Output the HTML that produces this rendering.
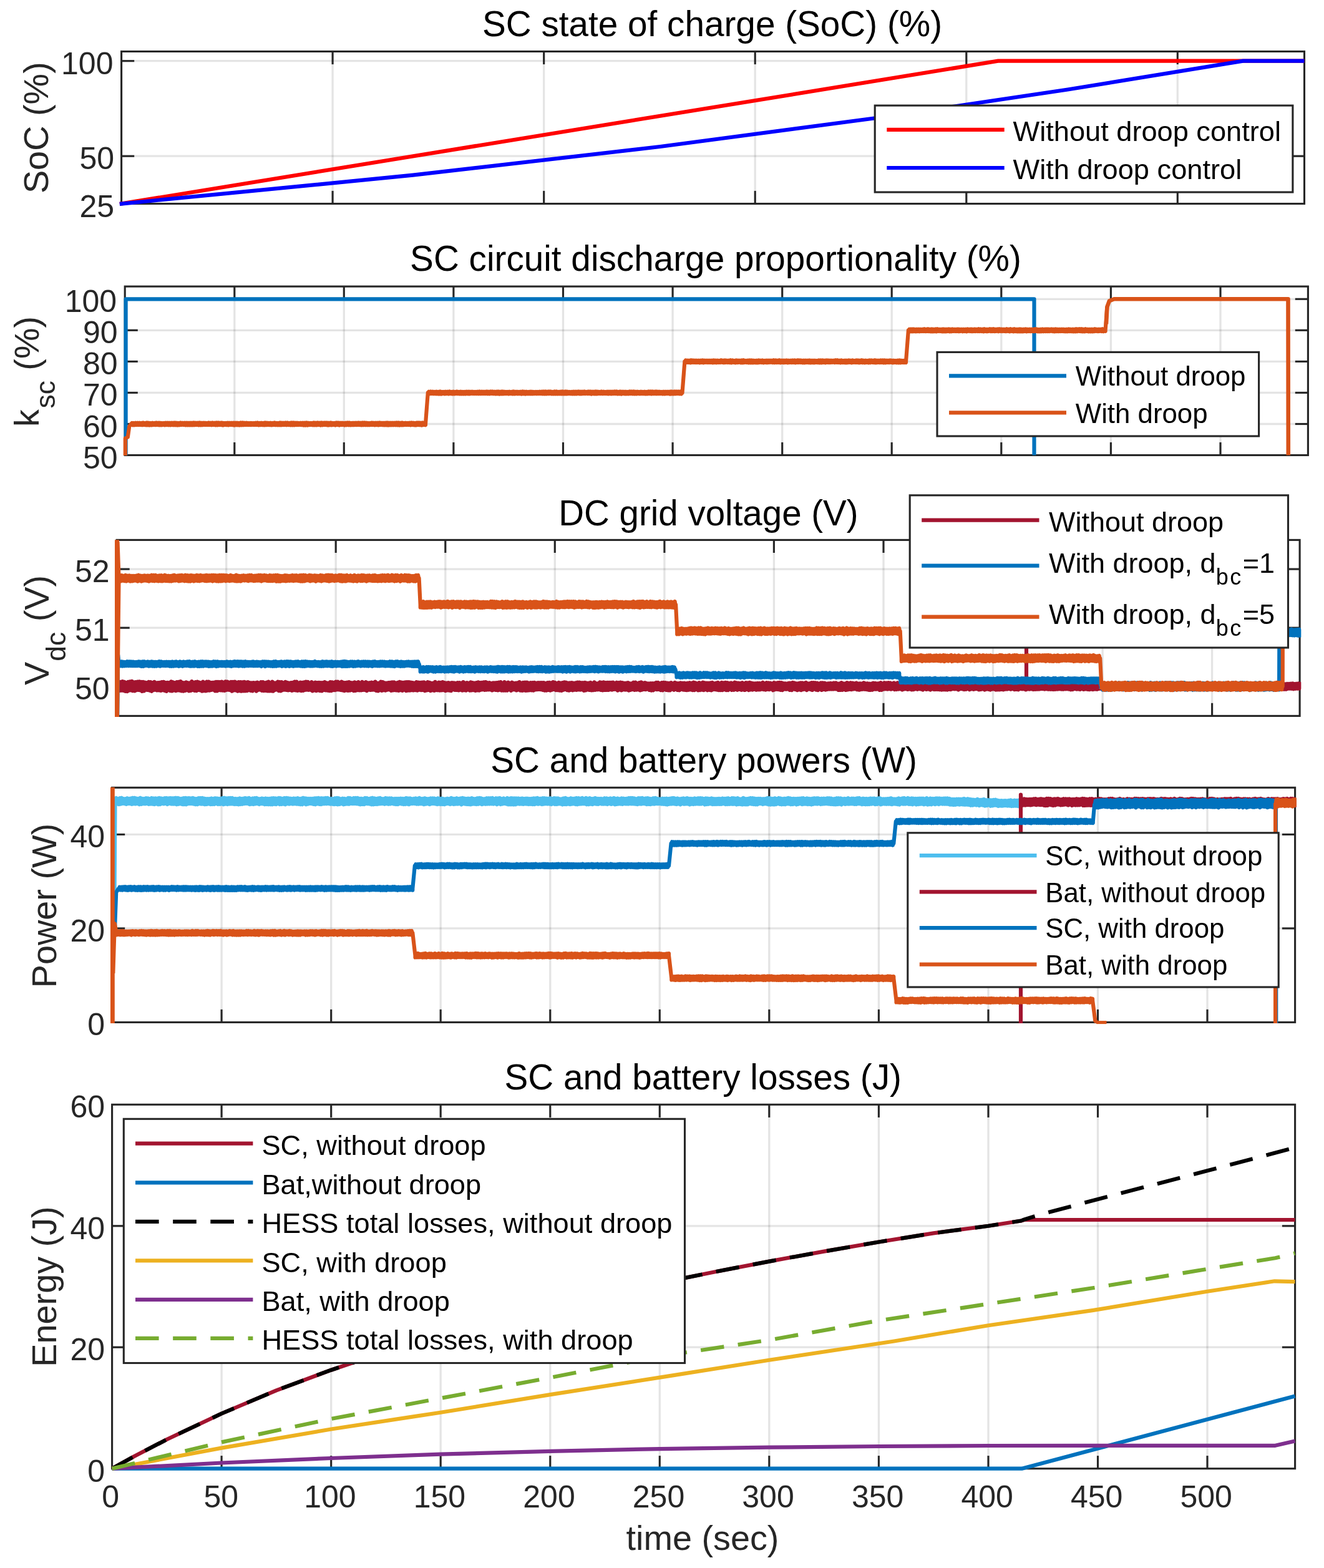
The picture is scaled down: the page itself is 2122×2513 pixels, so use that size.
<!DOCTYPE html>
<html lang="en"><head><meta charset="utf-8"><title>SC and battery droop control results</title>
<style>
html,body{margin:0;padding:0;background:#fff;}
body{width:2122px;height:2513px;overflow:hidden;}
svg{display:block;font-family:'Liberation Sans', Arial, Helvetica, sans-serif;}
</style></head><body>
<svg width="2122" height="2513" viewBox="0 0 2122 2513">
<rect width="2122" height="2513" fill="#fff"/>
<defs>
<clipPath id="c1"><rect x="190.6" y="78.5" width="1902.1" height="252"/></clipPath>
<clipPath id="c2"><rect x="196.2" y="455.1" width="1902.4" height="278.4"/></clipPath>
<clipPath id="c3"><rect x="183.1" y="861.4" width="1902.2" height="290"/></clipPath>
<clipPath id="c4"><rect x="175.6" y="1258.3" width="1902.2" height="384.1"/></clipPath>
<clipPath id="c5"><rect x="175.6" y="1766.3" width="1902.2" height="591.4"/></clipPath>
</defs>
<line x1="533.1" y1="82.5" x2="533.1" y2="326.5" stroke="rgba(0,0,0,0.105)" stroke-width="3.3"/>
<line x1="871.7" y1="82.5" x2="871.7" y2="326.5" stroke="rgba(0,0,0,0.105)" stroke-width="3.3"/>
<line x1="1210.2" y1="82.5" x2="1210.2" y2="326.5" stroke="rgba(0,0,0,0.105)" stroke-width="3.3"/>
<line x1="1548.8" y1="82.5" x2="1548.8" y2="326.5" stroke="rgba(0,0,0,0.105)" stroke-width="3.3"/>
<line x1="1887.3" y1="82.5" x2="1887.3" y2="326.5" stroke="rgba(0,0,0,0.105)" stroke-width="3.3"/>
<line x1="194.6" y1="250.2" x2="2090.5" y2="250.2" stroke="rgba(0,0,0,0.105)" stroke-width="3.3"/>
<line x1="194.6" y1="97.7" x2="2090.5" y2="97.7" stroke="rgba(0,0,0,0.105)" stroke-width="3.3"/>
<rect x="194.6" y="82.5" width="1895.9" height="244" fill="none" stroke="#262626" stroke-width="3.1"/>
<line x1="533.1" y1="326.5" x2="533.1" y2="305.9" stroke="#262626" stroke-width="3.1"/>
<line x1="533.1" y1="82.5" x2="533.1" y2="103.1" stroke="#262626" stroke-width="3.1"/>
<line x1="871.7" y1="326.5" x2="871.7" y2="305.9" stroke="#262626" stroke-width="3.1"/>
<line x1="871.7" y1="82.5" x2="871.7" y2="103.1" stroke="#262626" stroke-width="3.1"/>
<line x1="1210.2" y1="326.5" x2="1210.2" y2="305.9" stroke="#262626" stroke-width="3.1"/>
<line x1="1210.2" y1="82.5" x2="1210.2" y2="103.1" stroke="#262626" stroke-width="3.1"/>
<line x1="1548.8" y1="326.5" x2="1548.8" y2="305.9" stroke="#262626" stroke-width="3.1"/>
<line x1="1548.8" y1="82.5" x2="1548.8" y2="103.1" stroke="#262626" stroke-width="3.1"/>
<line x1="1887.3" y1="326.5" x2="1887.3" y2="305.9" stroke="#262626" stroke-width="3.1"/>
<line x1="1887.3" y1="82.5" x2="1887.3" y2="103.1" stroke="#262626" stroke-width="3.1"/>
<line x1="194.6" y1="250.2" x2="215.2" y2="250.2" stroke="#262626" stroke-width="3.1"/>
<line x1="2090.5" y1="250.2" x2="2069.9" y2="250.2" stroke="#262626" stroke-width="3.1"/>
<line x1="194.6" y1="97.7" x2="215.2" y2="97.7" stroke="#262626" stroke-width="3.1"/>
<line x1="2090.5" y1="97.7" x2="2069.9" y2="97.7" stroke="#262626" stroke-width="3.1"/>
<text x="183.1" y="347.5" font-size="50" text-anchor="end" fill="#262626">25</text>
<text x="183.1" y="271.2" font-size="50" text-anchor="end" fill="#262626">50</text>
<text x="181.5" y="118.7" font-size="50" text-anchor="end" fill="#262626">100</text>
<text x="1141.5" y="57.8" font-size="56.7" text-anchor="middle" fill="#000">SC state of charge (SoC) (%)</text>
<text transform="translate(77 204.7) rotate(-90)" font-size="55.8" text-anchor="middle" fill="#262626">SoC (%)</text>
<path d="M191.8 326.9 L1599.6 97.7 L2090.5 97.7" fill="none" stroke="#ff0000" stroke-width="6.2" stroke-linejoin="miter" stroke-linecap="butt" clip-path="url(#c1)"/>
<path d="M191.8 326.8 L661.8 280.7 L1057.9 235 L1403.2 189.2 L1711.3 143.5 L1992.3 97.7 L2090.5 97.7" fill="none" stroke="#0000ff" stroke-width="6.2" stroke-linejoin="miter" stroke-linecap="butt" clip-path="url(#c1)"/>
<rect x="1402.2" y="169.1" width="669.7" height="138.9" fill="#fff" stroke="#262626" stroke-width="3.1"/>
<line x1="1421.3" y1="207.8" x2="1609.7" y2="207.8" stroke="#ff0000" stroke-width="6.2"/>
<text x="1623.5" y="226" font-size="45.2" text-anchor="start" fill="#000">Without droop control</text>
<line x1="1421.3" y1="269" x2="1609.7" y2="269" stroke="#0000ff" stroke-width="6.2"/>
<text x="1623.5" y="287.2" font-size="45.2" text-anchor="start" fill="#000">With droop control</text>
<line x1="375.8" y1="459.1" x2="375.8" y2="729.5" stroke="rgba(0,0,0,0.105)" stroke-width="3.3"/>
<line x1="551.3" y1="459.1" x2="551.3" y2="729.5" stroke="rgba(0,0,0,0.105)" stroke-width="3.3"/>
<line x1="726.9" y1="459.1" x2="726.9" y2="729.5" stroke="rgba(0,0,0,0.105)" stroke-width="3.3"/>
<line x1="902.5" y1="459.1" x2="902.5" y2="729.5" stroke="rgba(0,0,0,0.105)" stroke-width="3.3"/>
<line x1="1078.1" y1="459.1" x2="1078.1" y2="729.5" stroke="rgba(0,0,0,0.105)" stroke-width="3.3"/>
<line x1="1253.7" y1="459.1" x2="1253.7" y2="729.5" stroke="rgba(0,0,0,0.105)" stroke-width="3.3"/>
<line x1="1429.2" y1="459.1" x2="1429.2" y2="729.5" stroke="rgba(0,0,0,0.105)" stroke-width="3.3"/>
<line x1="1604.8" y1="459.1" x2="1604.8" y2="729.5" stroke="rgba(0,0,0,0.105)" stroke-width="3.3"/>
<line x1="1780.4" y1="459.1" x2="1780.4" y2="729.5" stroke="rgba(0,0,0,0.105)" stroke-width="3.3"/>
<line x1="1956" y1="459.1" x2="1956" y2="729.5" stroke="rgba(0,0,0,0.105)" stroke-width="3.3"/>
<line x1="200.2" y1="679.5" x2="2096.4" y2="679.5" stroke="rgba(0,0,0,0.105)" stroke-width="3.3"/>
<line x1="200.2" y1="629.4" x2="2096.4" y2="629.4" stroke="rgba(0,0,0,0.105)" stroke-width="3.3"/>
<line x1="200.2" y1="579.4" x2="2096.4" y2="579.4" stroke="rgba(0,0,0,0.105)" stroke-width="3.3"/>
<line x1="200.2" y1="529.3" x2="2096.4" y2="529.3" stroke="rgba(0,0,0,0.105)" stroke-width="3.3"/>
<line x1="200.2" y1="479.3" x2="2096.4" y2="479.3" stroke="rgba(0,0,0,0.105)" stroke-width="3.3"/>
<rect x="200.2" y="459.1" width="1896.2" height="270.4" fill="none" stroke="#262626" stroke-width="3.1"/>
<line x1="375.8" y1="729.5" x2="375.8" y2="708.9" stroke="#262626" stroke-width="3.1"/>
<line x1="375.8" y1="459.1" x2="375.8" y2="479.7" stroke="#262626" stroke-width="3.1"/>
<line x1="551.3" y1="729.5" x2="551.3" y2="708.9" stroke="#262626" stroke-width="3.1"/>
<line x1="551.3" y1="459.1" x2="551.3" y2="479.7" stroke="#262626" stroke-width="3.1"/>
<line x1="726.9" y1="729.5" x2="726.9" y2="708.9" stroke="#262626" stroke-width="3.1"/>
<line x1="726.9" y1="459.1" x2="726.9" y2="479.7" stroke="#262626" stroke-width="3.1"/>
<line x1="902.5" y1="729.5" x2="902.5" y2="708.9" stroke="#262626" stroke-width="3.1"/>
<line x1="902.5" y1="459.1" x2="902.5" y2="479.7" stroke="#262626" stroke-width="3.1"/>
<line x1="1078.1" y1="729.5" x2="1078.1" y2="708.9" stroke="#262626" stroke-width="3.1"/>
<line x1="1078.1" y1="459.1" x2="1078.1" y2="479.7" stroke="#262626" stroke-width="3.1"/>
<line x1="1253.7" y1="729.5" x2="1253.7" y2="708.9" stroke="#262626" stroke-width="3.1"/>
<line x1="1253.7" y1="459.1" x2="1253.7" y2="479.7" stroke="#262626" stroke-width="3.1"/>
<line x1="1429.2" y1="729.5" x2="1429.2" y2="708.9" stroke="#262626" stroke-width="3.1"/>
<line x1="1429.2" y1="459.1" x2="1429.2" y2="479.7" stroke="#262626" stroke-width="3.1"/>
<line x1="1604.8" y1="729.5" x2="1604.8" y2="708.9" stroke="#262626" stroke-width="3.1"/>
<line x1="1604.8" y1="459.1" x2="1604.8" y2="479.7" stroke="#262626" stroke-width="3.1"/>
<line x1="1780.4" y1="729.5" x2="1780.4" y2="708.9" stroke="#262626" stroke-width="3.1"/>
<line x1="1780.4" y1="459.1" x2="1780.4" y2="479.7" stroke="#262626" stroke-width="3.1"/>
<line x1="1956" y1="729.5" x2="1956" y2="708.9" stroke="#262626" stroke-width="3.1"/>
<line x1="1956" y1="459.1" x2="1956" y2="479.7" stroke="#262626" stroke-width="3.1"/>
<line x1="200.2" y1="679.5" x2="220.8" y2="679.5" stroke="#262626" stroke-width="3.1"/>
<line x1="2096.4" y1="679.5" x2="2075.8" y2="679.5" stroke="#262626" stroke-width="3.1"/>
<line x1="200.2" y1="629.4" x2="220.8" y2="629.4" stroke="#262626" stroke-width="3.1"/>
<line x1="2096.4" y1="629.4" x2="2075.8" y2="629.4" stroke="#262626" stroke-width="3.1"/>
<line x1="200.2" y1="579.4" x2="220.8" y2="579.4" stroke="#262626" stroke-width="3.1"/>
<line x1="2096.4" y1="579.4" x2="2075.8" y2="579.4" stroke="#262626" stroke-width="3.1"/>
<line x1="200.2" y1="529.3" x2="220.8" y2="529.3" stroke="#262626" stroke-width="3.1"/>
<line x1="2096.4" y1="529.3" x2="2075.8" y2="529.3" stroke="#262626" stroke-width="3.1"/>
<line x1="200.2" y1="479.3" x2="220.8" y2="479.3" stroke="#262626" stroke-width="3.1"/>
<line x1="2096.4" y1="479.3" x2="2075.8" y2="479.3" stroke="#262626" stroke-width="3.1"/>
<text x="188.7" y="750.5" font-size="50" text-anchor="end" fill="#262626">50</text>
<text x="188.7" y="700.5" font-size="50" text-anchor="end" fill="#262626">60</text>
<text x="188.7" y="650.4" font-size="50" text-anchor="end" fill="#262626">70</text>
<text x="188.7" y="600.4" font-size="50" text-anchor="end" fill="#262626">80</text>
<text x="188.7" y="550.3" font-size="50" text-anchor="end" fill="#262626">90</text>
<text x="187.1" y="500.3" font-size="50" text-anchor="end" fill="#262626">100</text>
<text x="1147" y="434.4" font-size="56.7" text-anchor="middle" fill="#000">SC circuit discharge proportionality (%)</text>
<text transform="translate(61.5 684) rotate(-90)" font-size="55.8" fill="#262626">k<tspan dy="26.4" dx="1.5" font-size="44.6">sc</tspan><tspan dy="-26.4" dx="0.8"> (%)</tspan></text>
<path d="M201.6 729.5 L201.6 479.3 L1657.5 479.3 L1657.5 729.5" fill="none" stroke="#0072bd" stroke-width="6.2" stroke-linejoin="round" stroke-linecap="butt" clip-path="url(#c2)"/>
<path d="M200.8 729.9 L200.8 702.5 L204.8 700.5 L207.2 683.5 L210 679.5 L210 681.1 L211.5 677.9 L213 681.3 L214.5 678 L216 681.2 L217.5 677.8 L219.1 681 L220.6 677.7 L222.1 680.9 L223.6 677.7 L225.1 681 L226.6 677.9 L228.1 681.2 L229.6 677.5 L231.1 681 L232.6 677.9 L234.1 681.3 L235.6 677.4 L237.1 681.3 L238.6 677.8 L240.1 681.5 L241.6 678 L243.1 681.4 L244.6 677.8 L246.1 681 L247.6 677.9 L249.1 681.1 L250.6 677.5 L252.1 681 L253.6 677.6 L255.1 681.3 L256.6 677.8 L258.1 681.3 L259.6 678 L261.1 681 L262.6 677.9 L264.1 681.3 L265.6 677.7 L267.1 681.1 L268.6 677.6 L270.2 681.2 L271.7 677.8 L273.2 681.4 L274.7 677.6 L276.2 681.1 L277.7 677.7 L279.2 681.2 L280.7 677.5 L282.2 681.4 L283.7 677.8 L285.2 681.5 L286.7 677.9 L288.2 681.2 L289.7 677.5 L291.2 681 L292.7 677.7 L294.2 680.9 L295.7 677.6 L297.2 681.4 L298.7 677.7 L300.2 681.4 L301.7 677.8 L303.2 681.3 L304.7 677.6 L306.2 681.3 L307.7 677.7 L309.2 681.4 L310.7 677.4 L312.2 681.2 L313.7 677.6 L315.2 681 L316.7 677.6 L318.2 681.3 L319.8 677.4 L321.3 681.4 L322.8 677.8 L324.3 681.2 L325.8 677.6 L327.3 680.9 L328.8 677.7 L330.3 681 L331.8 677.9 L333.3 681 L334.8 677.5 L336.3 681 L337.8 677.8 L339.3 681.2 L340.8 677.5 L342.3 681 L343.8 677.7 L345.3 681.3 L346.8 677.5 L348.3 681.4 L349.8 677.5 L351.3 681.1 L352.8 677.7 L354.3 681.1 L355.8 677.5 L357.3 681.5 L358.8 677.9 L360.3 681 L361.8 677.9 L363.3 681.1 L364.8 677.7 L366.3 681.3 L367.8 677.8 L369.4 680.9 L370.9 677.7 L372.4 681.1 L373.9 677.7 L375.4 681.5 L376.9 677.6 L378.4 681.2 L379.9 677.6 L381.4 681.3 L382.9 678 L384.4 681.5 L385.9 677.5 L387.4 681.4 L388.9 677.5 L390.4 681.2 L391.9 677.8 L393.4 681 L394.9 677.6 L396.4 681 L397.9 678 L399.4 681 L400.9 677.9 L402.4 681.1 L403.9 678 L405.4 680.9 L406.9 677.9 L408.4 681 L409.9 677.8 L411.4 680.9 L412.9 677.5 L414.4 681.3 L415.9 677.9 L417.4 681.1 L419 677.8 L420.5 681.1 L422 677.9 L423.5 681.4 L425 677.4 L426.5 681.2 L428 677.7 L429.5 681 L431 677.9 L432.5 681.1 L434 677.8 L435.5 681.4 L437 677.9 L438.5 680.9 L440 677.4 L441.5 681.2 L443 677.9 L444.5 681.2 L446 678 L447.5 681.2 L449 677.4 L450.5 681.4 L452 677.6 L453.5 681.1 L455 677.8 L456.5 681 L458 677.5 L459.5 681.2 L461 677.5 L462.5 681.1 L464 677.9 L465.5 681.4 L467 677.4 L468.6 681.4 L470.1 677.5 L471.6 681.4 L473.1 677.6 L474.6 681.1 L476.1 677.7 L477.6 681.1 L479.1 678 L480.6 680.9 L482.1 677.8 L483.6 681.1 L485.1 677.6 L486.6 681.5 L488.1 677.7 L489.6 681.5 L491.1 677.4 L492.6 681.5 L494.1 677.8 L495.6 681.1 L497.1 677.9 L498.6 681 L500.1 677.9 L501.6 681.3 L503.1 677.5 L504.6 681.4 L506.1 677.7 L507.6 681.3 L509.1 677.5 L510.6 681 L512.1 677.6 L513.6 681.5 L515.1 677.5 L516.6 681.4 L518.1 677.7 L519.7 681 L521.2 677.5 L522.7 681.1 L524.2 677.5 L525.7 681.5 L527.2 677.8 L528.7 681.2 L530.2 677.4 L531.7 681.4 L533.2 677.9 L534.7 681 L536.2 677.9 L537.7 681.5 L539.2 677.5 L540.7 681 L542.2 677.5 L543.7 681.5 L545.2 677.6 L546.7 681.1 L548.2 677.7 L549.7 681 L551.2 678 L552.7 681.5 L554.2 677.6 L555.7 681.2 L557.2 677.4 L558.7 681.2 L560.2 677.5 L561.7 681.4 L563.2 677.9 L564.7 681.1 L566.2 677.8 L567.7 681.1 L569.3 677.6 L570.8 681.1 L572.3 677.7 L573.8 681 L575.3 677.5 L576.8 681.1 L578.3 677.7 L579.8 681.3 L581.3 677.5 L582.8 681.2 L584.3 677.4 L585.8 681.2 L587.3 677.7 L588.8 681.2 L590.3 678 L591.8 681.2 L593.3 677.9 L594.8 680.9 L596.3 677.5 L597.8 681 L599.3 677.7 L600.8 681.4 L602.3 677.7 L603.8 681.1 L605.3 677.7 L606.8 681.3 L608.3 677.5 L609.8 681 L611.3 677.7 L612.8 681.1 L614.3 677.8 L615.8 681.4 L617.3 677.7 L618.9 681.3 L620.4 677.5 L621.9 681.5 L623.4 677.7 L624.9 681.3 L626.4 677.7 L627.9 681.2 L629.4 677.6 L630.9 681.2 L632.4 677.7 L633.9 681.2 L635.4 677.4 L636.9 681.3 L638.4 677.5 L639.9 681.5 L641.4 677.8 L642.9 681.3 L644.4 677.4 L645.9 681.4 L647.4 677.9 L648.9 681 L650.4 677.7 L651.9 681 L653.4 677.9 L654.9 681 L656.4 677.6 L657.9 681.4 L659.4 677.5 L660.9 681 L662.4 677.6 L663.9 681.3 L665.4 677.9 L666.9 681.5 L668.5 677.4 L670 681.1 L671.5 677.4 L673 681.2 L674.5 677.7 L676 681.5 L677.5 677.5 L679 681 L680.5 677.7 L682 681.2 L682 679.5 L685.8 629.4 L685.8 631.1 L687.3 627.8 L688.8 631.1 L690.4 627.5 L691.9 630.9 L693.4 627.6 L694.9 631.1 L696.4 627.9 L697.9 631.1 L699.4 627.6 L700.9 631.2 L702.4 627.9 L703.9 631.5 L705.4 627.5 L706.9 631.5 L708.4 627.9 L709.9 631 L711.4 627.9 L712.9 631.3 L714.4 627.8 L715.9 631 L717.4 627.7 L718.9 631.4 L720.4 627.5 L721.9 631 L723.4 627.9 L725 631.4 L726.5 627.6 L728 631.3 L729.5 627.9 L731 630.9 L732.5 627.5 L734 631.1 L735.5 627.9 L737 631.4 L738.5 627.6 L740 631.4 L741.5 627.9 L743 631.4 L744.5 627.9 L746 631.4 L747.5 627.7 L749 631.1 L750.5 627.6 L752 631.4 L753.5 627.8 L755 631 L756.5 627.6 L758.1 631 L759.6 627.9 L761.1 631 L762.6 627.9 L764.1 631 L765.6 627.8 L767.1 631.1 L768.6 627.5 L770.1 631.1 L771.6 627.7 L773.1 631 L774.6 627.7 L776.1 630.9 L777.6 627.8 L779.1 630.9 L780.6 627.5 L782.1 631.2 L783.6 627.8 L785.1 631.2 L786.6 627.4 L788.1 630.9 L789.6 627.5 L791.1 631.1 L792.7 627.7 L794.2 631.4 L795.7 627.7 L797.2 631.2 L798.7 627.5 L800.2 631.5 L801.7 627.8 L803.2 631.4 L804.7 627.5 L806.2 631.3 L807.7 627.7 L809.2 631.1 L810.7 627.9 L812.2 631 L813.7 627.9 L815.2 631.3 L816.7 627.8 L818.2 631 L819.7 627.9 L821.2 631.4 L822.7 627.4 L824.2 631.3 L825.7 627.8 L827.3 631 L828.8 627.8 L830.3 631.2 L831.8 627.9 L833.3 631.1 L834.8 627.8 L836.3 631.5 L837.8 627.4 L839.3 631.2 L840.8 627.8 L842.3 631.5 L843.8 627.8 L845.3 631.1 L846.8 628 L848.3 631.1 L849.8 627.7 L851.3 631.2 L852.8 627.8 L854.3 631.2 L855.8 628 L857.3 631 L858.8 627.9 L860.3 631.1 L861.9 627.9 L863.4 630.9 L864.9 627.8 L866.4 631 L867.9 627.6 L869.4 631.2 L870.9 627.5 L872.4 631.3 L873.9 627.5 L875.4 631.4 L876.9 627.7 L878.4 631.1 L879.9 627.4 L881.4 631 L882.9 627.5 L884.4 631.3 L885.9 627.9 L887.4 631.4 L888.9 627.4 L890.4 631.3 L891.9 627.5 L893.4 631.4 L894.9 627.9 L896.5 631.2 L898 627.7 L899.5 631.4 L901 627.5 L902.5 631.4 L904 627.6 L905.5 631.4 L907 627.5 L908.5 631.3 L910 627.8 L911.5 630.9 L913 627.9 L914.5 631.1 L916 627.9 L917.5 631.4 L919 627.6 L920.5 631.3 L922 627.6 L923.5 631.3 L925 627.7 L926.5 630.9 L928 627.5 L929.5 631.3 L931.1 627.7 L932.6 631.2 L934.1 627.6 L935.6 630.9 L937.1 627.5 L938.6 631 L940.1 627.9 L941.6 631 L943.1 627.5 L944.6 631 L946.1 627.5 L947.6 631.5 L949.1 627.7 L950.6 631.1 L952.1 627.7 L953.6 631.3 L955.1 627.5 L956.6 631.3 L958.1 627.6 L959.6 630.9 L961.1 627.9 L962.6 631 L964.1 627.5 L965.7 631.1 L967.2 627.6 L968.7 630.9 L970.2 627.9 L971.7 631 L973.2 627.6 L974.7 631.3 L976.2 627.6 L977.7 631.1 L979.2 627.6 L980.7 631.2 L982.2 627.7 L983.7 631 L985.2 627.4 L986.7 631 L988.2 627.4 L989.7 631.4 L991.2 627.9 L992.7 631.2 L994.2 627.5 L995.7 631.5 L997.2 627.7 L998.8 631 L1000.3 627.8 L1001.8 631.4 L1003.3 627.8 L1004.8 631.2 L1006.3 627.9 L1007.8 631.2 L1009.3 627.4 L1010.8 631 L1012.3 627.5 L1013.8 631.2 L1015.3 627.4 L1016.8 631.3 L1018.3 627.8 L1019.8 631.4 L1021.3 627.7 L1022.8 630.9 L1024.3 628 L1025.8 631.2 L1027.3 627.7 L1028.8 631.1 L1030.3 627.9 L1031.8 631.1 L1033.4 627.8 L1034.9 631.4 L1036.4 628 L1037.9 631.3 L1039.4 627.5 L1040.9 631 L1042.4 627.4 L1043.9 631.3 L1045.4 627.4 L1046.9 631.1 L1048.4 627.7 L1049.9 631.1 L1051.4 627.4 L1052.9 631.2 L1054.4 627.7 L1055.9 631.1 L1057.4 627.8 L1058.9 630.9 L1060.4 627.9 L1061.9 631.4 L1063.4 627.8 L1064.9 631.4 L1066.4 627.8 L1068 631 L1069.5 627.7 L1071 631 L1072.5 627.7 L1074 631.5 L1075.5 627.4 L1077 631.4 L1078.5 627.6 L1080 631.4 L1081.5 627.4 L1083 631.2 L1084.5 627.5 L1086 630.9 L1087.5 627.5 L1089 631.2 L1090.5 627.5 L1092 631.3 L1093.5 627.8 L1093.5 629.4 L1097.4 579.4 L1097.4 580.9 L1098.9 577.4 L1100.4 580.9 L1101.9 577.6 L1103.4 581 L1104.9 577.7 L1106.4 581.3 L1107.9 577.3 L1109.4 581 L1110.9 577.5 L1112.4 581 L1113.9 577.6 L1115.4 581.1 L1116.9 577.8 L1118.4 580.9 L1119.9 577.8 L1121.4 581.4 L1122.9 577.6 L1124.4 581 L1125.9 577.4 L1127.4 581.4 L1128.9 577.6 L1130.4 580.9 L1132 577.8 L1133.5 580.9 L1135 577.7 L1136.5 580.9 L1138 577.8 L1139.5 581 L1141 577.6 L1142.5 581.4 L1144 577.5 L1145.5 581.1 L1147 577.7 L1148.5 581.2 L1150 577.7 L1151.5 581 L1153 577.9 L1154.5 581 L1156 577.3 L1157.5 580.9 L1159 577.6 L1160.5 581.2 L1162 577.4 L1163.5 581 L1165 577.8 L1166.5 581 L1168 577.7 L1169.5 581.1 L1171 577.3 L1172.5 581.4 L1174 577.4 L1175.5 580.9 L1177 577.9 L1178.5 581.3 L1180 577.4 L1181.5 581.1 L1183 577.6 L1184.6 580.8 L1186.1 577.7 L1187.6 581.4 L1189.1 577.4 L1190.6 581.4 L1192.1 577.3 L1193.6 581 L1195.1 577.9 L1196.6 580.9 L1198.1 577.6 L1199.6 581.3 L1201.1 577.4 L1202.6 581.3 L1204.1 577.5 L1205.6 581.3 L1207.1 577.6 L1208.6 581.2 L1210.1 577.9 L1211.6 581.3 L1213.1 577.8 L1214.6 581.4 L1216.1 577.5 L1217.6 581 L1219.1 577.8 L1220.6 581 L1222.1 577.5 L1223.6 581.3 L1225.1 577.9 L1226.6 580.9 L1228.1 577.6 L1229.6 581.2 L1231.1 577.7 L1232.6 581 L1234.1 577.6 L1235.6 580.8 L1237.1 577.7 L1238.7 581.1 L1240.2 577.3 L1241.7 581.2 L1243.2 577.4 L1244.7 581.1 L1246.2 577.8 L1247.7 581 L1249.2 577.3 L1250.7 581.3 L1252.2 577.7 L1253.7 580.9 L1255.2 577.6 L1256.7 581.2 L1258.2 577.7 L1259.7 581 L1261.2 577.5 L1262.7 581.4 L1264.2 577.8 L1265.7 580.9 L1267.2 577.7 L1268.7 581.1 L1270.2 577.5 L1271.7 581 L1273.2 577.4 L1274.7 581.3 L1276.2 577.6 L1277.7 581 L1279.2 577.3 L1280.7 581 L1282.2 577.4 L1283.7 581 L1285.2 577.8 L1286.7 581.3 L1288.2 577.7 L1289.7 581.4 L1291.2 577.6 L1292.8 581 L1294.3 577.8 L1295.8 581.1 L1297.3 577.5 L1298.8 581.4 L1300.3 577.8 L1301.8 581.1 L1303.3 577.8 L1304.8 581.4 L1306.3 577.8 L1307.8 580.9 L1309.3 577.9 L1310.8 581.1 L1312.3 577.4 L1313.8 581.4 L1315.3 577.5 L1316.8 581.4 L1318.3 577.4 L1319.8 581 L1321.3 577.8 L1322.8 581.4 L1324.3 577.5 L1325.8 580.9 L1327.3 577.5 L1328.8 581.1 L1330.3 577.7 L1331.8 581 L1333.3 577.8 L1334.8 580.8 L1336.3 577.7 L1337.8 581.1 L1339.3 577.3 L1340.8 580.9 L1342.3 577.3 L1343.8 581 L1345.4 577.7 L1346.9 581.3 L1348.4 577.4 L1349.9 581.1 L1351.4 577.9 L1352.9 581.1 L1354.4 577.7 L1355.9 581.4 L1357.4 577.8 L1358.9 581.1 L1360.4 577.4 L1361.9 580.9 L1363.4 577.7 L1364.9 581.3 L1366.4 577.5 L1367.9 580.9 L1369.4 577.9 L1370.9 580.9 L1372.4 577.4 L1373.9 581 L1375.4 577.5 L1376.9 581.4 L1378.4 577.7 L1379.9 581 L1381.4 577.3 L1382.9 581.2 L1384.4 577.8 L1385.9 581.3 L1387.4 577.7 L1388.9 581 L1390.4 577.9 L1391.9 581.3 L1393.4 577.4 L1394.9 581.2 L1396.4 577.4 L1397.9 580.9 L1399.5 577.8 L1401 581.1 L1402.5 577.3 L1404 581.4 L1405.5 577.7 L1407 581 L1408.5 577.7 L1410 581.1 L1411.5 577.4 L1413 581 L1414.5 577.4 L1416 581.3 L1417.5 577.4 L1419 581.3 L1420.5 577.6 L1422 581 L1423.5 577.7 L1425 581.1 L1426.5 577.4 L1428 580.9 L1429.5 577.8 L1431 581.3 L1432.5 577.8 L1434 580.9 L1435.5 577.9 L1437 581.2 L1438.5 577.7 L1440 581.4 L1441.5 577.4 L1443 581.4 L1444.5 577.8 L1446 580.9 L1447.5 577.9 L1449 581.1 L1450.5 577.5 L1452 581.1 L1452 579.4 L1455.9 529.3 L1455.9 530.9 L1457.4 527.6 L1458.9 531.2 L1460.4 527.5 L1461.9 531.3 L1463.4 527.4 L1464.9 531.2 L1466.4 527.8 L1467.9 531.3 L1469.4 527.7 L1470.9 531.1 L1472.4 527.7 L1474 531.2 L1475.5 527.8 L1477 531 L1478.5 527.7 L1480 530.9 L1481.5 527.3 L1483 531.1 L1484.5 527.7 L1486 531 L1487.5 527.3 L1489 531.1 L1490.5 527.7 L1492 531.3 L1493.5 527.5 L1495 531.4 L1496.5 527.8 L1498 531.1 L1499.5 527.4 L1501 531.3 L1502.5 527.3 L1504 530.8 L1505.5 527.7 L1507 530.9 L1508.5 527.8 L1510 531.4 L1511.5 527.5 L1513 531.4 L1514.5 527.7 L1516 531.3 L1517.5 527.6 L1519 531 L1520.6 527.4 L1522.1 531.4 L1523.6 527.8 L1525.1 531.2 L1526.6 527.5 L1528.1 530.9 L1529.6 527.7 L1531.1 530.9 L1532.6 527.8 L1534.1 531 L1535.6 527.5 L1537.1 531.2 L1538.6 527.8 L1540.1 530.8 L1541.6 527.7 L1543.1 531.2 L1544.6 527.8 L1546.1 531 L1547.6 527.8 L1549.1 531.3 L1550.6 527.5 L1552.1 530.8 L1553.6 527.8 L1555.1 531 L1556.6 527.5 L1558.1 531.2 L1559.6 527.8 L1561.1 530.9 L1562.6 527.5 L1564.1 531 L1565.7 527.7 L1567.2 531 L1568.7 527.3 L1570.2 531 L1571.7 527.5 L1573.2 531 L1574.7 527.6 L1576.2 531.3 L1577.7 527.3 L1579.2 531 L1580.7 527.8 L1582.2 531.2 L1583.7 527.8 L1585.2 530.8 L1586.7 527.3 L1588.2 531.1 L1589.7 527.4 L1591.2 531 L1592.7 527.3 L1594.2 531.1 L1595.7 527.8 L1597.2 530.8 L1598.7 527.5 L1600.2 531.2 L1601.7 527.3 L1603.2 530.9 L1604.7 527.5 L1606.2 531 L1607.7 527.6 L1609.2 530.9 L1610.7 527.7 L1612.3 531.1 L1613.8 527.3 L1615.3 530.9 L1616.8 527.6 L1618.3 531.3 L1619.8 527.3 L1621.3 530.9 L1622.8 527.8 L1624.3 531.4 L1625.8 527.3 L1627.3 531.1 L1628.8 527.8 L1630.3 531.4 L1631.8 527.6 L1633.3 531.3 L1634.8 527.5 L1636.3 531.3 L1637.8 527.8 L1639.3 531.3 L1640.8 527.7 L1642.3 531 L1643.8 527.4 L1645.3 531.3 L1646.8 527.8 L1648.3 530.9 L1649.8 527.6 L1651.3 531.1 L1652.8 527.6 L1654.3 530.9 L1655.8 527.7 L1657.3 531.2 L1658.9 527.3 L1660.4 530.8 L1661.9 527.5 L1663.4 531.3 L1664.9 527.9 L1666.4 531.3 L1667.9 527.8 L1669.4 531.2 L1670.9 527.5 L1672.4 531.2 L1673.9 527.7 L1675.4 531.1 L1676.9 527.5 L1678.4 531.1 L1679.9 527.5 L1681.4 531.1 L1682.9 527.6 L1684.4 530.8 L1685.9 527.5 L1687.4 531.1 L1688.9 527.7 L1690.4 531.3 L1691.9 527.4 L1693.4 531.1 L1694.9 527.8 L1696.4 531.1 L1697.9 527.8 L1699.4 530.9 L1700.9 527.6 L1702.4 530.9 L1703.9 527.6 L1705.5 531.1 L1707 527.9 L1708.5 531.2 L1710 527.8 L1711.5 531.2 L1713 527.4 L1714.5 531.1 L1716 527.8 L1717.5 531.1 L1719 527.7 L1720.5 531.4 L1722 527.8 L1723.5 531.3 L1725 527.3 L1726.5 531.2 L1728 527.4 L1729.5 530.9 L1731 527.3 L1732.5 531.1 L1734 527.3 L1735.5 531.4 L1737 527.8 L1738.5 531.3 L1740 527.3 L1741.5 530.8 L1743 527.7 L1744.5 531.3 L1746 527.8 L1747.5 531.3 L1749 527.7 L1750.6 531.3 L1752.1 527.8 L1753.6 531.1 L1755.1 527.3 L1756.6 530.9 L1758.1 527.7 L1759.6 531.1 L1761.1 527.7 L1762.6 530.8 L1764.1 527.8 L1765.6 530.9 L1767.1 527.3 L1768.6 531.2 L1770.1 527.3 L1771.6 530.9 L1771.6 529.3 L1774.4 491.8" fill="none" stroke="#d95319" stroke-width="6.2" stroke-linejoin="round" stroke-linecap="butt" clip-path="url(#c2)"/>
<path d="M1773 519.3 L1774.4 491.8 L1777.9 482.3 L1785.6 479.3 L2064.5 479.3 L2064.8 729.5" fill="none" stroke="#d95319" stroke-width="6.6" stroke-linejoin="round" stroke-linecap="butt" clip-path="url(#c2)"/>
<rect x="1502" y="564.4" width="515.6" height="134.6" fill="#fff" stroke="#262626" stroke-width="3.1"/>
<line x1="1521" y1="602.4" x2="1709" y2="602.4" stroke="#0072bd" stroke-width="6.2"/>
<text x="1723.8" y="618.2" font-size="43.8" text-anchor="start" fill="#000">Without droop</text>
<line x1="1521" y1="661.3" x2="1709" y2="661.3" stroke="#d95319" stroke-width="6.2"/>
<text x="1723.8" y="678" font-size="43.8" text-anchor="start" fill="#000">With droop</text>
<line x1="362.7" y1="865.4" x2="362.7" y2="1147.4" stroke="rgba(0,0,0,0.105)" stroke-width="3.3"/>
<line x1="538.2" y1="865.4" x2="538.2" y2="1147.4" stroke="rgba(0,0,0,0.105)" stroke-width="3.3"/>
<line x1="713.8" y1="865.4" x2="713.8" y2="1147.4" stroke="rgba(0,0,0,0.105)" stroke-width="3.3"/>
<line x1="889.3" y1="865.4" x2="889.3" y2="1147.4" stroke="rgba(0,0,0,0.105)" stroke-width="3.3"/>
<line x1="1064.9" y1="865.4" x2="1064.9" y2="1147.4" stroke="rgba(0,0,0,0.105)" stroke-width="3.3"/>
<line x1="1240.4" y1="865.4" x2="1240.4" y2="1147.4" stroke="rgba(0,0,0,0.105)" stroke-width="3.3"/>
<line x1="1416" y1="865.4" x2="1416" y2="1147.4" stroke="rgba(0,0,0,0.105)" stroke-width="3.3"/>
<line x1="1591.5" y1="865.4" x2="1591.5" y2="1147.4" stroke="rgba(0,0,0,0.105)" stroke-width="3.3"/>
<line x1="1767.1" y1="865.4" x2="1767.1" y2="1147.4" stroke="rgba(0,0,0,0.105)" stroke-width="3.3"/>
<line x1="1942.6" y1="865.4" x2="1942.6" y2="1147.4" stroke="rgba(0,0,0,0.105)" stroke-width="3.3"/>
<line x1="187.1" y1="1100.3" x2="2083.1" y2="1100.3" stroke="rgba(0,0,0,0.105)" stroke-width="3.3"/>
<line x1="187.1" y1="1006.2" x2="2083.1" y2="1006.2" stroke="rgba(0,0,0,0.105)" stroke-width="3.3"/>
<line x1="187.1" y1="912.1" x2="2083.1" y2="912.1" stroke="rgba(0,0,0,0.105)" stroke-width="3.3"/>
<rect x="187.1" y="865.4" width="1896" height="282" fill="none" stroke="#262626" stroke-width="3.1"/>
<line x1="362.7" y1="1147.4" x2="362.7" y2="1126.8" stroke="#262626" stroke-width="3.1"/>
<line x1="362.7" y1="865.4" x2="362.7" y2="886" stroke="#262626" stroke-width="3.1"/>
<line x1="538.2" y1="1147.4" x2="538.2" y2="1126.8" stroke="#262626" stroke-width="3.1"/>
<line x1="538.2" y1="865.4" x2="538.2" y2="886" stroke="#262626" stroke-width="3.1"/>
<line x1="713.8" y1="1147.4" x2="713.8" y2="1126.8" stroke="#262626" stroke-width="3.1"/>
<line x1="713.8" y1="865.4" x2="713.8" y2="886" stroke="#262626" stroke-width="3.1"/>
<line x1="889.3" y1="1147.4" x2="889.3" y2="1126.8" stroke="#262626" stroke-width="3.1"/>
<line x1="889.3" y1="865.4" x2="889.3" y2="886" stroke="#262626" stroke-width="3.1"/>
<line x1="1064.9" y1="1147.4" x2="1064.9" y2="1126.8" stroke="#262626" stroke-width="3.1"/>
<line x1="1064.9" y1="865.4" x2="1064.9" y2="886" stroke="#262626" stroke-width="3.1"/>
<line x1="1240.4" y1="1147.4" x2="1240.4" y2="1126.8" stroke="#262626" stroke-width="3.1"/>
<line x1="1240.4" y1="865.4" x2="1240.4" y2="886" stroke="#262626" stroke-width="3.1"/>
<line x1="1416" y1="1147.4" x2="1416" y2="1126.8" stroke="#262626" stroke-width="3.1"/>
<line x1="1416" y1="865.4" x2="1416" y2="886" stroke="#262626" stroke-width="3.1"/>
<line x1="1591.5" y1="1147.4" x2="1591.5" y2="1126.8" stroke="#262626" stroke-width="3.1"/>
<line x1="1591.5" y1="865.4" x2="1591.5" y2="886" stroke="#262626" stroke-width="3.1"/>
<line x1="1767.1" y1="1147.4" x2="1767.1" y2="1126.8" stroke="#262626" stroke-width="3.1"/>
<line x1="1767.1" y1="865.4" x2="1767.1" y2="886" stroke="#262626" stroke-width="3.1"/>
<line x1="1942.6" y1="1147.4" x2="1942.6" y2="1126.8" stroke="#262626" stroke-width="3.1"/>
<line x1="1942.6" y1="865.4" x2="1942.6" y2="886" stroke="#262626" stroke-width="3.1"/>
<line x1="187.1" y1="1100.3" x2="207.7" y2="1100.3" stroke="#262626" stroke-width="3.1"/>
<line x1="2083.1" y1="1100.3" x2="2062.5" y2="1100.3" stroke="#262626" stroke-width="3.1"/>
<line x1="187.1" y1="1006.2" x2="207.7" y2="1006.2" stroke="#262626" stroke-width="3.1"/>
<line x1="2083.1" y1="1006.2" x2="2062.5" y2="1006.2" stroke="#262626" stroke-width="3.1"/>
<line x1="187.1" y1="912.1" x2="207.7" y2="912.1" stroke="#262626" stroke-width="3.1"/>
<line x1="2083.1" y1="912.1" x2="2062.5" y2="912.1" stroke="#262626" stroke-width="3.1"/>
<text x="175.6" y="1121.3" font-size="50" text-anchor="end" fill="#262626">50</text>
<text x="175.6" y="1027.2" font-size="50" text-anchor="end" fill="#262626">51</text>
<text x="175.6" y="933.1" font-size="50" text-anchor="end" fill="#262626">52</text>
<text x="1135.4" y="841.6" font-size="56.5" text-anchor="middle" fill="#000">DC grid voltage (V)</text>
<text transform="translate(78.1 1098) rotate(-90)" font-size="55.8" fill="#262626">V<tspan dy="26.4" dx="1" font-size="44.6">dc</tspan><tspan dy="-26.4" dx="0.8"> (V)</tspan></text>
<path d="M188.9 1107.6 L190.4 1094 L191.9 1107 L193.4 1092.8 L194.9 1106.6 L196.4 1092.2 L197.9 1107 L199.4 1092.9 L200.9 1107.8 L202.4 1094 L203.9 1108.1 L205.4 1092.8 L206.9 1106.7 L208.4 1092.4 L209.9 1106.3 L211.4 1091.9 L212.9 1107.1 L214.4 1093.4 L215.9 1107.5 L217.4 1093.2 L218.9 1106.1 L220.4 1092.5 L221.9 1105.8 L223.4 1092.4 L224.9 1106.3 L226.4 1092.8 L227.9 1108 L229.4 1092.9 L230.9 1107.3 L232.4 1093.6 L233.9 1105.7 L235.4 1094.2 L236.9 1106 L238.4 1092.9 L239.9 1106.7 L241.4 1093.1 L242.9 1107.8 L244.4 1094 L245.9 1106.2 L247.4 1092.8 L248.9 1105.7 L250.4 1094.3 L251.9 1106.5 L253.4 1094.1 L254.9 1106.5 L256.4 1093.8 L257.9 1107 L259.4 1093 L260.9 1106.1 L262.4 1092.9 L263.9 1106.8 L265.4 1094 L266.9 1107.8 L268.4 1093.8 L269.9 1106 L271.4 1094.1 L272.9 1107.1 L274.4 1092.3 L275.9 1107.5 L277.4 1093.4 L278.9 1106.3 L280.4 1094.3 L281.9 1107.1 L283.4 1093.1 L284.9 1106.4 L286.4 1092.9 L287.9 1106.7 L289.4 1092.2 L290.9 1107.3 L292.4 1093.8 L293.9 1107.7 L295.4 1094.3 L296.9 1106.8 L298.4 1093.4 L299.9 1106.2 L301.4 1094.3 L302.9 1107.4 L304.4 1094.4 L305.9 1106.9 L307.4 1092.2 L308.9 1105.9 L310.4 1093.9 L311.9 1107 L313.4 1093.2 L314.9 1107.1 L316.4 1092.5 L317.9 1106 L319.4 1093.7 L320.9 1106.3 L322.4 1094.3 L323.9 1107.6 L325.4 1092.6 L326.9 1107.2 L328.4 1094.4 L329.9 1107.5 L331.4 1092.7 L332.9 1106.6 L334.4 1092.7 L335.9 1106.6 L337.4 1093.9 L338.9 1105.8 L340.4 1093.9 L341.9 1105.7 L343.4 1093.7 L344.9 1107.3 L346.4 1092.9 L347.9 1107.5 L349.4 1092.8 L350.9 1106.2 L352.4 1093.2 L353.9 1106.5 L355.4 1092.7 L356.9 1106.7 L358.4 1093.9 L359.9 1107 L361.4 1092.3 L362.9 1106 L364.4 1092.5 L365.9 1105.6 L367.4 1093.9 L368.9 1106.1 L370.4 1092.8 L371.9 1107.7 L373.4 1092.8 L374.9 1106.3 L376.4 1092.5 L377.9 1106.3 L379.4 1093.9 L380.9 1107.6 L382.4 1093.1 L383.9 1107.1 L385.4 1093 L386.9 1107.7 L388.4 1093.4 L389.9 1107.4 L391.4 1092.9 L392.9 1107.4 L394.4 1093.5 L395.9 1107.1 L397.4 1093.2 L398.9 1106.2 L400.4 1094 L401.9 1106.9 L403.4 1094.3 L404.9 1107.5 L406.4 1094.2 L407.9 1105.5 L409.4 1094.3 L410.9 1107.6 L412.4 1093.7 L413.9 1105.8 L415.4 1094.5 L416.9 1105.6 L418.4 1093 L419.9 1106.9 L421.4 1093 L422.9 1107.1 L424.4 1094.4 L425.9 1106.8 L427.4 1093.7 L428.9 1107.3 L430.4 1092.7 L431.9 1107.4 L433.4 1094.4 L434.9 1107.4 L436.4 1092.5 L437.9 1107.6 L439.4 1094.3 L440.9 1105.9 L442.4 1094.3 L443.9 1105.5 L445.4 1092.7 L446.9 1107.2 L448.4 1093.2 L449.9 1107.3 L451.4 1093.2 L452.9 1106.1 L454.4 1094.4 L455.9 1105.6 L457.4 1092.9 L458.9 1105.9 L460.4 1093.9 L461.9 1106.4 L463.4 1094.5 L464.9 1106 L466.4 1094 L467.9 1107 L469.4 1093.8 L470.9 1106.1 L472.4 1092.5 L473.9 1106.5 L475.4 1092.7 L476.9 1106.8 L478.4 1094.5 L479.9 1106.3 L481.4 1093.6 L482.9 1107.1 L484.4 1093.8 L485.9 1106.9 L487.4 1093.4 L488.9 1105.9 L490.4 1092.7 L491.9 1105.6 L493.4 1092.8 L494.9 1105.8 L496.4 1094.6 L497.9 1105.8 L499.4 1093 L500.9 1107.5 L502.4 1094.6 L503.9 1106.4 L505.4 1093.6 L506.9 1107.1 L508.4 1094.2 L509.9 1106.4 L511.4 1093.9 L512.9 1107.2 L514.4 1094.1 L515.9 1107.4 L517.4 1094 L518.9 1105.8 L520.4 1093.1 L521.9 1106.4 L523.4 1094.4 L524.9 1106.7 L526.4 1094.5 L527.9 1107.1 L529.4 1093.1 L530.9 1107.1 L532.4 1093.3 L533.9 1106.1 L535.4 1093.8 L536.9 1106.2 L538.4 1092.7 L539.9 1105.5 L541.4 1092.7 L542.9 1105.4 L544.4 1094.2 L545.9 1105.9 L547.4 1092.7 L548.9 1106.4 L550.4 1093.9 L551.9 1107.2 L553.4 1094.2 L554.9 1106.3 L556.4 1093.5 L557.9 1106.9 L559.4 1093.1 L560.9 1106.7 L562.4 1094 L563.9 1106 L565.4 1094.4 L566.9 1107.1 L568.4 1093.3 L569.9 1106.9 L571.4 1094.4 L572.9 1106.2 L574.4 1093 L575.9 1106.5 L577.4 1094.5 L578.9 1106.3 L580.4 1092.8 L581.9 1105.8 L583.4 1094.3 L584.9 1105.9 L586.4 1093.2 L587.9 1107.1 L589.4 1094.4 L590.9 1105.6 L592.5 1094.2 L594 1106 L595.5 1093.6 L597 1105.6 L598.5 1094 L600 1105.7 L601.5 1092.7 L603 1106.8 L604.5 1094.5 L606 1107.3 L607.5 1094.5 L609 1106.1 L610.5 1092.7 L612 1106.9 L613.5 1093.2 L615 1106.2 L616.5 1094.4 L618 1106.6 L619.5 1094.5 L621 1105.7 L622.5 1094 L624 1105.3 L625.5 1093.9 L627 1106.9 L628.5 1093.3 L630 1106.3 L631.5 1093.4 L633 1106.2 L634.5 1094.5 L636 1106.5 L637.5 1093.9 L639 1106.8 L640.5 1092.9 L642 1106.1 L643.5 1093.6 L645 1106.8 L646.5 1093.9 L648 1105.7 L649.5 1093.3 L651 1107.1 L652.5 1093.2 L654 1106.7 L655.5 1093 L657 1106.6 L658.5 1093.5 L660 1106.1 L661.5 1094.2 L663 1106.5 L664.5 1094.6 L666 1106.1 L667.5 1093.2 L669 1106.7 L670.5 1093.5 L672 1105.7 L673.5 1093.9 L675 1106.1 L676.5 1093.5 L678 1106 L679.5 1093.4 L681 1107.1 L682.5 1094.5 L684 1106.5 L685.5 1093.2 L687 1106 L688.5 1093.8 L690 1107.2 L691.5 1094.8 L693 1106.3 L694.5 1094.5 L696 1106.8 L697.5 1092.9 L699 1106.2 L700.5 1094.7 L702 1106.3 L703.5 1093.7 L705 1106.6 L706.5 1093.8 L708 1106.5 L709.5 1093.2 L711 1106.2 L712.5 1094 L714 1107.1 L715.5 1094.5 L717 1106.5 L718.5 1094.1 L720 1106.7 L721.5 1094.6 L723 1107.2 L724.5 1094.2 L726 1105.2 L727.5 1094.3 L729 1105.9 L730.5 1094.9 L732 1106 L733.5 1094 L735 1106.5 L736.5 1094.2 L738 1105.6 L739.5 1094.5 L741 1106.6 L742.5 1093 L744 1106.2 L745.5 1094.5 L747 1106.7 L748.5 1094.1 L750 1105.5 L751.5 1094.7 L753 1106.7 L754.5 1093.3 L756 1106.4 L757.5 1094 L759 1106.2 L760.5 1094.5 L762 1107 L763.5 1094.2 L765 1106.4 L766.5 1093.3 L768 1106.7 L769.5 1094 L771 1105.6 L772.5 1093.8 L774 1105.3 L775.5 1093.3 L777 1105.8 L778.5 1093.2 L780 1105.6 L781.5 1094.2 L783 1105.5 L784.5 1094.1 L786 1105.4 L787.5 1095 L789 1106.5 L790.5 1094.4 L792 1105.5 L793.5 1094.4 L795 1106 L796.5 1094.1 L798 1106.3 L799.5 1093.6 L801 1105.7 L802.5 1093.1 L804 1106.7 L805.5 1094.9 L807 1106.7 L808.5 1093.2 L810 1106.6 L811.5 1094.7 L813 1106.7 L814.5 1093.7 L816 1105 L817.5 1095 L819 1106.9 L820.5 1093.7 L822 1105.5 L823.5 1094.8 L825 1105.3 L826.5 1094.6 L828 1106.5 L829.5 1094.3 L831 1105.3 L832.5 1093.2 L834 1106.6 L835.5 1094.7 L837 1106.8 L838.5 1093.8 L840 1106.5 L841.5 1093.7 L843 1106.8 L844.5 1093.5 L846 1106.6 L847.5 1094.7 L849 1106.3 L850.5 1094 L852 1106.4 L853.5 1094.2 L855 1106.7 L856.5 1093.9 L858 1105.5 L859.5 1094.6 L861 1105.2 L862.5 1094.1 L864 1105 L865.5 1094.1 L867 1105.2 L868.5 1094.1 L870 1105.9 L871.5 1094 L873 1106.6 L874.5 1095.1 L876 1106.6 L877.5 1094.2 L879 1106 L880.5 1093.8 L882 1106.6 L883.5 1094.4 L885 1105.7 L886.5 1093.2 L888 1105 L889.5 1093.8 L891 1106.2 L892.5 1095.1 L894 1106.1 L895.5 1093.8 L897 1106.7 L898.5 1094.5 L900 1106.8 L901.5 1094.1 L903 1105.8 L904.5 1093.3 L906 1104.9 L907.5 1093.7 L909 1106.1 L910.5 1094.5 L912 1106.6 L913.5 1094.4 L915 1105.8 L916.5 1094.1 L918 1106.4 L919.5 1094.7 L921 1105.7 L922.5 1094.3 L924 1105.9 L925.5 1093.5 L927 1105.4 L928.5 1093.5 L930 1105.6 L931.5 1094.2 L933 1105.4 L934.5 1094.2 L936 1106.8 L937.5 1093.9 L939 1106.4 L940.5 1094.5 L942 1105.5 L943.5 1094.6 L945 1106 L946.5 1093.9 L948 1106.4 L949.5 1095.1 L951 1106.2 L952.5 1093.4 L954 1105.9 L955.5 1095.1 L957 1105.4 L958.5 1095.2 L960 1105.2 L961.5 1093.4 L963 1106 L964.5 1093.9 L966 1106.3 L967.5 1093.4 L969 1106 L970.5 1094 L972 1106 L973.5 1093.8 L975 1106 L976.5 1093.9 L978 1105.2 L979.5 1093.9 L981 1105.7 L982.5 1093.7 L984 1105 L985.5 1094.9 L987 1104.8 L988.5 1093.7 L990 1106.6 L991.5 1094 L993 1105.5 L994.5 1093.6 L996 1106.3 L997.5 1094.1 L999 1105.3 L1000.5 1094.7 L1002 1105.6 L1003.5 1094.6 L1005 1105.6 L1006.5 1094 L1008 1106.6 L1009.5 1095.2 L1011 1105.8 L1012.5 1095.2 L1014 1105 L1015.5 1093.7 L1017 1105.8 L1018.5 1093.5 L1020.1 1105.6 L1021.6 1095.2 L1023.1 1105.5 L1024.6 1094.1 L1026.1 1106.5 L1027.6 1093.4 L1029.1 1105.6 L1030.6 1094.5 L1032.1 1104.9 L1033.6 1094 L1035.1 1105.1 L1036.6 1095 L1038.1 1104.7 L1039.6 1095.3 L1041.1 1106 L1042.6 1095.1 L1044.1 1106.6 L1045.6 1095.1 L1047.1 1106.4 L1048.6 1095.1 L1050.1 1104.7 L1051.6 1093.9 L1053.1 1105.2 L1054.6 1093.9 L1056.1 1105 L1057.6 1095.2 L1059.1 1106.2 L1060.6 1094 L1062.1 1106.3 L1063.6 1093.9 L1065.1 1104.8 L1066.6 1094.1 L1068.1 1106 L1069.6 1094.5 L1071.1 1106.4 L1072.6 1094.9 L1074.1 1106.5 L1075.6 1094 L1077.1 1104.7 L1078.6 1095.3 L1080.1 1105.9 L1081.6 1093.8 L1083.1 1104.8 L1084.6 1094.8 L1086.1 1106 L1087.6 1095 L1089.1 1106.3 L1090.6 1094.4 L1092.1 1104.8 L1093.6 1094.7 L1095.1 1105.7 L1096.6 1094.5 L1098.1 1105.9 L1099.6 1095.1 L1101.1 1106.1 L1102.6 1094.7 L1104.1 1105.8 L1105.6 1094.2 L1107.1 1105.4 L1108.6 1094.7 L1110.1 1106.1 L1111.6 1093.6 L1113.1 1106.1 L1114.6 1094.3 L1116.1 1105.2 L1117.6 1095.3 L1119.1 1106.4 L1120.6 1094.1 L1122.1 1106.2 L1123.6 1094.8 L1125.1 1105.7 L1126.6 1093.6 L1128.1 1106.2 L1129.6 1094.3 L1131.1 1105.2 L1132.6 1094.6 L1134.1 1106.3 L1135.6 1094.7 L1137.1 1105.9 L1138.6 1094.3 L1140.1 1106.3 L1141.6 1093.9 L1143.1 1105.1 L1144.6 1095.4 L1146.1 1105.1 L1147.6 1094.6 L1149.1 1105.7 L1150.6 1093.9 L1152.1 1106.2 L1153.6 1095.4 L1155.1 1106.1 L1156.6 1093.9 L1158.1 1106.2 L1159.6 1094.4 L1161.1 1105.1 L1162.6 1093.9 L1164.1 1106.1 L1165.6 1094.2 L1167.1 1106.2 L1168.6 1094.8 L1170.1 1104.7 L1171.6 1094.4 L1173.1 1106 L1174.6 1095.1 L1176.1 1105.9 L1177.6 1093.7 L1179.1 1105 L1180.6 1094.3 L1182.1 1105.8 L1183.6 1094.6 L1185.1 1104.9 L1186.6 1095 L1188.1 1105.9 L1189.6 1094 L1191.1 1105.4 L1192.6 1095.3 L1194.1 1106 L1195.6 1094.1 L1197.1 1104.9 L1198.6 1094.4 L1200.1 1106.2 L1201.6 1093.9 L1203.1 1105.5 L1204.6 1094.6 L1206.1 1105.6 L1207.6 1095.2 L1209.1 1104.8 L1210.6 1095.2 L1212.1 1105.8 L1213.6 1094.8 L1215.1 1105.5 L1216.6 1094.8 L1218.1 1105.4 L1219.6 1095.2 L1221.1 1104.6 L1222.6 1093.7 L1224.1 1105.2 L1225.6 1095.3 L1227.1 1105.6 L1228.6 1094.1 L1230.1 1104.8 L1231.6 1094.4 L1233.1 1105.1 L1234.6 1094.6 L1236.1 1104.5 L1237.6 1095.5 L1239.1 1106.3 L1240.6 1094 L1242.1 1105.3 L1243.6 1094.5 L1245.1 1104.9 L1246.6 1094.1 L1248.1 1105.2 L1249.6 1093.8 L1251.1 1105.8 L1252.6 1094.1 L1254.1 1106.2 L1255.6 1095.1 L1257.1 1104.5 L1258.6 1095.2 L1260.1 1104.8 L1261.6 1095.4 L1263.1 1104.5 L1264.6 1094.6 L1266.1 1106 L1267.6 1094.7 L1269.1 1106.1 L1270.6 1093.9 L1272.1 1104.5 L1273.6 1094.5 L1275.1 1105.1 L1276.6 1095.4 L1278.1 1106.1 L1279.6 1095.1 L1281.1 1105.4 L1282.6 1094.4 L1284.1 1106.1 L1285.6 1094.4 L1287.1 1105.1 L1288.6 1094.8 L1290.1 1104.7 L1291.6 1093.9 L1293.1 1106.2 L1294.6 1095.2 L1296.1 1104.5 L1297.6 1095.2 L1299.1 1105 L1300.6 1094 L1302.1 1106 L1303.6 1094.1 L1305.1 1104.5 L1306.6 1094.2 L1308.1 1105.6 L1309.6 1094.5 L1311.1 1106.1 L1312.6 1095.5 L1314.1 1104.6 L1315.6 1094.3 L1317.1 1106 L1318.6 1094.4 L1320.1 1104.9 L1321.6 1094.6 L1323.1 1105.7 L1324.6 1095.5 L1326.1 1104.9 L1327.6 1095.2 L1329.1 1104.6 L1330.6 1094.8 L1332.1 1104.6 L1333.6 1095.2 L1335.1 1104.6 L1336.6 1094.5 L1338.1 1104.4 L1339.6 1094.4 L1341.1 1104.7 L1342.6 1095.6 L1344.1 1106 L1345.6 1095.3 L1347.1 1106 L1348.6 1094.1 L1350.1 1105.9 L1351.6 1095.4 L1353.1 1105.1 L1354.6 1095.5 L1356.1 1106 L1357.6 1094.2 L1359.1 1105.4 L1360.6 1094.9 L1362.1 1104.9 L1363.6 1094.2 L1365.1 1105.1 L1366.6 1094.6 L1368.1 1104.5 L1369.6 1095.3 L1371.1 1104.4 L1372.6 1094.5 L1374.1 1105.3 L1375.6 1095.5 L1377.1 1105.8 L1378.6 1095.2 L1380.1 1105 L1381.6 1095.4 L1383.1 1104.8 L1384.6 1094.2 L1386.1 1104.9 L1387.6 1095.4 L1389.1 1105.1 L1390.6 1095.2 L1392.1 1105.8 L1393.6 1095.5 L1395.1 1106 L1396.6 1095.6 L1398.1 1105.8 L1399.6 1094.6 L1401.1 1104.6 L1402.6 1094.9 L1404.1 1104.8 L1405.6 1095.3 L1407.1 1104.6 L1408.6 1095.1 L1410.1 1106 L1411.6 1094 L1413.1 1105.9 L1414.6 1095.6 L1416.1 1104.7 L1417.6 1094.2 L1419.1 1104.3 L1420.6 1094.5 L1422.1 1104.7 L1423.6 1094.1 L1425.1 1104.3 L1426.6 1094.4 L1428.1 1104.8 L1429.6 1095.5 L1431.1 1104.2 L1432.6 1094.3 L1434.1 1105.1 L1435.6 1095.5 L1437.1 1105 L1438.6 1094.2 L1440.1 1104.6 L1441.6 1094.8 L1443.1 1104.4 L1444.6 1095.5 L1446.2 1105.5 L1447.7 1094.6 L1449.2 1104.5 L1450.7 1095.7 L1452.2 1104.3 L1453.7 1094.8 L1455.2 1105 L1456.7 1095.3 L1458.2 1104.5 L1459.7 1094.8 L1461.2 1105.4 L1462.7 1094.4 L1464.2 1105.2 L1465.7 1095.5 L1467.2 1104.3 L1468.7 1094.6 L1470.2 1104.9 L1471.7 1094.6 L1473.2 1104.3 L1474.7 1094.4 L1476.2 1104.7 L1477.7 1094.4 L1479.2 1105.6 L1480.7 1095 L1482.2 1104.2 L1483.7 1094.3 L1485.2 1105 L1486.7 1094.4 L1488.2 1104.6 L1489.7 1095.5 L1491.2 1105.6 L1492.7 1095.2 L1494.2 1104.4 L1495.7 1095.2 L1497.2 1105.1 L1498.7 1095.9 L1500.2 1105 L1501.7 1095.1 L1503.2 1105 L1504.7 1095.7 L1506.2 1105.3 L1507.7 1094.5 L1509.2 1105.6 L1510.7 1095.3 L1512.2 1105.3 L1513.7 1095.2 L1515.2 1105.4 L1516.7 1095.8 L1518.2 1105.6 L1519.7 1094.3 L1521.2 1104.9 L1522.7 1095 L1524.2 1105 L1525.7 1095 L1527.2 1104.1 L1528.7 1094.3 L1530.2 1104.5 L1531.7 1095.6 L1533.2 1104.3 L1534.7 1095.5 L1536.2 1105.5 L1537.7 1095.9 L1539.2 1104.2 L1540.7 1094.7 L1542.2 1104.4 L1543.7 1095.9 L1545.2 1105.1 L1546.7 1095 L1548.2 1104.9 L1549.7 1094.8 L1551.2 1104.2 L1552.7 1094.5 L1554.2 1105.3 L1555.7 1095.9 L1557.2 1104.3 L1558.7 1095.1 L1560.2 1104.9 L1561.7 1095.5 L1563.2 1104.3 L1564.7 1095.3 L1566.2 1104.3 L1567.7 1095 L1569.2 1105.5 L1570.7 1095.7 L1572.2 1105 L1573.7 1094.7 L1575.2 1104.3 L1576.7 1094.6 L1578.2 1105.6 L1579.7 1095.3 L1581.2 1104.7 L1582.7 1094.6 L1584.2 1104.9 L1585.7 1095.3 L1587.2 1105.6 L1588.7 1094.7 L1590.2 1104.6 L1591.7 1095.6 L1593.2 1104.6 L1594.7 1095.3 L1596.2 1105.6 L1597.7 1094.7 L1599.2 1105.5 L1600.7 1094.6 L1602.2 1105.4 L1603.7 1095.9 L1605.2 1104.9 L1606.7 1094.4 L1608.2 1105.5 L1609.7 1095.6 L1611.2 1104.7 L1612.7 1095 L1614.2 1104.6 L1615.7 1095.1 L1617.2 1104.1 L1618.7 1095.3 L1620.2 1104.8 L1621.7 1096 L1623.2 1104.2 L1624.7 1094.4 L1626.2 1105.2 L1627.7 1094.5 L1629.2 1105 L1630.7 1094.7 L1632.2 1105.4 L1633.7 1094.6 L1635.2 1104 L1636.7 1095 L1638.2 1104.4 L1639.7 1094.9 L1641.2 1104.4 L1642.7 1095.2 L1644.2 1105.5 L1645.7 1095 L1647.2 1104.4 L1648.7 1095.2 L1650.2 1104.7 L1651.7 1094.5 L1653.2 1104.4 L1654.7 1095.6 L1656.2 1105 L1657.7 1095.9 L1659.2 1104.9 L1660.7 1094.5 L1662.2 1104.8 L1663.7 1095.6 L1665.2 1104.7 L1666.7 1095.2 L1668.2 1104.2 L1669.7 1095.9 L1671.2 1104.1 L1672.7 1095.6 L1674.2 1104.6 L1675.7 1095.6 L1677.2 1104.3 L1678.7 1095.9 L1680.2 1104.8 L1681.7 1094.7 L1683.2 1104.9 L1684.7 1095.2 L1686.2 1104.9 L1687.7 1095.8 L1689.2 1105 L1690.7 1095.4 L1692.2 1104.8 L1693.7 1095.1 L1695.2 1104.6 L1696.7 1095.6 L1698.2 1104.3 L1699.7 1095.8 L1701.2 1104.7 L1702.7 1095.5 L1704.2 1104.8 L1705.7 1096.1 L1707.2 1104.4 L1708.7 1094.8 L1710.2 1104.3 L1711.7 1095.2 L1713.2 1104.7 L1714.7 1095.7 L1716.2 1105.4 L1717.7 1095.7 L1719.2 1105.1 L1720.7 1095.9 L1722.2 1104 L1723.7 1094.8 L1725.2 1104.6 L1726.7 1096 L1728.2 1104.5 L1729.7 1095.5 L1731.2 1105 L1732.7 1096 L1734.2 1104.2 L1735.7 1094.6 L1737.2 1105 L1738.7 1095.9 L1740.2 1104.4 L1741.7 1095.6 L1743.2 1104.9 L1744.7 1095.2 L1746.2 1105.2 L1747.7 1094.9 L1749.2 1104.6 L1750.7 1095 L1752.2 1105 L1753.7 1095 L1755.2 1104.6 L1756.7 1095 L1758.2 1104.9 L1759.7 1094.8 L1761.2 1104 L1762.7 1094.8 L1764.2 1103.8 L1765.7 1095 L1767.2 1104.7 L1768.7 1095.4 L1770.2 1105.3 L1771.7 1095.3 L1773.2 1104.4 L1774.7 1095 L1776.2 1105.2 L1777.7 1095.3 L1779.2 1104.4 L1780.7 1095.5 L1782.2 1104.5 L1783.7 1095.1 L1785.2 1104.2 L1786.7 1095.6 L1788.2 1104.6 L1789.7 1095.6 L1791.2 1104.3 L1792.7 1095 L1794.2 1105.1 L1795.7 1095.5 L1797.2 1104.5 L1798.7 1095.9 L1800.2 1104.2 L1801.7 1096 L1803.2 1104.6 L1804.7 1095.3 L1806.2 1103.9 L1807.7 1094.8 L1809.2 1104.3 L1810.7 1095 L1812.2 1105 L1813.7 1094.8 L1815.2 1104.1 L1816.7 1095.6 L1818.2 1105.1 L1819.7 1096.2 L1821.2 1103.8 L1822.7 1095.4 L1824.2 1104.5 L1825.7 1094.9 L1827.2 1104.9 L1828.7 1095.4 L1830.2 1105.3 L1831.7 1095.5 L1833.2 1104.5 L1834.7 1095.2 L1836.2 1104.3 L1837.7 1095.7 L1839.2 1104.6 L1840.7 1095.8 L1842.2 1105.2 L1843.7 1095.3 L1845.2 1104.5 L1846.7 1096.1 L1848.2 1104.3 L1849.7 1095.7 L1851.2 1104.6 L1852.7 1095.4 L1854.2 1105 L1855.7 1094.8 L1857.2 1104.4 L1858.7 1095.6 L1860.2 1104.6 L1861.7 1094.8 L1863.2 1104.2 L1864.7 1095.5 L1866.2 1104.9 L1867.7 1096.1 L1869.2 1104.2 L1870.7 1094.8 L1872.3 1104.9 L1873.8 1095.6 L1875.3 1103.8 L1876.8 1095 L1878.3 1104.7 L1879.8 1095.1 L1881.3 1105.2 L1882.8 1095 L1884.3 1104.3 L1885.8 1096.1 L1887.3 1104.1 L1888.8 1095.6 L1890.3 1104.4 L1891.8 1096.1 L1893.3 1103.9 L1894.8 1095.4 L1896.3 1104.5 L1897.8 1095.8 L1899.3 1105.1 L1900.8 1095.4 L1902.3 1103.7 L1903.8 1095.7 L1905.3 1104.8 L1906.8 1095.9 L1908.3 1104.7 L1909.8 1096.4 L1911.3 1104.1 L1912.8 1095.1 L1914.3 1104.5 L1915.8 1095.4 L1917.3 1103.9 L1918.8 1095.6 L1920.3 1104.4 L1921.8 1096 L1923.3 1104.6 L1924.8 1095.6 L1926.3 1105.1 L1927.8 1095.5 L1929.3 1104.2 L1930.8 1096.2 L1932.3 1103.8 L1933.8 1095.3 L1935.3 1103.8 L1936.8 1096.3 L1938.3 1103.8 L1939.8 1095.6 L1941.3 1104.8 L1942.8 1095.5 L1944.3 1104.8 L1945.8 1096.3 L1947.3 1103.6 L1948.8 1095.3 L1950.3 1104.1 L1951.8 1095.4 L1953.3 1104.1 L1954.8 1096.2 L1956.3 1104 L1957.8 1096.3 L1959.3 1104.9 L1960.8 1095.6 L1962.3 1104.1 L1963.8 1095.8 L1965.3 1104.1 L1966.8 1096.4 L1968.3 1104.9 L1969.8 1095.6 L1971.3 1105 L1972.8 1095.8 L1974.3 1104.5 L1975.8 1096.1 L1977.3 1103.6 L1978.8 1095.1 L1980.3 1104.8 L1981.8 1096 L1983.3 1104.8 L1984.8 1095.3 L1986.3 1104 L1987.8 1095.6 L1989.3 1104.9 L1990.8 1095.8 L1992.3 1104.9 L1993.8 1096.1 L1995.3 1104.1 L1996.8 1095.4 L1998.3 1103.8 L1999.8 1096 L2001.3 1104.8 L2002.8 1095.8 L2004.3 1104.7 L2005.8 1096.1 L2007.3 1103.8 L2008.8 1096 L2010.3 1103.8 L2011.8 1095.1 L2013.3 1103.9 L2014.8 1095.7 L2016.3 1103.7 L2017.8 1095.7 L2019.3 1104 L2020.8 1095.9 L2022.3 1103.6 L2023.8 1096.3 L2025.3 1104.7 L2026.8 1096 L2028.3 1103.8 L2029.8 1096.2 L2031.3 1103.9 L2032.8 1096.2 L2034.3 1103.5 L2035.8 1095.6 L2037.3 1104 L2038.8 1096.3 L2040.3 1104.5 L2041.8 1096.4 L2043.3 1103.8 L2044.8 1095.4 L2046.3 1103.6 L2047.8 1095.9 L2049.3 1104.6 L2050.8 1095.4 L2052.3 1103.7 L2053.8 1096 L2055.3 1104.5 L2056.8 1096 L2058.3 1104.8 L2059.8 1096.3 L2061.3 1104.8 L2062.8 1095.8 L2064.3 1103.8 L2065.8 1095.9 L2067.3 1103.6 L2068.8 1095.6 L2070.3 1103.8 L2071.8 1095.3 L2073.3 1104.3 L2074.8 1096.1 L2076.3 1103.8 L2077.8 1095.7 L2079.3 1103.7 L2080.8 1095.4 L2082.3 1103.6 L2083.8 1095.9 L2085.3 1104.2" fill="none" stroke="#a2142f" stroke-width="6.2" stroke-linejoin="round" stroke-linecap="butt" clip-path="url(#c3)"/>
<path d="M1645 1100 L1645 865.4" fill="none" stroke="#a2142f" stroke-width="6.2" stroke-linejoin="round" stroke-linecap="butt" clip-path="url(#c3)"/>
<path d="M188.2 1147.3 L189.2 1050 L190.6 1064 L190.6 1067.1 L192.1 1060.3 L193.6 1067.3 L195.1 1060.4 L196.6 1067.5 L198.1 1060.8 L199.6 1067.3 L201.1 1061.1 L202.6 1067 L204.1 1060.2 L205.6 1067.2 L207.1 1060.4 L208.6 1067 L210.2 1060.5 L211.7 1067.2 L213.2 1060.6 L214.7 1067.2 L216.2 1061.1 L217.7 1067.2 L219.2 1060.9 L220.7 1067 L222.2 1060.3 L223.7 1067.2 L225.2 1060.7 L226.7 1067.9 L228.2 1060.3 L229.7 1067.9 L231.2 1060.2 L232.7 1067 L234.2 1060.9 L235.7 1066.9 L237.2 1060.4 L238.7 1067.6 L240.2 1060.8 L241.7 1067.3 L243.2 1060.4 L244.7 1067.6 L246.2 1060.9 L247.7 1067.8 L249.2 1060.8 L250.7 1067.6 L252.2 1061 L253.7 1067 L255.2 1060.1 L256.8 1067.7 L258.3 1060.3 L259.8 1066.9 L261.3 1061.1 L262.8 1067 L264.3 1060.9 L265.8 1067.2 L267.3 1060.7 L268.8 1066.9 L270.3 1060.8 L271.8 1067.6 L273.3 1061 L274.8 1067.8 L276.3 1060.5 L277.8 1067.7 L279.3 1060.9 L280.8 1067.3 L282.3 1060.4 L283.8 1067.2 L285.3 1061.2 L286.8 1067.8 L288.3 1060.3 L289.8 1067.2 L291.3 1061.1 L292.8 1067.8 L294.3 1060.5 L295.8 1066.9 L297.3 1060.9 L298.8 1067 L300.3 1060.3 L301.8 1067.1 L303.4 1060.1 L304.9 1067.7 L306.4 1061.1 L307.9 1067.6 L309.4 1060.7 L310.9 1067.7 L312.4 1060.2 L313.9 1067.2 L315.4 1061.1 L316.9 1067.9 L318.4 1060.7 L319.9 1067.9 L321.4 1060.4 L322.9 1067.7 L324.4 1060.2 L325.9 1067.6 L327.4 1060.6 L328.9 1066.9 L330.4 1060.4 L331.9 1067.3 L333.4 1060.6 L334.9 1067.9 L336.4 1061 L337.9 1067.7 L339.4 1061.1 L340.9 1067.6 L342.4 1060.2 L343.9 1067.1 L345.4 1060.5 L346.9 1068 L348.4 1060.4 L349.9 1067.5 L351.5 1060.9 L353 1066.9 L354.5 1060.8 L356 1067.3 L357.5 1060.9 L359 1067.2 L360.5 1061 L362 1067.6 L363.5 1060.4 L365 1067.1 L366.5 1060.9 L368 1067.4 L369.5 1060.7 L371 1067.9 L372.5 1060.8 L374 1067.2 L375.5 1060.1 L377 1067 L378.5 1060.5 L380 1067.2 L381.5 1060.2 L383 1067.5 L384.5 1060.3 L386 1067 L387.5 1060.4 L389 1067.5 L390.5 1060.6 L392 1067.7 L393.5 1060.2 L395 1067 L396.5 1060.8 L398.1 1067.2 L399.6 1060.9 L401.1 1066.9 L402.6 1060.8 L404.1 1067.1 L405.6 1060.4 L407.1 1067.3 L408.6 1061 L410.1 1067.2 L411.6 1060.6 L413.1 1067.2 L414.6 1061 L416.1 1066.9 L417.6 1061.2 L419.1 1068 L420.6 1060.3 L422.1 1066.9 L423.6 1060.3 L425.1 1068 L426.6 1060.5 L428.1 1067 L429.6 1060.6 L431.1 1067.3 L432.6 1061 L434.1 1067.5 L435.6 1061.2 L437.1 1067.9 L438.6 1060.4 L440.1 1067.6 L441.6 1060.1 L443.1 1067.6 L444.7 1060.9 L446.2 1067.1 L447.7 1061 L449.2 1066.9 L450.7 1060.3 L452.2 1067.8 L453.7 1060.8 L455.2 1067 L456.7 1060.4 L458.2 1067.8 L459.7 1060.1 L461.2 1067 L462.7 1060.3 L464.2 1067.8 L465.7 1060.3 L467.2 1067.2 L468.7 1061 L470.2 1067.8 L471.7 1060.8 L473.2 1067.3 L474.7 1060.5 L476.2 1067.3 L477.7 1060.2 L479.2 1067.1 L480.7 1061.1 L482.2 1067.5 L483.7 1060.4 L485.2 1067.8 L486.7 1060.4 L488.2 1067.9 L489.7 1060.1 L491.2 1067.4 L492.8 1060.6 L494.3 1067 L495.8 1060.8 L497.3 1067.5 L498.8 1061.1 L500.3 1067.6 L501.8 1061 L503.3 1067.3 L504.8 1060 L506.3 1066.9 L507.8 1061.1 L509.3 1067.3 L510.8 1061 L512.3 1067.7 L513.8 1061.2 L515.3 1067.8 L516.8 1060.2 L518.3 1067.7 L519.8 1060.7 L521.3 1067.2 L522.8 1060.4 L524.3 1067.4 L525.8 1060.7 L527.3 1067.2 L528.8 1060.7 L530.3 1067.6 L531.8 1060.2 L533.3 1067.9 L534.8 1061 L536.3 1067.2 L537.8 1060.7 L539.4 1067.5 L540.9 1060.8 L542.4 1067.1 L543.9 1061.1 L545.4 1067.2 L546.9 1060.6 L548.4 1068 L549.9 1060.1 L551.4 1067.8 L552.9 1060 L554.4 1067.9 L555.9 1060.5 L557.4 1067.8 L558.9 1061.1 L560.4 1067.6 L561.9 1060.5 L563.4 1067.2 L564.9 1060.5 L566.4 1067.9 L567.9 1060.6 L569.4 1067.6 L570.9 1060.8 L572.4 1067.2 L573.9 1060.1 L575.4 1066.9 L576.9 1061 L578.4 1067.6 L579.9 1060.7 L581.4 1066.9 L582.9 1060.4 L584.4 1067.3 L585.9 1060.5 L587.5 1067.3 L589 1060.6 L590.5 1067.5 L592 1060.7 L593.5 1067 L595 1061 L596.5 1067.9 L598 1060.5 L599.5 1067 L601 1060.2 L602.5 1067.1 L604 1061.1 L605.5 1067.4 L607 1060.9 L608.5 1067.4 L610 1060.5 L611.5 1067.1 L613 1060.5 L614.5 1067 L616 1060.6 L617.5 1067.5 L619 1061.1 L620.5 1067.3 L622 1061.1 L623.5 1067.3 L625 1060.2 L626.5 1067.5 L628 1060.3 L629.5 1067.7 L631 1061 L632.5 1068 L634.1 1060.3 L635.6 1066.9 L637.1 1060.2 L638.6 1067.3 L640.1 1061 L641.6 1067.9 L643.1 1060.5 L644.6 1067.7 L646.1 1061 L647.6 1067.7 L649.1 1061.1 L650.6 1067.1 L652.1 1060.7 L653.6 1066.8 L655.1 1060.5 L656.6 1067.1 L658.1 1060.8 L659.6 1067.6 L661.1 1060.7 L662.6 1067.9 L664.1 1060.5 L665.6 1067.8 L667.1 1060.5 L668.6 1067.9 L670.1 1060.2 L671.6 1067 L671.6 1064 L673.7 1072.7 L673.7 1076.4 L675.2 1069.5 L676.7 1076.4 L678.2 1069.1 L679.7 1076.5 L681.3 1069.7 L682.8 1076 L684.3 1069 L685.8 1076.6 L687.3 1069 L688.8 1075.6 L690.3 1069.2 L691.8 1075.6 L693.3 1069.2 L694.8 1076.5 L696.3 1069.7 L697.8 1076.6 L699.3 1069.1 L700.8 1075.8 L702.3 1069.6 L703.8 1076 L705.3 1068.9 L706.8 1076.2 L708.3 1069.7 L709.8 1075.6 L711.3 1069.7 L712.8 1076.5 L714.3 1069.7 L715.8 1076.2 L717.3 1069.5 L718.8 1076.3 L720.3 1069.4 L721.8 1075.7 L723.3 1068.9 L724.8 1076.2 L726.3 1069.1 L727.8 1076.5 L729.3 1068.8 L730.8 1075.5 L732.3 1069.5 L733.8 1075.7 L735.3 1069.3 L736.8 1076.5 L738.3 1068.9 L739.9 1075.6 L741.4 1069.7 L742.9 1076.5 L744.4 1069.1 L745.9 1076 L747.4 1069.3 L748.9 1075.7 L750.4 1068.9 L751.9 1076 L753.4 1068.9 L754.9 1076.2 L756.4 1069.8 L757.9 1075.9 L759.4 1069.6 L760.9 1076.6 L762.4 1069.2 L763.9 1075.6 L765.4 1069.7 L766.9 1075.9 L768.4 1069.3 L769.9 1076.2 L771.4 1069.4 L772.9 1075.9 L774.4 1069.9 L775.9 1076.2 L777.4 1069.5 L778.9 1075.6 L780.4 1069.3 L781.9 1076.7 L783.4 1069.8 L784.9 1075.7 L786.4 1069.1 L787.9 1075.8 L789.4 1069.6 L790.9 1076.1 L792.4 1069.6 L793.9 1076.2 L795.4 1069.3 L796.9 1076.6 L798.4 1068.7 L800 1075.6 L801.5 1069.2 L803 1076.4 L804.5 1068.9 L806 1076.4 L807.5 1069.1 L809 1076.3 L810.5 1069.5 L812 1075.9 L813.5 1068.9 L815 1076.5 L816.5 1068.8 L818 1076.3 L819.5 1069.5 L821 1076.4 L822.5 1069 L824 1076.1 L825.5 1069.1 L827 1075.9 L828.5 1069.2 L830 1076 L831.5 1069.8 L833 1075.9 L834.5 1069.5 L836 1076.7 L837.5 1069.3 L839 1076 L840.5 1069.6 L842 1075.8 L843.5 1069.5 L845 1075.7 L846.5 1069.9 L848 1076.5 L849.5 1069.3 L851 1076 L852.5 1069.2 L854 1075.9 L855.5 1069.7 L857 1075.6 L858.6 1069.5 L860.1 1075.9 L861.6 1069 L863.1 1076.2 L864.6 1068.8 L866.1 1075.9 L867.6 1068.8 L869.1 1076.2 L870.6 1069.8 L872.1 1075.7 L873.6 1069.2 L875.1 1076.7 L876.6 1069.5 L878.1 1076.4 L879.6 1069.4 L881.1 1076.5 L882.6 1069.8 L884.1 1076.1 L885.6 1068.8 L887.1 1075.8 L888.6 1069.6 L890.1 1075.6 L891.6 1069.7 L893.1 1075.8 L894.6 1069.1 L896.1 1075.8 L897.6 1069.4 L899.1 1075.8 L900.6 1069.2 L902.1 1076.5 L903.6 1069.1 L905.1 1075.8 L906.6 1069 L908.1 1076.6 L909.6 1069.2 L911.1 1075.6 L912.6 1068.9 L914.1 1076.5 L915.6 1069.5 L917.2 1075.7 L918.7 1069.7 L920.2 1076.2 L921.7 1068.9 L923.2 1076.3 L924.7 1068.8 L926.2 1075.8 L927.7 1069.5 L929.2 1076.4 L930.7 1069.1 L932.2 1076 L933.7 1069.1 L935.2 1075.9 L936.7 1069.8 L938.2 1076 L939.7 1069.8 L941.2 1076.3 L942.7 1069.5 L944.2 1076.1 L945.7 1069.2 L947.2 1075.8 L948.7 1069.3 L950.2 1075.5 L951.7 1068.8 L953.2 1076.2 L954.7 1068.7 L956.2 1075.6 L957.7 1069.2 L959.2 1076.4 L960.7 1069.5 L962.2 1075.6 L963.7 1069.7 L965.2 1075.7 L966.7 1069 L968.2 1075.6 L969.7 1068.9 L971.2 1076 L972.7 1069.2 L974.2 1076.2 L975.7 1069.2 L977.3 1076.3 L978.8 1069.2 L980.3 1075.9 L981.8 1069 L983.3 1075.8 L984.8 1069 L986.3 1076.4 L987.8 1069 L989.3 1075.9 L990.8 1069 L992.3 1076.7 L993.8 1069.3 L995.3 1075.9 L996.8 1069.3 L998.3 1076.6 L999.8 1069.7 L1001.3 1075.5 L1002.8 1069.3 L1004.3 1076.3 L1005.8 1069 L1007.3 1075.9 L1008.8 1068.7 L1010.3 1075.8 L1011.8 1069 L1013.3 1075.6 L1014.8 1069.8 L1016.3 1075.7 L1017.8 1069.8 L1019.3 1076.1 L1020.8 1069.2 L1022.3 1075.7 L1023.8 1068.8 L1025.3 1076 L1026.8 1069.7 L1028.3 1075.7 L1029.8 1069 L1031.3 1076.6 L1032.8 1069.7 L1034.3 1075.6 L1035.9 1069 L1037.4 1075.8 L1038.9 1068.7 L1040.4 1076.1 L1041.9 1069.1 L1043.4 1075.9 L1044.9 1068.9 L1046.4 1076.1 L1047.9 1069.5 L1049.4 1076.6 L1050.9 1069.7 L1052.4 1076.4 L1053.9 1069.8 L1055.4 1076.3 L1056.9 1069.4 L1058.4 1076.5 L1059.9 1069.8 L1061.4 1076.2 L1062.9 1069.4 L1064.4 1076.6 L1065.9 1068.8 L1067.4 1076.3 L1068.9 1069.6 L1070.4 1075.8 L1071.9 1069.6 L1073.4 1076 L1074.9 1069.6 L1076.4 1075.8 L1077.9 1069 L1079.4 1076.3 L1080.9 1069.5 L1082.4 1076.7 L1082.4 1072.7 L1084.5 1082.2 L1084.5 1085.3 L1086 1078.7 L1087.5 1085.2 L1089.1 1078.4 L1090.6 1086 L1092.1 1079.1 L1093.6 1085.9 L1095.1 1078.4 L1096.6 1085.4 L1098.1 1079 L1099.6 1085.6 L1101.1 1078.3 L1102.6 1085.2 L1104.1 1078.6 L1105.6 1085.7 L1107.1 1078.8 L1108.6 1085.7 L1110.1 1078.3 L1111.6 1085.3 L1113.1 1078.3 L1114.6 1085.4 L1116.1 1078.5 L1117.7 1086 L1119.2 1079.2 L1120.7 1086 L1122.2 1078.2 L1123.7 1085.4 L1125.2 1079.3 L1126.7 1085.2 L1128.2 1078.2 L1129.7 1085 L1131.2 1078.3 L1132.7 1085.2 L1134.2 1078.5 L1135.7 1085.1 L1137.2 1079.2 L1138.7 1085.8 L1140.2 1079.3 L1141.7 1085.4 L1143.2 1078.3 L1144.7 1085.9 L1146.2 1078.3 L1147.8 1086.2 L1149.3 1079.3 L1150.8 1085.3 L1152.3 1078.5 L1153.8 1085.8 L1155.3 1079.3 L1156.8 1085.6 L1158.3 1079.1 L1159.8 1085.5 L1161.3 1079.3 L1162.8 1085.1 L1164.3 1078.2 L1165.8 1085.4 L1167.3 1078.4 L1168.8 1085.2 L1170.3 1078.8 L1171.8 1085.2 L1173.3 1078.9 L1174.8 1085.2 L1176.4 1078.6 L1177.9 1085.2 L1179.4 1078.5 L1180.9 1085.6 L1182.4 1079.2 L1183.9 1085.4 L1185.4 1078.8 L1186.9 1086.1 L1188.4 1079 L1189.9 1085.3 L1191.4 1078.3 L1192.9 1086.1 L1194.4 1078.5 L1195.9 1085.3 L1197.4 1079.2 L1198.9 1085.3 L1200.4 1079.3 L1201.9 1085.1 L1203.4 1078.8 L1205 1085.5 L1206.5 1078.7 L1208 1085.4 L1209.5 1079.4 L1211 1085.8 L1212.5 1078.6 L1214 1085.7 L1215.5 1078.7 L1217 1085.8 L1218.5 1078.2 L1220 1086 L1221.5 1078.5 L1223 1085.5 L1224.5 1079 L1226 1085.5 L1227.5 1078.2 L1229 1085.5 L1230.5 1078.9 L1232 1085.5 L1233.6 1079.2 L1235.1 1086.2 L1236.6 1079.4 L1238.1 1085.7 L1239.6 1078.3 L1241.1 1085.3 L1242.6 1078.7 L1244.1 1085.5 L1245.6 1079.1 L1247.1 1085.3 L1248.6 1079.2 L1250.1 1086 L1251.6 1078.5 L1253.1 1086.1 L1254.6 1079.3 L1256.1 1085.8 L1257.6 1079 L1259.1 1085.8 L1260.6 1078.7 L1262.1 1085.4 L1263.7 1078.2 L1265.2 1085 L1266.7 1078.5 L1268.2 1086 L1269.7 1078.8 L1271.2 1085.7 L1272.7 1078.2 L1274.2 1085.3 L1275.7 1078.6 L1277.2 1085.9 L1278.7 1078.9 L1280.2 1085.9 L1281.7 1078.9 L1283.2 1085.6 L1284.7 1078.7 L1286.2 1085.8 L1287.7 1079 L1289.2 1085.8 L1290.7 1078.7 L1292.3 1085.3 L1293.8 1078.7 L1295.3 1085.3 L1296.8 1078.3 L1298.3 1085.6 L1299.8 1078.5 L1301.3 1085.6 L1302.8 1078.8 L1304.3 1085.3 L1305.8 1079.2 L1307.3 1086.1 L1308.8 1078.8 L1310.3 1085.6 L1311.8 1078.8 L1313.3 1086 L1314.8 1079.1 L1316.3 1085.2 L1317.8 1078.4 L1319.3 1085.6 L1320.9 1078.6 L1322.4 1086 L1323.9 1078.3 L1325.4 1086 L1326.9 1079.3 L1328.4 1085.5 L1329.9 1078.4 L1331.4 1086 L1332.9 1079.2 L1334.4 1085.2 L1335.9 1079.1 L1337.4 1085.1 L1338.9 1079 L1340.4 1086 L1341.9 1078.8 L1343.4 1085.6 L1344.9 1079.3 L1346.4 1085.5 L1347.9 1078.2 L1349.4 1085.8 L1351 1078.9 L1352.5 1085.6 L1354 1078.4 L1355.5 1085.9 L1357 1079.2 L1358.5 1085.8 L1360 1078.9 L1361.5 1085.6 L1363 1079.1 L1364.5 1085.5 L1366 1079 L1367.5 1085.5 L1369 1079.4 L1370.5 1085.3 L1372 1078.7 L1373.5 1085.1 L1375 1079.2 L1376.5 1085.9 L1378 1079.1 L1379.6 1085.4 L1381.1 1079.1 L1382.6 1086 L1384.1 1079.3 L1385.6 1085.8 L1387.1 1078.4 L1388.6 1085.3 L1390.1 1078.9 L1391.6 1085.9 L1393.1 1078.7 L1394.6 1085.5 L1396.1 1079.3 L1397.6 1085.5 L1399.1 1078.9 L1400.6 1085.9 L1402.1 1079 L1403.6 1085.5 L1405.1 1078.6 L1406.6 1086 L1408.2 1079 L1409.7 1085.5 L1411.2 1078.7 L1412.7 1086.1 L1414.2 1079.2 L1415.7 1086.2 L1417.2 1078.5 L1418.7 1085.5 L1420.2 1078.6 L1421.7 1085.4 L1423.2 1079.3 L1424.7 1085.9 L1426.2 1078.9 L1427.7 1085.6 L1429.2 1078.8 L1430.7 1086.1 L1432.2 1078.5 L1433.7 1085.1 L1435.2 1078.7 L1436.7 1085.6 L1438.3 1078.8 L1439.8 1086 L1441.3 1078.9 L1441.3 1082.2 L1443.4 1090.7 L1443.4 1094.1 L1444.9 1086.8 L1446.4 1094 L1447.9 1087.3 L1449.4 1094.1 L1450.9 1086.9 L1452.4 1094.3 L1453.9 1087 L1455.4 1094 L1456.9 1087.8 L1458.4 1094.3 L1459.9 1087.2 L1461.4 1094.4 L1462.9 1087 L1464.4 1093.7 L1465.9 1087.6 L1467.4 1093.6 L1468.9 1086.9 L1470.4 1093.6 L1471.9 1087.8 L1473.4 1094.4 L1475 1087.2 L1476.5 1093.6 L1478 1087.1 L1479.5 1094.4 L1481 1087.3 L1482.5 1093.6 L1484 1087.1 L1485.5 1094 L1487 1087.2 L1488.5 1094.7 L1490 1086.9 L1491.5 1094.5 L1493 1087.7 L1494.5 1093.9 L1496 1087.3 L1497.5 1093.5 L1499 1086.7 L1500.5 1093.8 L1502 1087.6 L1503.5 1093.9 L1505 1087.6 L1506.5 1094.5 L1508 1087.2 L1509.5 1094.1 L1511 1087.4 L1512.5 1093.6 L1514.1 1087.5 L1515.6 1094.5 L1517.1 1086.9 L1518.6 1094.5 L1520.1 1087.6 L1521.6 1093.8 L1523.1 1087.8 L1524.6 1094.2 L1526.1 1087.4 L1527.6 1094.1 L1529.1 1087.3 L1530.6 1094.2 L1532.1 1087.4 L1533.6 1094.5 L1535.1 1087.6 L1536.6 1094.6 L1538.1 1087.2 L1539.6 1093.6 L1541.1 1087.5 L1542.6 1094.1 L1544.1 1087.4 L1545.6 1094.2 L1547.1 1087.5 L1548.6 1093.8 L1550.1 1086.9 L1551.6 1093.9 L1553.1 1087 L1554.7 1094.5 L1556.2 1087.2 L1557.7 1094.1 L1559.2 1086.8 L1560.7 1094 L1562.2 1086.9 L1563.7 1093.6 L1565.2 1087.4 L1566.7 1094.3 L1568.2 1087.8 L1569.7 1094.5 L1571.2 1087.8 L1572.7 1094.2 L1574.2 1087.7 L1575.7 1094.6 L1577.2 1087.2 L1578.7 1094.5 L1580.2 1087.3 L1581.7 1094.3 L1583.2 1087.1 L1584.7 1093.9 L1586.2 1087.6 L1587.7 1094.5 L1589.2 1087.7 L1590.7 1094.6 L1592.2 1087.6 L1593.8 1093.6 L1595.3 1087.8 L1596.8 1094.4 L1598.3 1086.8 L1599.8 1094 L1601.3 1087.1 L1602.8 1093.8 L1604.3 1086.8 L1605.8 1094.3 L1607.3 1087.7 L1608.8 1093.6 L1610.3 1087.1 L1611.8 1093.6 L1613.3 1086.9 L1614.8 1093.9 L1616.3 1087.6 L1617.8 1094.2 L1619.3 1087.5 L1620.8 1094.2 L1622.3 1087.7 L1623.8 1094.6 L1625.3 1087.5 L1626.8 1094.5 L1628.3 1087.7 L1629.8 1094.5 L1631.3 1086.7 L1632.9 1094 L1634.4 1087.8 L1635.9 1094 L1637.4 1087.1 L1638.9 1093.8 L1640.4 1087.2 L1641.9 1093.6 L1643.4 1087.3 L1644.9 1094.4 L1646.4 1087.4 L1647.9 1094.3 L1649.4 1087.7 L1650.9 1094.5 L1652.4 1087.7 L1653.9 1094.6 L1655.4 1086.7 L1656.9 1094.6 L1658.4 1087.3 L1659.9 1093.9 L1661.4 1087.5 L1662.9 1094.4 L1664.4 1087.3 L1665.9 1094.6 L1667.4 1087.8 L1668.9 1094.1 L1670.4 1086.9 L1672 1094.2 L1673.5 1087.2 L1675 1093.6 L1676.5 1087.7 L1678 1093.8 L1679.5 1086.8 L1681 1094.5 L1682.5 1087.6 L1684 1094.6 L1685.5 1087.8 L1687 1094.2 L1688.5 1086.8 L1690 1093.9 L1691.5 1086.8 L1693 1094.3 L1694.5 1087.8 L1696 1093.9 L1697.5 1087.4 L1699 1093.8 L1700.5 1087 L1702 1093.7 L1703.5 1087 L1705 1093.9 L1706.5 1087.8 L1708 1094.2 L1709.5 1087.8 L1711 1094.2 L1712.6 1087 L1714.1 1094.2 L1715.6 1087.3 L1717.1 1093.6 L1718.6 1087.3 L1720.1 1093.6 L1721.6 1087.1 L1723.1 1093.7 L1724.6 1087.2 L1726.1 1093.9 L1727.6 1087.4 L1729.1 1094.3 L1730.6 1087.7 L1732.1 1093.7 L1733.6 1086.8 L1735.1 1093.9 L1736.6 1086.9 L1738.1 1094.5 L1739.6 1087.3 L1741.1 1093.7 L1742.6 1087.8 L1744.1 1094.5 L1745.6 1087.7 L1747.1 1094.1 L1748.6 1087.3 L1750.1 1093.7 L1751.7 1087.3 L1753.2 1093.7 L1754.7 1087.3 L1756.2 1094.1 L1757.7 1087.4 L1759.2 1093.8 L1760.7 1087.4 L1762.2 1093.8 L1762.2 1090.7 L1764.3 1100" fill="none" stroke="#0072bd" stroke-width="6.2" stroke-linejoin="round" stroke-linecap="butt" clip-path="url(#c3)"/>
<path d="M1764.3 1104.4 L1765.8 1095.4 L1767.3 1105.7 L1768.8 1094.9 L1770.3 1105.7 L1771.8 1095.8 L1773.3 1105.8 L1774.8 1095 L1776.3 1105.6 L1777.8 1094.8 L1779.3 1105.4 L1780.8 1095.4 L1782.3 1105.5 L1783.8 1095.5 L1785.3 1104.6 L1786.8 1095.8 L1788.4 1104.9 L1789.9 1094.9 L1791.4 1104.7 L1792.9 1094.3 L1794.4 1104.3 L1795.9 1094.8 L1797.4 1104.6 L1798.9 1094.8 L1800.4 1105.5 L1801.9 1094.6 L1803.4 1104.3 L1804.9 1095.4 L1806.4 1105.2 L1807.9 1094.1 L1809.4 1104.3 L1810.9 1094.7 L1812.4 1105.4 L1813.9 1094.4 L1815.4 1104.8 L1816.9 1094.4 L1818.4 1105 L1819.9 1094.2 L1821.4 1104.2 L1823 1094.2 L1824.5 1104.9 L1826 1095.1 L1827.5 1104.3 L1829 1095.4 L1830.5 1105.5 L1832 1094.6 L1833.5 1104.5 L1835 1095.2 L1836.5 1104.4 L1838 1095.5 L1839.5 1104.6 L1841 1095.2 L1842.5 1105.9 L1844 1094.1 L1845.5 1105.6 L1847 1095 L1848.5 1105 L1850 1094.5 L1851.5 1105.8 L1853 1094.5 L1854.5 1105.3 L1856 1095.5 L1857.5 1105.3 L1859.1 1094.4 L1860.6 1105.5 L1862.1 1095.6 L1863.6 1105.4 L1865.1 1095.2 L1866.6 1104.5 L1868.1 1094.1 L1869.6 1105.3 L1871.1 1094.5 L1872.6 1104.4 L1874.1 1094.4 L1875.6 1105.8 L1877.1 1094.3 L1878.6 1105.5 L1880.1 1094.4 L1881.6 1105.6 L1883.1 1094.8 L1884.6 1104.9 L1886.1 1094.4 L1887.6 1105.5 L1889.1 1094.3 L1890.6 1104.7 L1892.1 1094.2 L1893.6 1105.1 L1895.2 1094.2 L1896.7 1104.4 L1898.2 1094.1 L1899.7 1105.5 L1901.2 1095.4 L1902.7 1105.6 L1904.2 1095.4 L1905.7 1104.5 L1907.2 1095 L1908.7 1104.6 L1910.2 1095 L1911.7 1105.8 L1913.2 1094.6 L1914.7 1105.4 L1916.2 1095.1 L1917.7 1105.5 L1919.2 1094.4 L1920.7 1105.4 L1922.2 1094.2 L1923.7 1105.6 L1925.2 1095.1 L1926.7 1104.3 L1928.2 1094.7 L1929.8 1105.6 L1931.3 1095.2 L1932.8 1105.2 L1934.3 1094.4 L1935.8 1105.6 L1937.3 1095.8 L1938.8 1105 L1940.3 1095.8 L1941.8 1104.4 L1943.3 1094.4 L1944.8 1104.9 L1946.3 1094.8 L1947.8 1105 L1949.3 1095.2 L1950.8 1104.6 L1952.3 1095.2 L1953.8 1105.6 L1955.3 1094.7 L1956.8 1104.7 L1958.3 1095.7 L1959.8 1104.7 L1961.3 1094.6 L1962.8 1105 L1964.3 1094.7 L1965.9 1105.6 L1967.4 1095.6 L1968.9 1105.4 L1970.4 1095.7 L1971.9 1105.6 L1973.4 1095.5 L1974.9 1104.7 L1976.4 1094.2 L1977.9 1104.8 L1979.4 1095.4 L1980.9 1105.7 L1982.4 1094.8 L1983.9 1105.7 L1985.4 1095.1 L1986.9 1105.1 L1988.4 1094.2 L1989.9 1105.1 L1991.4 1094.1 L1992.9 1104.5 L1994.4 1094.4 L1995.9 1104.5 L1997.4 1094.9 L1998.9 1104.2 L2000.5 1095.5 L2002 1105.8 L2003.5 1095 L2005 1105.6 L2006.5 1095.4 L2008 1104.8 L2009.5 1095.6 L2011 1105.1 L2012.5 1094.3 L2014 1105.1 L2015.5 1095.2 L2017 1105.8 L2018.5 1094.3 L2020 1105.3 L2021.5 1095.7 L2023 1105.3 L2024.5 1095 L2026 1105.8 L2027.5 1095.2 L2029 1105.3 L2030.5 1094.7 L2032 1104.8 L2033.5 1094.9 L2035 1105.4 L2036.6 1094.2 L2038.1 1105 L2039.6 1095.2 L2041.1 1105.9 L2042.6 1095.7 L2044.1 1105.6 L2045.6 1094.6 L2047.1 1105.2 L2048.6 1095 L2050.1 1105.5 L2050.1 1100 L2050.4 1013.5" fill="none" stroke="#0072bd" stroke-width="6.2" stroke-linejoin="round" stroke-linecap="butt" clip-path="url(#c3)"/>
<path d="M2050.4 1018.7 L2052 1008.6 L2053.5 1018.5 L2055 1009.6 L2056.5 1017.8 L2058 1009.5 L2059.5 1018.8 L2061.1 1008.3 L2062.6 1017.5 L2064.1 1008.8 L2065.6 1018.2 L2067.1 1009.6 L2068.6 1017.9 L2070.1 1008.5 L2071.7 1018.3 L2073.2 1009.3 L2074.7 1018.5 L2076.2 1009.2 L2077.7 1018.2 L2079.2 1009 L2080.8 1018.8 L2082.3 1008.7 L2083.8 1018.6 L2085.3 1008.6" fill="none" stroke="#0072bd" stroke-width="6.2" stroke-linejoin="round" stroke-linecap="butt" clip-path="url(#c3)"/>
<path d="M190.6 930.9 L192.1 921.7 L193.6 931.4 L195.1 922.1 L196.6 930.7 L198.1 922.9 L199.6 931.2 L201.1 921.9 L202.6 931.5 L204.1 922.6 L205.6 930.5 L207.1 922.3 L208.6 931.6 L210.2 922.9 L211.7 931.4 L213.2 922.8 L214.7 930.8 L216.2 923 L217.7 930.7 L219.2 922.5 L220.7 931.7 L222.2 921.7 L223.7 930.6 L225.2 922.6 L226.7 931.7 L228.2 922.8 L229.7 930.8 L231.2 922.4 L232.7 930.5 L234.2 922.7 L235.7 930.9 L237.2 922.5 L238.7 931.7 L240.2 922.7 L241.7 930.6 L243.2 921.7 L244.7 931 L246.2 921.9 L247.7 931.3 L249.2 921.9 L250.7 930.8 L252.2 922.9 L253.7 931.4 L255.2 922.4 L256.8 931.1 L258.3 922.1 L259.8 931.4 L261.3 922.7 L262.8 930.8 L264.3 921.7 L265.8 931.1 L267.3 922.7 L268.8 931.2 L270.3 922.7 L271.8 931.4 L273.3 923 L274.8 931.5 L276.3 922.3 L277.8 930.8 L279.3 921.7 L280.8 930.7 L282.3 922.7 L283.8 930.4 L285.3 922.3 L286.8 931.4 L288.3 922.1 L289.8 930.9 L291.3 921.9 L292.8 930.5 L294.3 922.6 L295.8 931.3 L297.3 921.7 L298.8 931.2 L300.3 922.1 L301.8 931.5 L303.4 922.5 L304.9 931.7 L306.4 922 L307.9 930.8 L309.4 922.5 L310.9 931.5 L312.4 922.6 L313.9 930.6 L315.4 921.8 L316.9 931.1 L318.4 922.3 L319.9 931.3 L321.4 921.8 L322.9 930.5 L324.4 922.6 L325.9 930.4 L327.4 922.5 L328.9 931.1 L330.4 921.8 L331.9 931.3 L333.4 922.2 L334.9 930.9 L336.4 922.2 L337.9 930.7 L339.4 921.8 L340.9 931.5 L342.4 921.9 L343.9 930.5 L345.4 922.1 L346.9 931.4 L348.4 922.4 L349.9 931.6 L351.5 921.8 L353 931.4 L354.5 921.9 L356 931.3 L357.5 921.8 L359 930.5 L360.5 922.1 L362 931.3 L363.5 922.2 L365 930.7 L366.5 923 L368 931.2 L369.5 921.9 L371 930.7 L372.5 922.8 L374 930.6 L375.5 923 L377 931.3 L378.5 921.6 L380 931.5 L381.5 922.6 L383 931.3 L384.5 923 L386 931.5 L387.5 922.6 L389 930.3 L390.5 922.2 L392 930.5 L393.5 922.7 L395 930.4 L396.5 922.4 L398.1 931.1 L399.6 921.9 L401.1 930.4 L402.6 921.9 L404.1 930.5 L405.6 922.8 L407.1 931.2 L408.6 922.6 L410.1 930.8 L411.6 922.3 L413.1 930.6 L414.6 921.9 L416.1 930.6 L417.6 921.9 L419.1 931.5 L420.6 922.3 L422.1 930.4 L423.6 921.9 L425.1 930.3 L426.6 922.3 L428.1 930.9 L429.6 923 L431.1 931.2 L432.6 922 L434.1 931.2 L435.6 922.5 L437.1 931.1 L438.6 922.2 L440.1 930.6 L441.6 921.8 L443.1 931.8 L444.7 921.9 L446.2 931.7 L447.7 922.6 L449.2 931.8 L450.7 923 L452.2 931 L453.7 922.9 L455.2 931 L456.7 922.1 L458.2 931.4 L459.7 922.4 L461.2 930.8 L462.7 922.8 L464.2 930.9 L465.7 922.7 L467.2 930.6 L468.7 922 L470.2 931.1 L471.7 922.4 L473.2 930.6 L474.7 922.1 L476.2 930.6 L477.7 922.7 L479.2 931.1 L480.7 922.1 L482.2 931.7 L483.7 922 L485.2 931.7 L486.7 921.7 L488.2 931.4 L489.7 922 L491.2 930.4 L492.8 922.8 L494.3 930.3 L495.8 921.8 L497.3 931.4 L498.8 922.2 L500.3 930.7 L501.8 922.6 L503.3 930.5 L504.8 922.2 L506.3 931.8 L507.8 922.6 L509.3 930.4 L510.8 922.8 L512.3 930.8 L513.8 921.8 L515.3 931.5 L516.8 922.4 L518.3 930.5 L519.8 922.9 L521.3 930.5 L522.8 921.9 L524.3 931 L525.8 921.6 L527.3 931.7 L528.8 921.9 L530.3 931 L531.8 921.9 L533.3 930.5 L534.8 922.9 L536.3 931.1 L537.8 922.3 L539.4 930.6 L540.9 922.7 L542.4 930.3 L543.9 921.7 L545.4 931.4 L546.9 921.7 L548.4 931.8 L549.9 922.4 L551.4 931.4 L552.9 922.5 L554.4 931.5 L555.9 921.8 L557.4 930.5 L558.9 923.1 L560.4 930.6 L561.9 922.2 L563.4 930.9 L564.9 923.1 L566.4 931.5 L567.9 921.9 L569.4 931 L570.9 923 L572.4 931.6 L573.9 922.3 L575.4 930.4 L576.9 922.6 L578.4 931.2 L579.9 921.8 L581.4 931 L582.9 922.1 L584.4 930.6 L585.9 922.7 L587.5 931.6 L589 922.5 L590.5 930.5 L592 922.2 L593.5 930.5 L595 922.8 L596.5 931 L598 922.2 L599.5 931.2 L601 922 L602.5 931 L604 923 L605.5 931.4 L607 923 L608.5 931 L610 922.5 L611.5 931.3 L613 922 L614.5 930.7 L616 922.1 L617.5 931.3 L619 922.4 L620.5 930.5 L622 921.7 L623.5 931.2 L625 923 L626.5 930.7 L628 921.6 L629.5 930.6 L631 922.5 L632.5 931.5 L634.1 921.9 L635.6 931.2 L637.1 922 L638.6 930.4 L640.1 923 L641.6 931.8 L643.1 921.9 L644.6 930.4 L646.1 923 L647.6 930.7 L649.1 921.7 L650.6 930.6 L652.1 922.1 L653.6 931.7 L655.1 922.1 L656.6 931.7 L658.1 922.7 L659.6 930.5 L661.1 923.1 L662.6 931.4 L664.1 922.9 L665.6 931.7 L667.1 922 L668.6 930.6 L670.1 921.9 L671.6 930.5 L671.6 926.7 L673.7 969 L673.7 973.4 L675.2 965.2 L676.7 973.8 L678.3 964.1 L679.8 974 L681.3 965.4 L682.8 973.9 L684.3 964.6 L685.8 973.8 L687.3 964.6 L688.8 973.5 L690.3 964.5 L691.8 973.8 L693.3 965.3 L694.8 972.7 L696.3 964.6 L697.8 973 L699.3 964.8 L700.8 972.6 L702.3 964.3 L703.8 972.6 L705.3 964.2 L706.9 973.8 L708.4 964.7 L709.9 972.8 L711.4 964.4 L712.9 972.9 L714.4 964.8 L715.9 972.8 L717.4 963.9 L718.9 973.4 L720.4 964.9 L721.9 972.7 L723.4 964.3 L724.9 973.9 L726.4 964.1 L727.9 972.8 L729.4 964.8 L730.9 973.1 L732.4 964.3 L733.9 972.8 L735.4 964.5 L737 974.1 L738.5 964.3 L740 972.6 L741.5 965.3 L743 972.8 L744.5 964.4 L746 973.5 L747.5 964.6 L749 973.3 L750.5 964.8 L752 973.5 L753.5 964.4 L755 974 L756.5 964.3 L758 973.8 L759.5 964 L761 973.8 L762.5 964.3 L764 972.7 L765.6 964.4 L767.1 973.9 L768.6 964.8 L770.1 973.9 L771.6 965.1 L773.1 974 L774.6 964.7 L776.1 973.7 L777.6 965 L779.1 973.1 L780.6 964.9 L782.1 973.1 L783.6 965.3 L785.1 973.3 L786.6 963.9 L788.1 973.6 L789.6 964 L791.1 973.7 L792.6 964.2 L794.1 974.1 L795.7 964.3 L797.2 973 L798.7 965 L800.2 973.2 L801.7 965.4 L803.2 972.9 L804.7 964.1 L806.2 974 L807.7 964.9 L809.2 973.7 L810.7 964.2 L812.2 973.9 L813.7 964.2 L815.2 973.4 L816.7 965.2 L818.2 973.8 L819.7 964.9 L821.2 973.5 L822.7 964.8 L824.3 973.4 L825.8 964 L827.3 972.8 L828.8 964.6 L830.3 973.6 L831.8 964.6 L833.3 974 L834.8 964.8 L836.3 974 L837.8 964.4 L839.3 974 L840.8 965.3 L842.3 972.9 L843.8 965 L845.3 973.9 L846.8 965.4 L848.3 973 L849.8 964.3 L851.3 974.1 L852.8 965.1 L854.4 973.3 L855.9 964.4 L857.4 973.6 L858.9 964.3 L860.4 973.7 L861.9 965 L863.4 973 L864.9 965.4 L866.4 973.6 L867.9 965.1 L869.4 973 L870.9 964 L872.4 973.6 L873.9 964.5 L875.4 973.6 L876.9 964.5 L878.4 973.6 L879.9 964.9 L881.4 972.7 L883 965.3 L884.5 972.6 L886 964.9 L887.5 972.8 L889 965.2 L890.5 973.3 L892 964 L893.5 973.6 L895 965 L896.5 973.7 L898 965.1 L899.5 972.8 L901 964.9 L902.5 973.2 L904 964.4 L905.5 973.3 L907 964.3 L908.5 972.7 L910 964 L911.5 973.1 L913.1 964.2 L914.6 972.7 L916.1 964.2 L917.6 972.9 L919.1 964.1 L920.6 973.8 L922.1 964.4 L923.6 973 L925.1 965.4 L926.6 972.9 L928.1 964.1 L929.6 972.8 L931.1 964.4 L932.6 973.5 L934.1 964.4 L935.6 972.9 L937.1 965.2 L938.6 972.8 L940.1 963.9 L941.7 973.2 L943.2 964.4 L944.7 973.5 L946.2 965.1 L947.7 972.7 L949.2 965.4 L950.7 973.9 L952.2 965.2 L953.7 974 L955.2 964.9 L956.7 973.7 L958.2 965.2 L959.7 973.8 L961.2 965 L962.7 973.1 L964.2 964.6 L965.7 972.8 L967.2 965 L968.7 973.8 L970.2 965 L971.8 973.2 L973.3 964.3 L974.8 972.9 L976.3 965.1 L977.8 972.9 L979.3 964.8 L980.8 973.1 L982.3 964.4 L983.8 973.3 L985.3 964.1 L986.8 972.7 L988.3 964.4 L989.8 973.8 L991.3 965 L992.8 972.7 L994.3 964.7 L995.8 972.8 L997.3 964.7 L998.8 973.7 L1000.4 965.3 L1001.9 972.8 L1003.4 964.7 L1004.9 972.9 L1006.4 965.1 L1007.9 973.3 L1009.4 965.2 L1010.9 972.7 L1012.4 964.9 L1013.9 973.3 L1015.4 964 L1016.9 973.4 L1018.4 965.3 L1019.9 972.9 L1021.4 964.3 L1022.9 973.4 L1024.4 964.1 L1025.9 974 L1027.4 964.1 L1028.9 972.8 L1030.5 964 L1032 973.4 L1033.5 965 L1035 972.9 L1036.5 964.1 L1038 972.9 L1039.5 965.3 L1041 973 L1042.5 964 L1044 973.3 L1045.5 964.3 L1047 972.7 L1048.5 964.7 L1050 973.1 L1051.5 965.1 L1053 973.6 L1054.5 964.9 L1056 972.8 L1057.5 963.9 L1059.1 973.3 L1060.6 965.1 L1062.1 972.6 L1063.6 964.4 L1065.1 973.4 L1066.6 965.4 L1068.1 973.3 L1069.6 964.3 L1071.1 973.4 L1072.6 965 L1074.1 973.3 L1075.6 964.5 L1077.1 973.6 L1078.6 965.2 L1080.1 973.8 L1081.6 964 L1083.1 973.7 L1083.1 969 L1085.2 1011.5 L1085.2 1016.4 L1086.7 1007.3 L1088.2 1016.4 L1089.7 1007.6 L1091.2 1015.4 L1092.7 1007 L1094.3 1016.4 L1095.8 1007.8 L1097.3 1015.4 L1098.8 1007.8 L1100.3 1015.8 L1101.8 1007.7 L1103.3 1015.4 L1104.8 1006.8 L1106.3 1016 L1107.8 1006.5 L1109.3 1015.7 L1110.8 1006.9 L1112.3 1015.1 L1113.8 1006.5 L1115.3 1015.5 L1116.8 1007.2 L1118.3 1015.9 L1119.8 1006.5 L1121.3 1015.8 L1122.8 1006.4 L1124.3 1016 L1125.8 1007.6 L1127.3 1016.3 L1128.8 1007.6 L1130.3 1016.6 L1131.8 1007.2 L1133.3 1015.4 L1134.8 1006.5 L1136.3 1015.6 L1137.8 1007.3 L1139.3 1015.6 L1140.8 1006.9 L1142.3 1015.1 L1143.8 1007.3 L1145.3 1015.3 L1146.8 1006.7 L1148.3 1015.1 L1149.8 1007 L1151.3 1015.5 L1152.8 1007.2 L1154.3 1015.9 L1155.8 1006.8 L1157.3 1015.3 L1158.8 1007.5 L1160.3 1015.3 L1161.8 1006.5 L1163.3 1015.3 L1164.8 1007.7 L1166.3 1015.9 L1167.8 1007 L1169.3 1016.4 L1170.8 1007.8 L1172.3 1015.5 L1173.8 1007.6 L1175.3 1016 L1176.8 1007.2 L1178.4 1015.7 L1179.9 1006.6 L1181.4 1016.1 L1182.9 1006.6 L1184.4 1016.5 L1185.9 1007.5 L1187.4 1016.5 L1188.9 1007.3 L1190.4 1015.2 L1191.9 1006.5 L1193.4 1015.3 L1194.9 1007.9 L1196.4 1015.5 L1197.9 1007.5 L1199.4 1016.5 L1200.9 1006.6 L1202.4 1015.7 L1203.9 1007.1 L1205.4 1016.4 L1206.9 1006.7 L1208.4 1016.1 L1209.9 1007.1 L1211.4 1015.3 L1212.9 1007.5 L1214.4 1016.1 L1215.9 1007 L1217.4 1016.3 L1218.9 1006.6 L1220.4 1016.5 L1221.9 1007.6 L1223.4 1015.2 L1224.9 1006.6 L1226.4 1016 L1227.9 1007.6 L1229.4 1016.1 L1230.9 1007.5 L1232.4 1015.5 L1233.9 1007.4 L1235.4 1015.9 L1236.9 1006.9 L1238.4 1015.2 L1239.9 1006.8 L1241.4 1016 L1242.9 1007.2 L1244.4 1016.1 L1245.9 1006.7 L1247.4 1015.1 L1248.9 1007.2 L1250.4 1016.1 L1251.9 1006.8 L1253.4 1016.1 L1254.9 1007.6 L1256.4 1016.5 L1257.9 1006.7 L1259.4 1015.5 L1261 1007.3 L1262.5 1016.5 L1264 1007.6 L1265.5 1015.7 L1267 1006.5 L1268.5 1016.4 L1270 1007.5 L1271.5 1016.2 L1273 1007.4 L1274.5 1016.1 L1276 1006.8 L1277.5 1015.3 L1279 1007.6 L1280.5 1015.4 L1282 1007.5 L1283.5 1015.2 L1285 1007.7 L1286.5 1015.7 L1288 1007.3 L1289.5 1015.2 L1291 1007 L1292.5 1016.5 L1294 1007 L1295.5 1015.6 L1297 1006.8 L1298.5 1015.8 L1300 1007.6 L1301.5 1015.8 L1303 1007.9 L1304.5 1016.1 L1306 1007.7 L1307.5 1015.7 L1309 1006.5 L1310.5 1016.2 L1312 1006.7 L1313.5 1016.1 L1315 1007 L1316.5 1016.2 L1318 1006.5 L1319.5 1015.4 L1321 1006.8 L1322.5 1015.6 L1324 1007.5 L1325.5 1016.3 L1327 1007 L1328.5 1016.4 L1330 1006.6 L1331.5 1016 L1333 1007.6 L1334.5 1015.1 L1336 1007.1 L1337.5 1016.2 L1339 1007.5 L1340.5 1015.2 L1342 1007.9 L1343.6 1015.4 L1345.1 1006.9 L1346.6 1015.1 L1348.1 1007.6 L1349.6 1015.5 L1351.1 1006.8 L1352.6 1016.6 L1354.1 1007.9 L1355.6 1015.3 L1357.1 1006.5 L1358.6 1016.5 L1360.1 1007.7 L1361.6 1015.6 L1363.1 1007.1 L1364.6 1015.6 L1366.1 1007.3 L1367.6 1015.8 L1369.1 1007.5 L1370.6 1015.2 L1372.1 1007.8 L1373.6 1015.3 L1375.1 1007.8 L1376.6 1016 L1378.1 1006.9 L1379.6 1015.5 L1381.1 1006.7 L1382.6 1016.2 L1384.1 1007.4 L1385.6 1015.8 L1387.1 1007.6 L1388.6 1016.5 L1390.1 1007.1 L1391.6 1015.2 L1393.1 1007.7 L1394.6 1016.1 L1396.1 1007.3 L1397.6 1016.2 L1399.1 1007.6 L1400.6 1016.3 L1402.1 1006.7 L1403.6 1015.2 L1405.1 1007 L1406.6 1015.4 L1408.1 1006.8 L1409.6 1016.3 L1411.1 1006.7 L1412.6 1015.4 L1414.1 1007.8 L1415.6 1016.1 L1417.1 1007.1 L1418.6 1015.3 L1420.1 1007.6 L1421.6 1016 L1423.1 1007.7 L1424.6 1016 L1426.1 1007.5 L1427.7 1015.5 L1429.2 1007.3 L1430.7 1015.9 L1432.2 1006.8 L1433.7 1015.2 L1435.2 1006.8 L1436.7 1015.4 L1438.2 1007.5 L1439.7 1016.1 L1441.2 1006.9 L1442.7 1016 L1442.7 1011.5 L1444.8 1055 L1444.8 1059.9 L1446.3 1051.1 L1447.8 1059.1 L1449.3 1050.4 L1450.8 1059 L1452.3 1051.2 L1453.8 1058.9 L1455.3 1050.3 L1456.8 1059.8 L1458.3 1050.3 L1459.8 1060 L1461.3 1050.2 L1462.8 1059.1 L1464.3 1050.9 L1465.8 1059.7 L1467.3 1051.3 L1468.8 1059.5 L1470.3 1051.3 L1471.8 1058.7 L1473.3 1050.6 L1474.8 1058.8 L1476.3 1050 L1477.8 1059.9 L1479.3 1050.7 L1480.8 1058.9 L1482.3 1051.2 L1483.8 1059.4 L1485.3 1050.6 L1486.8 1059.1 L1488.3 1050.3 L1489.8 1059.4 L1491.3 1050.2 L1492.8 1058.8 L1494.3 1051.3 L1495.8 1059.2 L1497.4 1050.7 L1498.9 1059 L1500.4 1050.4 L1501.9 1058.9 L1503.4 1050.9 L1504.9 1059.3 L1506.4 1050.3 L1507.9 1059.7 L1509.4 1050.8 L1510.9 1059.3 L1512.4 1050 L1513.9 1060 L1515.4 1050.5 L1516.9 1058.8 L1518.4 1050.7 L1519.9 1059.5 L1521.4 1051 L1522.9 1058.7 L1524.4 1049.9 L1525.9 1060 L1527.4 1051.2 L1528.9 1059.3 L1530.4 1050.5 L1531.9 1059.1 L1533.4 1051.3 L1534.9 1059.7 L1536.4 1050.3 L1537.9 1059.3 L1539.4 1051.3 L1540.9 1059.2 L1542.4 1051.3 L1543.9 1060 L1545.4 1051.3 L1546.9 1059 L1548.4 1050.3 L1549.9 1058.8 L1551.4 1051.2 L1552.9 1058.7 L1554.4 1051.1 L1555.9 1059.4 L1557.4 1050.2 L1558.9 1058.9 L1560.4 1051.1 L1561.9 1059.7 L1563.4 1050.8 L1564.9 1059.1 L1566.5 1051.2 L1568 1059 L1569.5 1050 L1571 1058.8 L1572.5 1051 L1574 1059.7 L1575.5 1050.1 L1577 1059.9 L1578.5 1050.7 L1580 1060 L1581.5 1050.5 L1583 1059 L1584.5 1050.7 L1586 1059.7 L1587.5 1050.3 L1589 1058.8 L1590.5 1051.1 L1592 1060 L1593.5 1051.2 L1595 1059.8 L1596.5 1050.9 L1598 1059 L1599.5 1051 L1601 1059.3 L1602.5 1049.9 L1604 1058.8 L1605.5 1050.1 L1607 1059.1 L1608.5 1051.1 L1610 1059.7 L1611.5 1050.9 L1613 1058.9 L1614.5 1050.8 L1616 1059.8 L1617.5 1050.1 L1619 1059.5 L1620.5 1051.4 L1622 1059.7 L1623.5 1050.5 L1625 1059.9 L1626.5 1050 L1628 1059.1 L1629.5 1050.1 L1631 1059.8 L1632.5 1051 L1634 1059.1 L1635.5 1050.8 L1637.1 1059.1 L1638.6 1050.8 L1640.1 1058.8 L1641.6 1051.1 L1643.1 1060 L1644.6 1050.8 L1646.1 1059.5 L1647.6 1050.1 L1649.1 1059.7 L1650.6 1051 L1652.1 1060 L1653.6 1050.2 L1655.1 1060.1 L1656.6 1050.3 L1658.1 1059.7 L1659.6 1050.2 L1661.1 1059 L1662.6 1050.4 L1664.1 1059.2 L1665.6 1050.1 L1667.1 1058.8 L1668.6 1050.6 L1670.1 1059.1 L1671.6 1050.2 L1673.1 1059.1 L1674.6 1050.1 L1676.1 1059.9 L1677.6 1050.1 L1679.1 1058.8 L1680.6 1050 L1682.1 1059.7 L1683.6 1050.4 L1685.1 1059.6 L1686.6 1051.3 L1688.1 1059.9 L1689.6 1050.6 L1691.1 1059.3 L1692.6 1050.9 L1694.1 1059.8 L1695.6 1050.2 L1697.1 1059.9 L1698.6 1051.1 L1700.1 1059.1 L1701.6 1051 L1703.1 1058.8 L1704.6 1050.9 L1706.2 1058.6 L1707.7 1050.2 L1709.2 1058.9 L1710.7 1051.3 L1712.2 1058.7 L1713.7 1050.3 L1715.2 1058.9 L1716.7 1050.7 L1718.2 1059.2 L1719.7 1050.2 L1721.2 1060 L1722.7 1050.9 L1724.2 1059.5 L1725.7 1050.1 L1727.2 1059.3 L1728.7 1050.1 L1730.2 1059.7 L1731.7 1050.9 L1733.2 1059.9 L1734.7 1050.5 L1736.2 1058.8 L1737.7 1050.5 L1739.2 1059.8 L1740.7 1050.6 L1742.2 1059.3 L1743.7 1050.8 L1745.2 1059.9 L1746.7 1050.4 L1748.2 1058.9 L1749.7 1050.9 L1751.2 1059.1 L1752.7 1050 L1754.2 1059.6 L1755.7 1051.2 L1757.2 1060 L1758.7 1051.3 L1760.2 1059.5 L1761.7 1050.8 L1763.2 1059.7 L1763.2 1055 L1765.3 1100" fill="none" stroke="#d95319" stroke-width="6.2" stroke-linejoin="round" stroke-linecap="butt" clip-path="url(#c3)"/>
<path d="M1765.3 1105.2 L1766.8 1095.4 L1768.3 1105.3 L1769.9 1094.1 L1771.4 1105.8 L1772.9 1095 L1774.4 1104.8 L1775.9 1094.3 L1777.4 1105.8 L1778.9 1095.2 L1780.4 1106 L1781.9 1093.8 L1783.4 1105.2 L1784.9 1094.9 L1786.4 1105.7 L1787.9 1093.9 L1789.4 1104.8 L1790.9 1095.1 L1792.4 1105 L1793.9 1094.3 L1795.4 1104.7 L1796.9 1094.6 L1798.4 1105.3 L1799.9 1094.4 L1801.4 1104.6 L1803 1093.9 L1804.5 1106.2 L1806 1094.6 L1807.5 1105.8 L1809 1095.3 L1810.5 1106 L1812 1094.6 L1813.5 1105.8 L1815 1094 L1816.5 1105 L1818 1093.9 L1819.5 1104.8 L1821 1095.6 L1822.5 1105.3 L1824 1094 L1825.5 1106 L1827 1093.9 L1828.5 1105.3 L1830 1093.9 L1831.5 1105.4 L1833 1095.4 L1834.5 1105.5 L1836.1 1094.2 L1837.6 1105.2 L1839.1 1094.5 L1840.6 1104.9 L1842.1 1095.1 L1843.6 1105.1 L1845.1 1094.7 L1846.6 1105.2 L1848.1 1095.4 L1849.6 1104.4 L1851.1 1095 L1852.6 1105.7 L1854.1 1094.3 L1855.6 1104.8 L1857.1 1095.2 L1858.6 1105.3 L1860.1 1095.3 L1861.6 1105.5 L1863.1 1094 L1864.6 1104.8 L1866.1 1094.6 L1867.6 1105.7 L1869.1 1094.3 L1870.7 1105.7 L1872.2 1094.3 L1873.7 1104.9 L1875.2 1094.1 L1876.7 1106.1 L1878.2 1095.5 L1879.7 1106.1 L1881.2 1094.8 L1882.7 1104.5 L1884.2 1095.5 L1885.7 1105.8 L1887.2 1094.4 L1888.7 1104.6 L1890.2 1094.8 L1891.7 1105.5 L1893.2 1093.8 L1894.7 1105 L1896.2 1094.2 L1897.7 1104.8 L1899.2 1095.3 L1900.7 1104.7 L1902.2 1094.9 L1903.8 1105.5 L1905.3 1095.1 L1906.8 1104.7 L1908.3 1095.2 L1909.8 1104.5 L1911.3 1095.3 L1912.8 1105 L1914.3 1094.7 L1915.8 1104.7 L1917.3 1094.7 L1918.8 1105.2 L1920.3 1093.9 L1921.8 1105.3 L1923.3 1093.9 L1924.8 1105.2 L1926.3 1095.3 L1927.8 1105.5 L1929.3 1095.4 L1930.8 1104.7 L1932.3 1095.5 L1933.8 1105.6 L1935.3 1093.9 L1936.9 1105.1 L1938.4 1095 L1939.9 1105.2 L1941.4 1095 L1942.9 1105.6 L1944.4 1094.9 L1945.9 1104.7 L1947.4 1094.1 L1948.9 1105.4 L1950.4 1095.6 L1951.9 1105.9 L1953.4 1094.3 L1954.9 1105 L1956.4 1094.5 L1957.9 1106 L1959.4 1094.9 L1960.9 1105.2 L1962.4 1095.1 L1963.9 1105.4 L1965.4 1094.4 L1966.9 1105.7 L1968.4 1093.9 L1970 1104.6 L1971.5 1095 L1973 1105.9 L1974.5 1094.2 L1976 1105.4 L1977.5 1094.4 L1979 1105 L1980.5 1093.9 L1982 1105.4 L1983.5 1094.9 L1985 1104.7 L1986.5 1095.4 L1988 1106 L1989.5 1094.2 L1991 1104.4 L1992.5 1095 L1994 1105.3 L1995.5 1094.7 L1997 1105 L1998.5 1094 L2000 1105 L2001.5 1094.7 L2003.1 1106.1 L2004.6 1094.5 L2006.1 1105.2 L2007.6 1095 L2009.1 1105.1 L2010.6 1094.5 L2012.1 1105.8 L2013.6 1095.1 L2015.1 1105.1 L2016.6 1094.9 L2018.1 1105 L2019.6 1094 L2021.1 1105.4 L2022.6 1095.1 L2024.1 1105 L2025.6 1094.1 L2027.1 1104.7 L2028.6 1094.4 L2030.1 1104.4 L2031.6 1095.3 L2033.1 1104.5 L2034.6 1094.2 L2036.1 1104.7 L2037.7 1095.2 L2039.2 1104.5 L2040.7 1095.1 L2042.2 1105.7 L2043.7 1094.3 L2045.2 1106 L2046.7 1093.9 L2048.2 1105.4 L2049.7 1094 L2051.2 1104.5 L2052.7 1093.9 L2054.2 1105.2 L2055.7 1095.3 L2055.7 1100 L2056.1 860.4" fill="none" stroke="#d95319" stroke-width="6.2" stroke-linejoin="round" stroke-linecap="butt" clip-path="url(#c3)"/>
<path d="M187.5 1149 L187.5 865.3" fill="none" stroke="#d95319" stroke-width="7" stroke-linejoin="round" stroke-linecap="butt"/>
<path d="M188.6 1147.4 L191.1 926.7 L189.1 868.4" fill="none" stroke="#d95319" stroke-width="5" stroke-linejoin="round" stroke-linecap="butt" clip-path="url(#c3)"/>
<rect x="1458.2" y="793.8" width="606.3" height="244.2" fill="#fff" stroke="#262626" stroke-width="3.1"/>
<line x1="1477.2" y1="833.6" x2="1665.5" y2="833.6" stroke="#a2142f" stroke-width="6.2"/>
<text x="1681" y="851.8" font-size="45" text-anchor="start" fill="#000">Without droop</text>
<line x1="1477.2" y1="906.7" x2="1665.5" y2="906.7" stroke="#0072bd" stroke-width="6.2"/>
<text x="1681" y="918.2" font-size="45" text-anchor="start" fill="#000">With droop, d<tspan dy="18.6" font-size="36" letter-spacing="2.5">bc</tspan><tspan dy="-18.6">=1</tspan></text>
<line x1="1477.2" y1="988.7" x2="1665.5" y2="988.7" stroke="#d95319" stroke-width="6.2"/>
<text x="1681" y="1000.2" font-size="45" text-anchor="start" fill="#000">With droop, d<tspan dy="18.6" font-size="36" letter-spacing="2.5">bc</tspan><tspan dy="-18.6">=5</tspan></text>
<line x1="355.1" y1="1262.3" x2="355.1" y2="1638.4" stroke="rgba(0,0,0,0.105)" stroke-width="3.3"/>
<line x1="530.7" y1="1262.3" x2="530.7" y2="1638.4" stroke="rgba(0,0,0,0.105)" stroke-width="3.3"/>
<line x1="706.2" y1="1262.3" x2="706.2" y2="1638.4" stroke="rgba(0,0,0,0.105)" stroke-width="3.3"/>
<line x1="881.8" y1="1262.3" x2="881.8" y2="1638.4" stroke="rgba(0,0,0,0.105)" stroke-width="3.3"/>
<line x1="1057.3" y1="1262.3" x2="1057.3" y2="1638.4" stroke="rgba(0,0,0,0.105)" stroke-width="3.3"/>
<line x1="1232.8" y1="1262.3" x2="1232.8" y2="1638.4" stroke="rgba(0,0,0,0.105)" stroke-width="3.3"/>
<line x1="1408.4" y1="1262.3" x2="1408.4" y2="1638.4" stroke="rgba(0,0,0,0.105)" stroke-width="3.3"/>
<line x1="1584" y1="1262.3" x2="1584" y2="1638.4" stroke="rgba(0,0,0,0.105)" stroke-width="3.3"/>
<line x1="1759.5" y1="1262.3" x2="1759.5" y2="1638.4" stroke="rgba(0,0,0,0.105)" stroke-width="3.3"/>
<line x1="1935" y1="1262.3" x2="1935" y2="1638.4" stroke="rgba(0,0,0,0.105)" stroke-width="3.3"/>
<line x1="179.6" y1="1487.9" x2="2075.5" y2="1487.9" stroke="rgba(0,0,0,0.105)" stroke-width="3.3"/>
<line x1="179.6" y1="1337.4" x2="2075.5" y2="1337.4" stroke="rgba(0,0,0,0.105)" stroke-width="3.3"/>
<rect x="179.6" y="1262.3" width="1896" height="376.1" fill="none" stroke="#262626" stroke-width="3.1"/>
<line x1="355.1" y1="1638.4" x2="355.1" y2="1617.8" stroke="#262626" stroke-width="3.1"/>
<line x1="355.1" y1="1262.3" x2="355.1" y2="1282.9" stroke="#262626" stroke-width="3.1"/>
<line x1="530.7" y1="1638.4" x2="530.7" y2="1617.8" stroke="#262626" stroke-width="3.1"/>
<line x1="530.7" y1="1262.3" x2="530.7" y2="1282.9" stroke="#262626" stroke-width="3.1"/>
<line x1="706.2" y1="1638.4" x2="706.2" y2="1617.8" stroke="#262626" stroke-width="3.1"/>
<line x1="706.2" y1="1262.3" x2="706.2" y2="1282.9" stroke="#262626" stroke-width="3.1"/>
<line x1="881.8" y1="1638.4" x2="881.8" y2="1617.8" stroke="#262626" stroke-width="3.1"/>
<line x1="881.8" y1="1262.3" x2="881.8" y2="1282.9" stroke="#262626" stroke-width="3.1"/>
<line x1="1057.3" y1="1638.4" x2="1057.3" y2="1617.8" stroke="#262626" stroke-width="3.1"/>
<line x1="1057.3" y1="1262.3" x2="1057.3" y2="1282.9" stroke="#262626" stroke-width="3.1"/>
<line x1="1232.8" y1="1638.4" x2="1232.8" y2="1617.8" stroke="#262626" stroke-width="3.1"/>
<line x1="1232.8" y1="1262.3" x2="1232.8" y2="1282.9" stroke="#262626" stroke-width="3.1"/>
<line x1="1408.4" y1="1638.4" x2="1408.4" y2="1617.8" stroke="#262626" stroke-width="3.1"/>
<line x1="1408.4" y1="1262.3" x2="1408.4" y2="1282.9" stroke="#262626" stroke-width="3.1"/>
<line x1="1584" y1="1638.4" x2="1584" y2="1617.8" stroke="#262626" stroke-width="3.1"/>
<line x1="1584" y1="1262.3" x2="1584" y2="1282.9" stroke="#262626" stroke-width="3.1"/>
<line x1="1759.5" y1="1638.4" x2="1759.5" y2="1617.8" stroke="#262626" stroke-width="3.1"/>
<line x1="1759.5" y1="1262.3" x2="1759.5" y2="1282.9" stroke="#262626" stroke-width="3.1"/>
<line x1="1935" y1="1638.4" x2="1935" y2="1617.8" stroke="#262626" stroke-width="3.1"/>
<line x1="1935" y1="1262.3" x2="1935" y2="1282.9" stroke="#262626" stroke-width="3.1"/>
<line x1="179.6" y1="1487.9" x2="200.2" y2="1487.9" stroke="#262626" stroke-width="3.1"/>
<line x1="2075.5" y1="1487.9" x2="2054.9" y2="1487.9" stroke="#262626" stroke-width="3.1"/>
<line x1="179.6" y1="1337.4" x2="200.2" y2="1337.4" stroke="#262626" stroke-width="3.1"/>
<line x1="2075.5" y1="1337.4" x2="2054.9" y2="1337.4" stroke="#262626" stroke-width="3.1"/>
<text x="168.1" y="1659.4" font-size="50" text-anchor="end" fill="#262626">0</text>
<text x="168.1" y="1508.9" font-size="50" text-anchor="end" fill="#262626">20</text>
<text x="168.1" y="1358.4" font-size="50" text-anchor="end" fill="#262626">40</text>
<text x="1128" y="1237.8" font-size="56.7" text-anchor="middle" fill="#000">SC and battery powers (W)</text>
<text transform="translate(90 1451.5) rotate(-90)" font-size="55.8" text-anchor="middle" fill="#262626">Power (W)</text>
<path d="M183.1 1495 L184.5 1284 L184.5 1289 L186 1278.9 L187.5 1288.4 L189 1280.1 L190.5 1289.2 L192 1279 L193.5 1288.7 L195 1278.7 L196.5 1287.9 L198 1280.1 L199.5 1288 L201 1280.2 L202.5 1288.9 L204 1279.2 L205.5 1288 L207 1279.9 L208.5 1288.1 L210 1279.3 L211.5 1288.9 L213 1278.7 L214.5 1288.4 L216 1278.7 L217.5 1288.5 L219 1279.6 L220.5 1288.2 L222 1279.8 L223.5 1289.3 L225 1278.7 L226.5 1288.9 L228 1279.9 L229.5 1288.1 L231 1280 L232.5 1288.4 L234 1279.1 L235.5 1287.9 L237 1279.4 L238.5 1288.9 L240 1280.2 L241.5 1288.5 L243 1279 L244.5 1288.7 L246 1279.5 L247.5 1289.2 L249 1279.3 L250.5 1288.3 L252 1279.6 L253.5 1289.3 L255 1278.9 L256.5 1289.2 L258 1279.3 L259.5 1288 L261 1279.9 L262.5 1288.4 L264 1279.1 L265.5 1287.8 L267 1279 L268.5 1289 L270 1279.4 L271.5 1287.8 L273 1279 L274.5 1288.5 L276 1279.2 L277.5 1288.7 L279 1279.1 L280.5 1288.5 L282 1278.7 L283.5 1289.3 L285 1278.8 L286.5 1288.8 L288 1279.7 L289.5 1288.4 L291 1279.8 L292.5 1289.2 L294 1279 L295.5 1289.1 L297 1278.9 L298.5 1289.4 L300 1279.2 L301.5 1288.3 L303 1279 L304.5 1288.2 L306 1279.3 L307.5 1288.1 L309 1278.9 L310.5 1288.6 L312 1279.8 L313.5 1289.3 L315 1280.1 L316.5 1289.3 L318 1279 L319.5 1288.1 L321 1279 L322.5 1288.7 L324 1278.8 L325.5 1288.7 L327 1279.6 L328.5 1289.3 L330 1280.1 L331.5 1289 L333 1280.1 L334.5 1288.3 L336 1280.1 L337.5 1289.2 L339 1279.5 L340.5 1289 L342 1279.8 L343.5 1289 L345 1279.2 L346.5 1288 L348 1279.5 L349.5 1289 L351 1279.9 L352.5 1288.9 L354 1279.8 L355.5 1288.4 L357 1278.8 L358.5 1289.3 L360 1278.7 L361.5 1288.5 L363 1279.3 L364.5 1289.1 L366 1279.1 L367.5 1288.6 L369 1278.9 L370.5 1288.5 L372 1278.8 L373.5 1288.6 L375 1280.1 L376.5 1289 L378 1280 L379.5 1288.9 L381 1280.2 L382.5 1289.4 L384 1279.4 L385.5 1289 L387 1280 L388.5 1288.8 L390 1279.7 L391.5 1288.2 L393 1279 L394.5 1287.9 L396 1279.5 L397.5 1288 L399 1278.9 L400.5 1289.2 L402 1280.2 L403.5 1288.6 L405 1279.5 L406.5 1289 L408 1279.1 L409.5 1288.4 L411 1278.8 L412.5 1288.1 L414 1280 L415.5 1289.1 L417 1280.1 L418.5 1288.1 L420 1279.5 L421.5 1288.4 L423 1280 L424.5 1289.3 L426 1279.5 L427.5 1289.1 L429 1279.9 L430.5 1289.3 L432 1279.9 L433.5 1289.3 L435 1279.3 L436.5 1289.4 L438 1279.1 L439.5 1288.8 L441 1279.4 L442.5 1289.2 L444 1279.6 L445.5 1288 L447 1278.8 L448.5 1289.1 L450 1279.2 L451.5 1289 L453 1279.9 L454.5 1288.6 L456 1279 L457.5 1289.4 L459 1278.8 L460.5 1288.1 L462 1279.2 L463.5 1288.7 L465 1279.6 L466.5 1288.1 L468 1280 L469.5 1288.6 L471 1279.5 L472.5 1288.3 L474 1279.7 L475.5 1288.7 L477 1279.1 L478.5 1288.8 L480 1280 L481.5 1289.3 L483 1279.7 L484.5 1289.4 L486 1278.7 L487.5 1288.1 L489 1279.4 L490.5 1289.4 L492 1279.7 L493.5 1288.7 L495 1279.8 L496.5 1287.9 L498 1279.9 L499.5 1288.1 L501 1279.8 L502.5 1288.9 L504 1279.4 L505.5 1289.4 L507 1279.2 L508.5 1288.4 L510 1278.8 L511.5 1288.9 L513 1279.4 L514.5 1289.2 L516 1279.2 L517.5 1288.4 L519 1279.3 L520.5 1288.3 L522 1278.8 L523.5 1288.3 L525 1278.8 L526.5 1288 L528 1280.3 L529.5 1288.7 L531 1280 L532.5 1288.7 L534 1280.1 L535.5 1289.2 L537 1279.2 L538.5 1288.9 L540 1278.8 L541.5 1289.4 L543 1279.2 L544.5 1289 L546 1280.3 L547.5 1288 L549 1279.6 L550.5 1289.4 L552 1279.8 L553.5 1288.8 L555 1280.3 L556.5 1288.5 L558 1278.9 L559.5 1288.8 L561 1279 L562.5 1287.9 L564 1280 L565.5 1288.2 L567 1279 L568.5 1288 L570 1278.8 L571.5 1288.3 L573 1278.9 L574.5 1288.7 L576 1279.8 L577.5 1289.4 L579 1279.7 L580.5 1289 L582 1280.2 L583.5 1289.2 L585 1278.8 L586.5 1288.1 L588 1279.1 L589.5 1288.3 L591 1280.1 L592.5 1288.5 L594 1279.3 L595.5 1289.4 L597 1278.7 L598.5 1289.4 L600 1279.3 L601.5 1288.9 L603 1280 L604.5 1289 L606 1279.4 L607.5 1288.5 L609 1278.9 L610.6 1288.3 L612.1 1280.1 L613.6 1288.1 L615.1 1280.1 L616.6 1288.8 L618.1 1279 L619.6 1288.2 L621.1 1279.5 L622.6 1288.8 L624.1 1279.4 L625.6 1288.5 L627.1 1279.4 L628.6 1287.9 L630.1 1280.2 L631.6 1288.6 L633.1 1279.9 L634.6 1289.1 L636.1 1279.9 L637.6 1289.2 L639.1 1279.9 L640.6 1288 L642.1 1279.6 L643.6 1288.5 L645.1 1279.8 L646.6 1289.1 L648.1 1280 L649.6 1289 L651.1 1279 L652.6 1288.6 L654.1 1279.5 L655.6 1289.3 L657.1 1279.4 L658.6 1288.2 L660.1 1280.2 L661.6 1288 L663.1 1279.8 L664.6 1288 L666.1 1279.3 L667.6 1288.6 L669.1 1279.8 L670.6 1288.7 L672.1 1278.8 L673.6 1288.3 L675.1 1280.1 L676.6 1288.4 L678.1 1279.8 L679.6 1289.3 L681.1 1279.2 L682.6 1288.6 L684.1 1280.1 L685.6 1288 L687.1 1280.1 L688.6 1289.2 L690.1 1279.3 L691.6 1288.2 L693.1 1279.3 L694.6 1288 L696.1 1279.5 L697.6 1288.4 L699.1 1280.2 L700.6 1289.1 L702.1 1279.2 L703.6 1288.7 L705.1 1280.1 L706.6 1289 L708.1 1279.6 L709.6 1289 L711.1 1280.2 L712.6 1289.3 L714.1 1280.3 L715.6 1288.3 L717.1 1279.7 L718.6 1288.2 L720.1 1280.2 L721.6 1289 L723.1 1278.8 L724.6 1288.4 L726.1 1279.9 L727.6 1289 L729.1 1280 L730.6 1288.6 L732.1 1279.2 L733.6 1288.6 L735.1 1280.1 L736.6 1288 L738.1 1279.5 L739.6 1289.5 L741.1 1278.9 L742.6 1288.1 L744.1 1279.5 L745.6 1288.7 L747.1 1280 L748.6 1289 L750.1 1279.6 L751.6 1289.2 L753.1 1279.9 L754.6 1289.4 L756.1 1279.1 L757.6 1288.7 L759.1 1280.1 L760.6 1288.7 L762.1 1280.1 L763.6 1289 L765.1 1279.2 L766.6 1288.8 L768.1 1278.8 L769.6 1288 L771.1 1279.2 L772.6 1289.2 L774.1 1280.2 L775.6 1288.4 L777.1 1280.2 L778.6 1288.8 L780.1 1279.2 L781.6 1288.5 L783.1 1279.2 L784.6 1288.5 L786.1 1279.2 L787.6 1288.4 L789.1 1278.8 L790.6 1288.6 L792.1 1280.3 L793.6 1288.1 L795.1 1279.2 L796.6 1289.3 L798.1 1279.3 L799.6 1288.2 L801.1 1279 L802.6 1289.1 L804.1 1280.2 L805.6 1288.5 L807.1 1279.3 L808.6 1287.9 L810.1 1280.3 L811.6 1288.5 L813.1 1279 L814.6 1289.5 L816.1 1279.8 L817.6 1289.4 L819.1 1279.1 L820.6 1289.3 L822.1 1279.4 L823.6 1289.5 L825.1 1279.3 L826.6 1289.4 L828.1 1279.5 L829.6 1288.3 L831.1 1279.5 L832.6 1288.7 L834.1 1279.8 L835.6 1288.5 L837.1 1279.5 L838.6 1288.9 L840.1 1280 L841.6 1288.4 L843.1 1279.6 L844.6 1288.7 L846.1 1279.7 L847.6 1289 L849.1 1280.1 L850.6 1288.8 L852.1 1279.9 L853.6 1289.2 L855.1 1279.3 L856.6 1289.2 L858.1 1279.5 L859.6 1288.3 L861.1 1278.9 L862.6 1288.8 L864.1 1279.8 L865.6 1288.4 L867.1 1279.7 L868.6 1289.1 L870.1 1279.1 L871.6 1288.7 L873.1 1279.2 L874.6 1288.3 L876.1 1279.6 L877.6 1288.5 L879.1 1279.9 L880.6 1288.5 L882.1 1279.2 L883.6 1289.1 L885.1 1280 L886.6 1288.3 L888.1 1279.1 L889.6 1289 L891.1 1279.3 L892.6 1289 L894.1 1279.3 L895.6 1288.4 L897.1 1280.3 L898.6 1288.5 L900.1 1280.3 L901.6 1289.5 L903.1 1279.5 L904.6 1289 L906.1 1278.9 L907.6 1289.2 L909.1 1280 L910.6 1288.5 L912.1 1280.2 L913.6 1289.2 L915.1 1279.2 L916.6 1288.7 L918.1 1279.8 L919.6 1288.4 L921.1 1279.6 L922.6 1289.1 L924.1 1279 L925.6 1289.3 L927.1 1279 L928.6 1288.7 L930.1 1279.7 L931.6 1288.5 L933.1 1278.8 L934.6 1288.3 L936.1 1280.1 L937.6 1288.4 L939.1 1278.9 L940.6 1289.3 L942.1 1279.9 L943.6 1289.3 L945.1 1279 L946.6 1288.6 L948.1 1280.1 L949.6 1289.2 L951.1 1279.8 L952.6 1288.2 L954.1 1279 L955.6 1288.7 L957.1 1279.8 L958.6 1288.9 L960.1 1280 L961.6 1288 L963.1 1279.8 L964.6 1288.6 L966.1 1280.4 L967.6 1288.6 L969.1 1279.2 L970.6 1288.5 L972.1 1279.3 L973.6 1289 L975.1 1280.1 L976.6 1288 L978.1 1279.3 L979.6 1288.9 L981.1 1279.9 L982.6 1288.3 L984.1 1279 L985.6 1289.4 L987.1 1280 L988.6 1288.9 L990.1 1279.5 L991.6 1288.5 L993.1 1280.3 L994.6 1288.5 L996.1 1279.4 L997.6 1288.9 L999.1 1279.6 L1000.6 1288.2 L1002.1 1280.1 L1003.6 1288.5 L1005.1 1279.7 L1006.6 1288.6 L1008.1 1279 L1009.6 1288.2 L1011.1 1278.8 L1012.6 1288.4 L1014.1 1279 L1015.6 1288.4 L1017.1 1279.5 L1018.6 1288.6 L1020.1 1280.3 L1021.6 1289.2 L1023.1 1279.1 L1024.6 1288.4 L1026.1 1279.2 L1027.6 1288.7 L1029.1 1278.8 L1030.6 1288.1 L1032.1 1279.8 L1033.6 1288.3 L1035.1 1279.4 L1036.6 1289.2 L1038.1 1279.1 L1039.6 1288.9 L1041.1 1279.8 L1042.6 1289.2 L1044.1 1280.2 L1045.6 1288.4 L1047.1 1279.2 L1048.6 1288.7 L1050.1 1278.8 L1051.6 1288.1 L1053.1 1279.7 L1054.6 1288.3 L1056.1 1280.4 L1057.6 1288.1 L1059.1 1280.3 L1060.6 1288.6 L1062.1 1279.7 L1063.6 1288.8 L1065.1 1279.9 L1066.6 1289.1 L1068.1 1279.6 L1069.6 1289.5 L1071.1 1280.1 L1072.6 1288.8 L1074.1 1279.6 L1075.6 1288.6 L1077.1 1279.1 L1078.6 1288.3 L1080.1 1279 L1081.6 1288.6 L1083.1 1279.9 L1084.6 1289 L1086.1 1279.5 L1087.6 1288.4 L1089.1 1280.3 L1090.6 1289.5 L1092.1 1279.8 L1093.6 1288.2 L1095.1 1279.4 L1096.6 1288.8 L1098.1 1279.9 L1099.6 1288.5 L1101.1 1279.1 L1102.6 1288.5 L1104.1 1279.8 L1105.6 1289.5 L1107.1 1279.8 L1108.6 1288.6 L1110.1 1280.2 L1111.6 1289 L1113.2 1279.4 L1114.7 1288.7 L1116.2 1279.8 L1117.7 1288.4 L1119.2 1279.2 L1120.7 1288.7 L1122.2 1279.1 L1123.7 1288.6 L1125.2 1279.3 L1126.7 1288.1 L1128.2 1280.1 L1129.7 1289.5 L1131.2 1279.3 L1132.7 1289.1 L1134.2 1279.6 L1135.7 1288.8 L1137.2 1280.1 L1138.7 1288.3 L1140.2 1279.4 L1141.7 1289.1 L1143.2 1280 L1144.7 1289 L1146.2 1280.2 L1147.7 1289 L1149.2 1280.1 L1150.7 1288.8 L1152.2 1279.9 L1153.7 1288.9 L1155.2 1280.2 L1156.7 1288.8 L1158.2 1279.5 L1159.7 1288.2 L1161.2 1279.9 L1162.7 1289.1 L1164.2 1279.6 L1165.7 1289 L1167.2 1279.2 L1168.7 1288.9 L1170.2 1280.1 L1171.7 1288.7 L1173.2 1279.1 L1174.7 1288.9 L1176.2 1279.2 L1177.7 1288.6 L1179.2 1279.7 L1180.7 1289.5 L1182.2 1279.1 L1183.7 1289 L1185.2 1280.3 L1186.7 1289 L1188.2 1280.4 L1189.7 1289.5 L1191.2 1278.9 L1192.7 1289.2 L1194.2 1280 L1195.7 1289.4 L1197.2 1280.1 L1198.7 1289.3 L1200.2 1279.6 L1201.7 1288.1 L1203.2 1279 L1204.7 1288.7 L1206.2 1279.1 L1207.7 1289.1 L1209.2 1279.6 L1210.7 1289.4 L1212.2 1280.1 L1213.7 1289.4 L1215.2 1279.9 L1216.7 1288.1 L1218.2 1279.9 L1219.7 1288.1 L1221.2 1280.3 L1222.7 1289 L1224.2 1280.2 L1225.7 1288.3 L1227.2 1280 L1228.7 1288.5 L1230.2 1279 L1231.7 1289.5 L1233.2 1279.1 L1234.7 1289.6 L1236.2 1279.7 L1237.7 1289.3 L1239.2 1280 L1240.7 1289.5 L1242.2 1279.2 L1243.7 1289.2 L1245.2 1280.1 L1246.7 1288.2 L1248.2 1279 L1249.7 1288.9 L1251.2 1279.5 L1252.7 1289.4 L1254.2 1280.2 L1255.7 1289.1 L1257.2 1279.7 L1258.7 1289.3 L1260.2 1279.7 L1261.7 1288.4 L1263.2 1278.9 L1264.7 1288.5 L1266.2 1279.3 L1267.7 1289.3 L1269.2 1280.1 L1270.7 1289.1 L1272.2 1279.8 L1273.7 1288.4 L1275.2 1280.1 L1276.7 1289.5 L1278.2 1279.9 L1279.7 1288.8 L1281.2 1279.7 L1282.7 1288.1 L1284.2 1279.3 L1285.7 1289.2 L1287.2 1279.1 L1288.7 1288.6 L1290.2 1280.1 L1291.7 1288.6 L1293.2 1279.3 L1294.7 1289.1 L1296.2 1279.8 L1297.7 1288.9 L1299.2 1280.2 L1300.7 1289.5 L1302.2 1279.7 L1303.7 1288.8 L1305.2 1279.2 L1306.7 1288.4 L1308.2 1279.3 L1309.7 1288.6 L1311.2 1279.2 L1312.7 1288.2 L1314.2 1280 L1315.7 1289 L1317.2 1279.7 L1318.7 1288.6 L1320.2 1279.6 L1321.7 1288.4 L1323.2 1279.8 L1324.7 1288.1 L1326.2 1279.2 L1327.7 1288.5 L1329.2 1279.2 L1330.7 1288.9 L1332.2 1279.5 L1333.7 1289 L1335.2 1280.3 L1336.7 1289.3 L1338.2 1280 L1339.7 1289.4 L1341.2 1279.2 L1342.7 1289.1 L1344.2 1279.2 L1345.7 1288.7 L1347.2 1279.4 L1348.7 1289.6 L1350.2 1280.2 L1351.7 1288.2 L1353.2 1279.8 L1354.7 1288.9 L1356.2 1280.2 L1357.7 1288.4 L1359.2 1279.1 L1360.7 1288.7 L1362.2 1280.2 L1363.7 1288.4 L1365.2 1279.6 L1366.7 1288.4 L1368.2 1279.7 L1369.7 1288.9 L1371.2 1279.8 L1372.7 1288.9 L1374.2 1279.2 L1375.7 1288.1 L1377.2 1279 L1378.7 1288.4 L1380.2 1280.4 L1381.7 1289.3 L1383.2 1279.6 L1384.7 1288.9 L1386.2 1280.1 L1387.7 1289.3 L1389.2 1280 L1390.7 1289.2 L1392.2 1280.1 L1393.7 1289 L1395.2 1279.5 L1396.7 1288.7 L1398.2 1279.7 L1399.7 1288.2 L1401.2 1279.5 L1402.7 1289.2 L1404.2 1280.2 L1405.7 1288.9 L1407.2 1279.3 L1408.7 1288.2 L1410.2 1279.2 L1411.7 1289.4 L1413.2 1280.4 L1414.7 1288.5 L1416.2 1280.3 L1417.7 1288.5 L1419.2 1280.3 L1420.7 1288.8 L1422.2 1280.1 L1423.7 1288.6 L1425.2 1279.8 L1426.7 1288.7 L1428.2 1279.2 L1429.7 1289.2 L1431.2 1280.3 L1432.7 1288.4 L1434.2 1280.5 L1435.7 1288.6 L1437.2 1280.3 L1438.7 1289.2 L1440.2 1279.3 L1441.7 1289.6 L1443.2 1280.2 L1444.7 1288.1 L1446.2 1279.3 L1447.7 1288.7 L1449.2 1279 L1450.7 1288.7 L1452.2 1280 L1453.7 1288.2 L1455.2 1279 L1456.7 1288.9 L1458.2 1279.8 L1459.7 1288.8 L1461.2 1279.3 L1462.7 1289.4 L1464.2 1279.7 L1465.7 1288.4 L1467.2 1279.9 L1468.7 1289.5 L1470.2 1279.9 L1471.7 1289.1 L1473.2 1279.6 L1474.7 1288.8 L1476.2 1279.6 L1477.7 1288.5 L1479.2 1279.6 L1480.7 1289.4 L1482.2 1280.4 L1483.7 1288.7 L1485.2 1279.1 L1486.7 1289.6 L1488.2 1280.5 L1489.7 1289.1 L1491.2 1279.5 L1492.7 1289.4 L1494.2 1279.8 L1495.7 1288.3 L1497.2 1280 L1498.7 1289.2 L1500.2 1279.4 L1501.7 1288.4 L1503.2 1279.5 L1504.7 1289.1 L1506.2 1279.5 L1507.7 1288.1 L1509.2 1279.8 L1510.7 1288.6 L1512.2 1279.6 L1513.7 1288.6 L1513.7 1288.3 L1515.2 1279.5 L1516.7 1288.6 L1518.2 1279.4 L1519.7 1288.8 L1521.3 1279.9 L1522.8 1289.7 L1524.3 1280.7 L1525.8 1289.6 L1527.3 1280.8 L1528.8 1290 L1530.3 1281 L1531.8 1289.8 L1533.3 1280.6 L1534.8 1289.1 L1536.3 1280.6 L1537.8 1289.7 L1539.3 1280.7 L1540.8 1289.2 L1542.3 1280.6 L1543.8 1289.5 L1545.3 1280 L1546.8 1289.8 L1548.3 1280.9 L1549.8 1289.6 L1551.3 1280.2 L1552.9 1289.9 L1554.4 1280.8 L1555.9 1290.8 L1557.4 1281.3 L1558.9 1290.7 L1560.4 1281.6 L1561.9 1289.8 L1563.4 1282 L1564.9 1290.5 L1566.4 1280.8 L1566.4 1286 L1566.4 1286 L1566.4 1290.1 L1567.9 1281.6 L1569.4 1291.1 L1571 1281.9 L1572.5 1290.2 L1574 1281.6 L1575.6 1290.7 L1577.1 1281 L1578.6 1291.6 L1580.1 1282.2 L1581.7 1291.1 L1583.2 1282 L1584.7 1290.4 L1586.2 1282.1 L1587.8 1291.8 L1589.3 1282.4 L1590.8 1291.4 L1592.3 1281.8 L1593.9 1290.7 L1595.4 1281.6 L1596.9 1290.8 L1598.5 1282.6 L1600 1291.9 L1601.5 1283.2 L1603 1291.4 L1604.6 1283.1 L1606.1 1291.7 L1607.6 1283.3 L1609.1 1291.3 L1610.7 1283.1 L1612.2 1291.2 L1613.7 1283.4 L1615.2 1291.5 L1616.8 1282.8 L1618.3 1291.5 L1619.8 1282.4 L1621.3 1292 L1622.9 1283.4 L1624.4 1291.8 L1625.9 1282.6 L1627.5 1291.6 L1629 1282.8 L1630.5 1291.8 L1632 1282.6 L1633.6 1292.4 L1635.1 1283.2 L1636.6 1293.1" fill="none" stroke="#4dbeee" stroke-width="6.2" stroke-linejoin="round" stroke-linecap="butt" clip-path="url(#c4)"/>
<path d="M1636 1640.1 L1636 1273.5 L1637 1285.4 L1637 1289.6 L1638.5 1281.3 L1640 1290.5 L1641.5 1280.4 L1643 1290.6 L1644.5 1280.9 L1646 1290.2 L1647.5 1281.1 L1649 1290.1 L1650.5 1280.9 L1652 1290.4 L1653.5 1280.9 L1655 1289.8 L1656.6 1280.3 L1658.1 1289.5 L1659.6 1280.1 L1661.1 1290.2 L1662.6 1281 L1664.1 1289.6 L1665.6 1280.6 L1667.1 1290.2 L1668.6 1280.2 L1670.1 1290 L1671.6 1280.7 L1673.1 1290.9 L1674.6 1281 L1676.1 1291 L1677.6 1279.9 L1679.1 1291 L1680.6 1279.9 L1682.1 1289.8 L1683.6 1280.1 L1685.1 1290.4 L1686.6 1281.1 L1688.1 1291 L1689.6 1280.3 L1691.1 1290.7 L1692.7 1280.5 L1694.2 1289.5 L1695.7 1280 L1697.2 1289.7 L1698.7 1281 L1700.2 1290.4 L1701.7 1281.1 L1703.2 1290.2 L1704.7 1280.2 L1706.2 1289.6 L1707.7 1280.3 L1709.2 1289.6 L1710.7 1280.6 L1712.2 1290.5 L1713.7 1280.3 L1715.2 1289.5 L1716.7 1281.1 L1718.2 1291 L1719.7 1280.8 L1721.2 1290.1 L1722.7 1280.8 L1724.2 1290.5 L1725.7 1280.2 L1727.2 1290.5 L1728.7 1280.7 L1730.3 1290.3 L1731.8 1280.6 L1733.3 1289.7 L1734.8 1279.8 L1736.3 1291 L1737.8 1280.1 L1739.3 1291 L1740.8 1280.6 L1742.3 1290.8 L1743.8 1281 L1745.3 1290.6 L1746.8 1280.2 L1748.3 1290.9 L1749.8 1280 L1751.3 1290.8 L1752.8 1281 L1754.3 1290.7 L1755.8 1280.6 L1757.3 1289.9 L1758.8 1280.8 L1760.3 1290.7 L1761.8 1280 L1763.3 1290.8 L1764.8 1280.3 L1766.4 1289.7 L1767.9 1281.1 L1769.4 1290.3 L1770.9 1281.1 L1772.4 1289.9 L1773.9 1281.2 L1775.4 1289.7 L1776.9 1280.2 L1778.4 1289.8 L1779.9 1280 L1781.4 1289.9 L1782.9 1280 L1784.4 1289.9 L1785.9 1281 L1787.4 1290 L1788.9 1281.4 L1790.4 1290.1 L1791.9 1280.8 L1793.4 1289.4 L1794.9 1280 L1796.4 1290 L1797.9 1281.4 L1799.4 1291 L1800.9 1281 L1802.5 1289.8 L1804 1281.4 L1805.5 1289.6 L1807 1280.2 L1808.5 1290.4 L1810 1280.6 L1811.5 1289.8 L1813 1280.9 L1814.5 1291 L1816 1280.8 L1817.5 1291 L1819 1279.9 L1820.5 1289.6 L1822 1280 L1823.5 1289.4 L1825 1280.2 L1826.5 1290.7 L1828 1280.3 L1829.5 1290.3 L1831 1280.1 L1832.5 1289.7 L1834 1280.5 L1835.5 1289.8 L1837 1280.7 L1838.5 1289.7 L1840.1 1280.2 L1841.6 1290.3 L1843.1 1280.1 L1844.6 1290.4 L1846.1 1280.4 L1847.6 1290.9 L1849.1 1280.1 L1850.6 1290.3 L1852.1 1280.9 L1853.6 1290.9 L1855.1 1280.8 L1856.6 1289.6 L1858.1 1280.9 L1859.6 1290.6 L1861.1 1279.9 L1862.6 1290.5 L1864.1 1280.3 L1865.6 1290.9 L1867.1 1280.1 L1868.6 1290.1 L1870.1 1280.6 L1871.6 1290.6 L1873.1 1280.9 L1874.6 1289.6 L1876.2 1280.4 L1877.7 1290.7 L1879.2 1281 L1880.7 1290.5 L1882.2 1279.9 L1883.7 1289.6 L1885.2 1281.2 L1886.7 1290.2 L1888.2 1280.9 L1889.7 1291 L1891.2 1279.8 L1892.7 1290.1 L1894.2 1280.1 L1895.7 1290.4 L1897.2 1281.1 L1898.7 1291 L1900.2 1281.1 L1901.7 1289.5 L1903.2 1280.7 L1904.7 1289.4 L1906.2 1280.6 L1907.7 1290.1 L1909.2 1279.8 L1910.7 1290.1 L1912.2 1280 L1913.8 1290.7 L1915.3 1280.4 L1916.8 1289.8 L1918.3 1280.9 L1919.8 1290.2 L1921.3 1280.8 L1922.8 1290.5 L1924.3 1280.6 L1925.8 1289.9 L1927.3 1280.4 L1928.8 1291 L1930.3 1281.1 L1931.8 1289.9 L1933.3 1281.4 L1934.8 1289.6 L1936.3 1281.3 L1937.8 1290.1 L1939.3 1280 L1940.8 1290.5 L1942.3 1279.8 L1943.8 1290.8 L1945.3 1280.4 L1946.8 1290.3 L1948.3 1281.4 L1949.9 1290 L1951.4 1281 L1952.9 1290.4 L1954.4 1281.3 L1955.9 1290.3 L1957.4 1280.8 L1958.9 1290.2 L1960.4 1280.7 L1961.9 1289.6 L1963.4 1280.2 L1964.9 1290.7 L1966.4 1280.4 L1967.9 1289.6 L1969.4 1280.4 L1970.9 1290.8 L1972.4 1279.8 L1973.9 1290.6 L1975.4 1281.3 L1976.9 1290.8 L1978.4 1280.3 L1979.9 1289.9 L1981.4 1279.9 L1982.9 1290.8 L1984.4 1279.9 L1986 1289.8 L1987.5 1280.5 L1989 1290 L1990.5 1280.9 L1992 1290.6 L1993.5 1280.4 L1995 1289.9 L1996.5 1280.5 L1998 1290.9 L1999.5 1280.5 L2001 1290.9 L2002.5 1280.5 L2004 1291 L2005.5 1281.4 L2007 1290.2 L2008.5 1280.5 L2010 1290.6 L2011.5 1279.8 L2013 1290.4 L2014.5 1280.6 L2016 1290.4 L2017.5 1280.5 L2019 1290.6 L2020.5 1279.8 L2022 1289.4 L2023.6 1280.9 L2025.1 1290.8 L2026.6 1281.3 L2028.1 1290.7 L2029.6 1281.4 L2031.1 1290.5 L2032.6 1280.1 L2034.1 1289.8 L2035.6 1280.8 L2037.1 1289.8 L2038.6 1280.2 L2040.1 1290.3 L2041.6 1280.4 L2043.1 1289.9 L2044.6 1280.4 L2046.1 1291 L2047.6 1280.1 L2049.1 1291 L2050.6 1281 L2052.1 1290.2 L2053.6 1280.8 L2055.1 1290 L2056.6 1280.1 L2058.1 1289.7 L2059.7 1280.5 L2061.2 1290.7 L2062.7 1279.9 L2064.2 1289.4 L2065.7 1281 L2067.2 1290.2 L2068.7 1279.9 L2070.2 1289.7 L2071.7 1280 L2073.2 1290 L2074.7 1280.5 L2076.2 1290.9 L2077.7 1281.3" fill="none" stroke="#a2142f" stroke-width="6.2" stroke-linejoin="round" stroke-linecap="butt" clip-path="url(#c4)"/>
<path d="M183.8 1495 L186.2 1430 L190.1 1424 L190.1 1426.3 L191.6 1421.8 L193.1 1426.2 L194.6 1421.7 L196.1 1426.6 L197.6 1421.5 L199.1 1426.1 L200.6 1421.3 L202.1 1426.5 L203.6 1421.8 L205.1 1426.7 L206.6 1421.3 L208.1 1426.2 L209.6 1421.2 L211.1 1426.7 L212.6 1421.8 L214.1 1426 L215.6 1421.2 L217.1 1426.7 L218.6 1421.9 L220.1 1426.7 L221.6 1421.3 L223.1 1426.6 L224.6 1421.3 L226.1 1426.9 L227.6 1421.7 L229.1 1426.7 L230.6 1421.2 L232.1 1426.3 L233.6 1421.4 L235.1 1426.6 L236.6 1421.2 L238.1 1426.5 L239.6 1421.7 L241.1 1426.3 L242.6 1421.5 L244.1 1426.2 L245.6 1421.2 L247.1 1426.8 L248.6 1421.7 L250.1 1426.6 L251.6 1421.4 L253.1 1426.1 L254.6 1421.3 L256.1 1426.7 L257.6 1421.7 L259.1 1426.1 L260.6 1421.7 L262.1 1426.7 L263.6 1421.6 L265.1 1426.7 L266.6 1421.8 L268.1 1426.1 L269.6 1421.7 L271.1 1426.8 L272.6 1421.8 L274.1 1426.1 L275.6 1421.3 L277.1 1426.1 L278.6 1421.4 L280.1 1426.1 L281.6 1421.7 L283.1 1426.6 L284.6 1421.2 L286.1 1426.4 L287.6 1421.6 L289.1 1426.1 L290.6 1421.7 L292.1 1426.3 L293.6 1421.3 L295.1 1426.6 L296.6 1421.3 L298.1 1426.5 L299.6 1421.4 L301.1 1426.2 L302.6 1421.6 L304.1 1426.3 L305.6 1421.7 L307.1 1426.7 L308.6 1421.8 L310.1 1426.3 L311.6 1421.7 L313.1 1426.8 L314.6 1421.4 L316.1 1426.5 L317.6 1421.6 L319.1 1426.8 L320.6 1421.2 L322.1 1426.4 L323.6 1421.5 L325.1 1426.8 L326.6 1421.7 L328.1 1426.3 L329.6 1421.9 L331.1 1426.5 L332.6 1421.3 L334.1 1426.2 L335.6 1421.6 L337.1 1426.9 L338.6 1421.5 L340.1 1426.4 L341.6 1421.2 L343.1 1426.8 L344.6 1421.6 L346.1 1426.2 L347.6 1421.4 L349.1 1426.7 L350.6 1421.2 L352.1 1426.6 L353.6 1421.7 L355.1 1426.5 L356.6 1421.7 L358.1 1426.4 L359.6 1421.6 L361.1 1426.8 L362.6 1421.2 L364.1 1426.8 L365.6 1421.6 L367.1 1426.9 L368.6 1421.8 L370.2 1426.8 L371.7 1421.4 L373.2 1426.8 L374.7 1421.6 L376.2 1426.9 L377.7 1421.9 L379.2 1426.8 L380.7 1421.3 L382.2 1426.4 L383.7 1421.3 L385.2 1426.2 L386.7 1421.3 L388.2 1426.4 L389.7 1421.6 L391.2 1426.2 L392.7 1421.3 L394.2 1426.7 L395.7 1421.9 L397.2 1426.9 L398.7 1421.8 L400.2 1426.4 L401.7 1421.6 L403.2 1426.5 L404.7 1421.2 L406.2 1426.8 L407.7 1421.4 L409.2 1426.4 L410.7 1421.9 L412.2 1426.1 L413.7 1421.5 L415.2 1426.5 L416.7 1421.6 L418.2 1426.9 L419.7 1421.6 L421.2 1426.3 L422.7 1421.6 L424.2 1426.2 L425.7 1421.2 L427.2 1426.5 L428.7 1421.5 L430.2 1426.4 L431.7 1421.7 L433.2 1426.3 L434.7 1421.5 L436.2 1426.4 L437.7 1421.1 L439.2 1426.5 L440.7 1421.8 L442.2 1426.1 L443.7 1421.8 L445.2 1426.3 L446.7 1421.3 L448.2 1426.8 L449.7 1421.8 L451.2 1426.7 L452.7 1421.6 L454.2 1426.5 L455.7 1421.5 L457.2 1426.1 L458.7 1421.9 L460.2 1426.6 L461.7 1421.4 L463.2 1426.4 L464.7 1421.2 L466.2 1426.7 L467.7 1421.7 L469.2 1426.1 L470.7 1421.5 L472.2 1426.6 L473.7 1421.8 L475.2 1426.1 L476.7 1421.5 L478.2 1426.1 L479.7 1421.3 L481.2 1426.6 L482.7 1421.7 L484.2 1426.4 L485.7 1421.8 L487.2 1426.2 L488.7 1421.8 L490.2 1426.7 L491.7 1421.6 L493.2 1426.6 L494.7 1421.7 L496.2 1426.7 L497.7 1421.5 L499.2 1426.6 L500.7 1421.6 L502.2 1426.5 L503.7 1421.8 L505.2 1426.9 L506.7 1421.4 L508.2 1426.5 L509.7 1421.4 L511.2 1426.1 L512.7 1421.7 L514.2 1426.2 L515.7 1421.2 L517.2 1426.1 L518.7 1421.6 L520.2 1426.8 L521.7 1421.3 L523.2 1426.7 L524.7 1421.7 L526.2 1426.2 L527.7 1421.4 L529.2 1426.3 L530.7 1421.3 L532.2 1426.3 L533.7 1421.3 L535.2 1426.5 L536.7 1421.3 L538.2 1426.9 L539.7 1421.6 L541.2 1426.9 L542.7 1421.9 L544.2 1426.8 L545.7 1421.9 L547.2 1426.5 L548.7 1421.6 L550.2 1426.7 L551.7 1421.7 L553.2 1426.2 L554.7 1421.3 L556.2 1426.5 L557.7 1421.3 L559.2 1426.5 L560.7 1421.9 L562.2 1426.7 L563.7 1421.8 L565.2 1426.4 L566.7 1422 L568.2 1426.3 L569.7 1421.4 L571.2 1426.7 L572.7 1421.4 L574.2 1426.4 L575.7 1421.3 L577.2 1426.6 L578.7 1421.8 L580.2 1426.5 L581.7 1421.5 L583.2 1426.7 L584.7 1421.8 L586.2 1426.3 L587.7 1421.7 L589.2 1426.1 L590.7 1421.7 L592.2 1426.7 L593.7 1421.5 L595.2 1426.2 L596.7 1421.3 L598.2 1426.1 L599.7 1421.3 L601.2 1426.2 L602.7 1421.9 L604.2 1426.3 L605.7 1421.5 L607.2 1426.3 L608.7 1421.2 L610.2 1426.8 L611.7 1421.7 L613.2 1426.7 L614.7 1421.4 L616.2 1426.5 L617.7 1421.7 L619.2 1426.8 L620.7 1421.1 L622.2 1426.1 L623.7 1421.7 L625.2 1426.3 L626.7 1421.8 L628.2 1426.4 L629.7 1421.2 L631.2 1426.1 L632.7 1421.3 L634.2 1426.3 L635.7 1421.9 L637.3 1426.8 L638.8 1421.7 L640.3 1426.2 L641.8 1421.9 L643.3 1426.4 L644.8 1421.9 L646.3 1426.2 L647.8 1421.7 L649.3 1426.5 L650.8 1421.6 L652.3 1426.3 L653.8 1421.5 L655.3 1426.7 L656.8 1421.3 L658.3 1426.3 L659.8 1421.2 L661.3 1426.7 L661.3 1424 L664.8 1387.5 L664.8 1390 L666.3 1385.1 L667.8 1389.8 L669.3 1385.3 L670.8 1390.3 L672.3 1384.9 L673.8 1389.6 L675.3 1384.7 L676.8 1390.3 L678.3 1385.4 L679.8 1390.1 L681.3 1385.3 L682.8 1390 L684.3 1384.8 L685.8 1389.8 L687.3 1385 L688.8 1390.1 L690.3 1385.3 L691.8 1390.1 L693.3 1385.1 L694.8 1390.4 L696.3 1385.3 L697.8 1390.1 L699.3 1385.4 L700.8 1389.8 L702.3 1385.4 L703.8 1389.7 L705.3 1385 L706.9 1389.7 L708.4 1384.8 L709.9 1389.6 L711.4 1384.9 L712.9 1390.3 L714.4 1385.3 L715.9 1389.7 L717.4 1384.8 L718.9 1389.9 L720.4 1384.7 L721.9 1389.8 L723.4 1385.1 L724.9 1390.4 L726.4 1385.2 L727.9 1390.4 L729.4 1384.7 L730.9 1389.7 L732.4 1385 L733.9 1390.3 L735.4 1385.4 L736.9 1390.3 L738.4 1384.8 L739.9 1390.2 L741.4 1384.9 L742.9 1389.6 L744.4 1384.6 L745.9 1389.6 L747.4 1384.8 L748.9 1390.2 L750.4 1385.2 L751.9 1390.1 L753.4 1385.1 L754.9 1390.2 L756.4 1385.4 L757.9 1390.3 L759.5 1385.1 L761 1390.2 L762.5 1385.1 L764 1390.2 L765.5 1385.2 L767 1390 L768.5 1385.4 L770 1390 L771.5 1385.4 L773 1390.3 L774.5 1384.9 L776 1389.9 L777.5 1384.6 L779 1390.3 L780.5 1384.6 L782 1389.6 L783.5 1384.9 L785 1390.2 L786.5 1384.9 L788 1389.6 L789.5 1384.7 L791 1389.9 L792.5 1385 L794 1390.2 L795.5 1385.2 L797 1389.6 L798.5 1384.7 L800 1389.8 L801.5 1385.4 L803 1389.7 L804.5 1384.6 L806 1390.2 L807.5 1385.3 L809 1389.7 L810.5 1384.7 L812.1 1390.1 L813.6 1385 L815.1 1389.7 L816.6 1385.1 L818.1 1390.3 L819.6 1385.4 L821.1 1389.9 L822.6 1385.4 L824.1 1390.4 L825.6 1385.4 L827.1 1390.3 L828.6 1384.7 L830.1 1390.2 L831.6 1385.4 L833.1 1390.1 L834.6 1385 L836.1 1390 L837.6 1385.3 L839.1 1390 L840.6 1384.8 L842.1 1389.7 L843.6 1384.7 L845.1 1389.9 L846.6 1385.2 L848.1 1389.7 L849.6 1385.1 L851.1 1390.1 L852.6 1385 L854.1 1390.3 L855.6 1385 L857.1 1390 L858.6 1384.6 L860.1 1389.7 L861.6 1385.4 L863.1 1389.8 L864.7 1385.2 L866.2 1389.7 L867.7 1385.1 L869.2 1389.6 L870.7 1384.7 L872.2 1390 L873.7 1384.7 L875.2 1390.1 L876.7 1384.8 L878.2 1390.2 L879.7 1385.2 L881.2 1390.2 L882.7 1385.3 L884.2 1390 L885.7 1385 L887.2 1390.2 L888.7 1385.3 L890.2 1389.8 L891.7 1384.8 L893.2 1390.2 L894.7 1384.6 L896.2 1389.6 L897.7 1385.3 L899.2 1389.6 L900.7 1384.8 L902.2 1390.2 L903.7 1384.9 L905.2 1390.2 L906.7 1385 L908.2 1390 L909.7 1384.7 L911.2 1390.1 L912.7 1384.9 L914.2 1390 L915.7 1385 L917.3 1390.2 L918.8 1385 L920.3 1389.7 L921.8 1385.1 L923.3 1389.9 L924.8 1385.1 L926.3 1390 L927.8 1385.1 L929.3 1389.9 L930.8 1385.1 L932.3 1389.9 L933.8 1384.6 L935.3 1389.6 L936.8 1385.4 L938.3 1390.2 L939.8 1385.1 L941.3 1389.9 L942.8 1385 L944.3 1389.9 L945.8 1385.3 L947.3 1389.6 L948.8 1384.7 L950.3 1390.3 L951.8 1385.2 L953.3 1389.9 L954.8 1385.2 L956.3 1389.6 L957.8 1384.7 L959.3 1390.3 L960.8 1385.3 L962.3 1389.8 L963.8 1384.9 L965.3 1390.2 L966.8 1385.1 L968.3 1389.9 L969.9 1385.3 L971.4 1390.2 L972.9 1384.7 L974.4 1390.3 L975.9 1385.4 L977.4 1390 L978.9 1384.6 L980.4 1390.1 L981.9 1385.1 L983.4 1389.7 L984.9 1385.4 L986.4 1390.2 L987.9 1385.4 L989.4 1390.2 L990.9 1384.9 L992.4 1389.9 L993.9 1384.7 L995.4 1390.3 L996.9 1384.9 L998.4 1389.6 L999.9 1385 L1001.4 1389.9 L1002.9 1385.2 L1004.4 1390.3 L1005.9 1384.8 L1007.4 1389.6 L1008.9 1385.3 L1010.4 1389.8 L1011.9 1385 L1013.4 1389.8 L1014.9 1385.1 L1016.4 1390.2 L1017.9 1385.3 L1019.4 1390.2 L1020.9 1385.2 L1022.5 1390.3 L1024 1384.7 L1025.5 1389.8 L1027 1384.9 L1028.5 1389.6 L1030 1385.1 L1031.5 1390.1 L1033 1384.9 L1034.5 1389.8 L1036 1385.4 L1037.5 1389.7 L1039 1385 L1040.5 1389.7 L1042 1385.2 L1043.5 1390.1 L1045 1384.7 L1046.5 1390 L1048 1385.2 L1049.5 1390 L1051 1385.2 L1052.5 1390.2 L1054 1385.3 L1055.5 1389.8 L1057 1385.1 L1058.5 1390.3 L1060 1385.3 L1061.5 1389.7 L1063 1385.3 L1064.5 1389.7 L1066 1385.2 L1067.5 1389.9 L1069 1384.8 L1070.5 1389.9 L1072 1385.1 L1072 1387.5 L1075.6 1351.8 L1075.6 1354.2 L1077.1 1349.1 L1078.6 1354.6 L1080.1 1349.4 L1081.6 1354.6 L1083.1 1349.5 L1084.6 1354.7 L1086.1 1349.3 L1087.6 1354.4 L1089.1 1349.4 L1090.6 1354.1 L1092.1 1349.6 L1093.6 1354.6 L1095.1 1349.5 L1096.6 1354.4 L1098.1 1349.4 L1099.6 1354.3 L1101.1 1349.6 L1102.6 1354 L1104.2 1349.5 L1105.7 1354.4 L1107.2 1349.3 L1108.7 1353.8 L1110.2 1349.2 L1111.7 1354.2 L1113.2 1349.7 L1114.7 1354.1 L1116.2 1349.6 L1117.7 1354.5 L1119.2 1349.3 L1120.7 1354.1 L1122.2 1349.5 L1123.7 1354.1 L1125.2 1349.5 L1126.7 1354.1 L1128.2 1349.1 L1129.7 1354.5 L1131.2 1349.2 L1132.8 1354.6 L1134.3 1349.2 L1135.8 1353.9 L1137.3 1349.7 L1138.8 1354 L1140.3 1349.5 L1141.8 1354.3 L1143.3 1349.1 L1144.8 1354.3 L1146.3 1349.4 L1147.8 1354.1 L1149.3 1348.9 L1150.8 1354.5 L1152.3 1349.5 L1153.8 1353.9 L1155.3 1348.9 L1156.8 1354.1 L1158.3 1349 L1159.8 1353.9 L1161.4 1349.2 L1162.9 1354.1 L1164.4 1349 L1165.9 1354.1 L1167.4 1349.7 L1168.9 1354 L1170.4 1349.1 L1171.9 1354.7 L1173.4 1349.2 L1174.9 1354.4 L1176.4 1349.5 L1177.9 1354.1 L1179.4 1349.7 L1180.9 1354.7 L1182.4 1349.7 L1183.9 1354.4 L1185.4 1349.5 L1186.9 1354 L1188.4 1349.4 L1189.9 1354.6 L1191.5 1349.5 L1193 1354 L1194.5 1349.2 L1196 1354.4 L1197.5 1349.3 L1199 1354 L1200.5 1349 L1202 1353.9 L1203.5 1349.6 L1205 1354.1 L1206.5 1349.3 L1208 1354.2 L1209.5 1349.3 L1211 1354.5 L1212.5 1349 L1214 1354.2 L1215.5 1349.7 L1217 1354.5 L1218.5 1349.7 L1220.1 1354.1 L1221.6 1349.6 L1223.1 1354.4 L1224.6 1349.1 L1226.1 1354 L1227.6 1349.5 L1229.1 1354.6 L1230.6 1349.2 L1232.1 1353.9 L1233.6 1349.2 L1235.1 1354.5 L1236.6 1349.4 L1238.1 1354 L1239.6 1349.2 L1241.1 1354.1 L1242.6 1349.6 L1244.1 1354 L1245.6 1349.4 L1247.1 1354 L1248.6 1349.4 L1250.2 1354.3 L1251.7 1349.3 L1253.2 1354.2 L1254.7 1349.1 L1256.2 1353.9 L1257.7 1349.5 L1259.2 1354.6 L1260.7 1349 L1262.2 1354.6 L1263.7 1349.1 L1265.2 1354.3 L1266.7 1349.1 L1268.2 1354.3 L1269.7 1349.7 L1271.2 1354.1 L1272.7 1349.7 L1274.2 1354.6 L1275.7 1349.5 L1277.2 1354.2 L1278.8 1349.3 L1280.3 1353.9 L1281.8 1349.2 L1283.3 1354.5 L1284.8 1349.1 L1286.3 1354.6 L1287.8 1349.5 L1289.3 1354 L1290.8 1349.1 L1292.3 1354.4 L1293.8 1349.4 L1295.3 1354.1 L1296.8 1349.6 L1298.3 1354.5 L1299.8 1349.4 L1301.3 1354.5 L1302.8 1349.5 L1304.3 1354.1 L1305.8 1349.3 L1307.3 1354.5 L1308.9 1349 L1310.4 1354.1 L1311.9 1349.2 L1313.4 1354.2 L1314.9 1349 L1316.4 1354.5 L1317.9 1349.3 L1319.4 1354.2 L1320.9 1349.5 L1322.4 1354.6 L1323.9 1349.1 L1325.4 1354.1 L1326.9 1349.7 L1328.4 1354 L1329.9 1348.9 L1331.4 1353.9 L1332.9 1349.1 L1334.4 1354.3 L1335.9 1349.3 L1337.5 1354.3 L1339 1349.4 L1340.5 1354.3 L1342 1349.7 L1343.5 1354.6 L1345 1349.7 L1346.5 1354 L1348 1349.2 L1349.5 1354.4 L1351 1349.1 L1352.5 1354.4 L1354 1349 L1355.5 1353.9 L1357 1349.7 L1358.5 1354 L1360 1349.1 L1361.5 1354 L1363 1349.3 L1364.5 1354.5 L1366 1349.6 L1367.6 1354.3 L1369.1 1349 L1370.6 1354.5 L1372.1 1349.4 L1373.6 1354.2 L1375.1 1349.5 L1376.6 1354.7 L1378.1 1349.1 L1379.6 1354.4 L1381.1 1349.5 L1382.6 1354.5 L1384.1 1349.3 L1385.6 1354.5 L1387.1 1349.4 L1388.6 1354.6 L1390.1 1349.2 L1391.6 1354.2 L1393.1 1349.3 L1394.6 1354.5 L1396.2 1349.3 L1397.7 1354.7 L1399.2 1349.7 L1400.7 1354.6 L1402.2 1349.2 L1403.7 1354.3 L1405.2 1349 L1406.7 1354 L1408.2 1349.5 L1409.7 1354.4 L1411.2 1349.1 L1412.7 1354.2 L1414.2 1348.9 L1415.7 1354.4 L1417.2 1349.7 L1418.7 1354 L1420.2 1349.7 L1421.7 1354.3 L1423.2 1349.5 L1424.7 1354.1 L1426.3 1349.4 L1427.8 1353.9 L1429.3 1349 L1430.8 1354.6 L1432.3 1349.3 L1432.3 1351.8 L1435.8 1316.5 L1435.8 1318.9 L1437.3 1314.2 L1438.8 1319.1 L1440.3 1314.2 L1441.8 1319.4 L1443.3 1313.6 L1444.8 1319.2 L1446.3 1313.8 L1447.8 1318.6 L1449.3 1314.3 L1450.8 1318.8 L1452.3 1314.3 L1453.8 1318.9 L1455.3 1313.6 L1456.9 1319.2 L1458.4 1313.6 L1459.9 1318.7 L1461.4 1314.3 L1462.9 1318.6 L1464.4 1314.2 L1465.9 1318.6 L1467.4 1314 L1468.9 1318.8 L1470.4 1313.9 L1471.9 1319 L1473.4 1314 L1474.9 1318.8 L1476.4 1313.8 L1477.9 1319.1 L1479.4 1313.9 L1480.9 1318.9 L1482.4 1314.1 L1483.9 1318.8 L1485.4 1314.4 L1486.9 1318.9 L1488.5 1313.9 L1490 1318.7 L1491.5 1313.7 L1493 1319.3 L1494.5 1313.7 L1496 1319.2 L1497.5 1314 L1499 1318.7 L1500.5 1314.2 L1502 1319.2 L1503.5 1313.6 L1505 1318.6 L1506.5 1314.4 L1508 1318.8 L1509.5 1314.2 L1511 1319 L1512.5 1314.4 L1514 1319.3 L1515.5 1314.2 L1517 1319.3 L1518.5 1314.2 L1520 1318.8 L1521.6 1314.3 L1523.1 1319.4 L1524.6 1314 L1526.1 1319.2 L1527.6 1314.4 L1529.1 1319 L1530.6 1313.8 L1532.1 1319.4 L1533.6 1313.7 L1535.1 1318.6 L1536.6 1314.1 L1538.1 1319.4 L1539.6 1314 L1541.1 1319.4 L1542.6 1314.2 L1544.1 1318.6 L1545.6 1313.7 L1547.1 1318.8 L1548.6 1314 L1550.1 1318.9 L1551.6 1314 L1553.2 1319.3 L1554.7 1313.7 L1556.2 1319.3 L1557.7 1314.2 L1559.2 1319.2 L1560.7 1314.4 L1562.2 1318.9 L1563.7 1313.7 L1565.2 1318.8 L1566.7 1314.1 L1568.2 1319 L1569.7 1314.3 L1571.2 1319.1 L1572.7 1313.9 L1574.2 1318.6 L1575.7 1313.7 L1577.2 1318.6 L1578.7 1313.9 L1580.2 1318.8 L1581.7 1314.3 L1583.2 1318.6 L1584.8 1313.6 L1586.3 1319.2 L1587.8 1314.1 L1589.3 1319.2 L1590.8 1313.6 L1592.3 1319.3 L1593.8 1314 L1595.3 1318.8 L1596.8 1314 L1598.3 1319.4 L1599.8 1313.8 L1601.3 1319.1 L1602.8 1313.7 L1604.3 1318.9 L1605.8 1314 L1607.3 1319.3 L1608.8 1314.3 L1610.3 1319.3 L1611.8 1314.4 L1613.3 1319 L1614.8 1314 L1616.4 1318.7 L1617.9 1313.7 L1619.4 1318.9 L1620.9 1314.3 L1622.4 1318.9 L1623.9 1314 L1625.4 1318.9 L1626.9 1314.5 L1628.4 1318.6 L1629.9 1313.9 L1631.4 1318.7 L1632.9 1314.2 L1634.4 1319.2 L1635.9 1313.7 L1637.4 1319.3 L1638.9 1314.3 L1640.4 1318.6 L1641.9 1313.8 L1643.4 1319.1 L1644.9 1314.1 L1646.4 1318.6 L1648 1314.1 L1649.5 1318.7 L1651 1314 L1652.5 1319.4 L1654 1314.3 L1655.5 1318.6 L1657 1313.9 L1658.5 1318.6 L1660 1314.3 L1661.5 1318.9 L1663 1313.6 L1664.5 1318.8 L1666 1314.2 L1667.5 1318.9 L1669 1314.3 L1670.5 1318.9 L1672 1313.9 L1673.5 1318.8 L1675 1313.8 L1676.5 1318.7 L1678 1314.4 L1679.5 1319.1 L1681.1 1314.1 L1682.6 1319.3 L1684.1 1314.4 L1685.6 1319.2 L1687.1 1313.9 L1688.6 1318.9 L1690.1 1314.3 L1691.6 1319.1 L1693.1 1313.8 L1694.6 1318.9 L1696.1 1314.1 L1697.6 1319.1 L1699.1 1313.9 L1700.6 1318.9 L1702.1 1314.3 L1703.6 1318.9 L1705.1 1314 L1706.6 1319.3 L1708.1 1313.6 L1709.6 1319 L1711.1 1314.2 L1712.7 1318.7 L1714.2 1313.9 L1715.7 1319.2 L1717.2 1314.2 L1718.7 1319.1 L1720.2 1313.6 L1721.7 1318.9 L1723.2 1313.7 L1724.7 1318.9 L1726.2 1313.9 L1727.7 1319.3 L1729.2 1314.3 L1730.7 1318.8 L1732.2 1313.6 L1733.7 1318.6 L1735.2 1314.2 L1736.7 1318.9 L1738.2 1313.8 L1739.7 1319.1 L1741.2 1313.7 L1742.7 1319.1 L1744.3 1314.5 L1745.8 1318.6 L1747.3 1314.4 L1748.8 1318.9 L1750.3 1314.4 L1751.8 1319 L1751.8 1316.5 L1754.2 1288" fill="none" stroke="#0072bd" stroke-width="6.2" stroke-linejoin="round" stroke-linecap="butt" clip-path="url(#c4)"/>
<path d="M1754.2 1293.8 L1755.7 1283 L1757.2 1294.2 L1758.8 1282.6 L1760.3 1294.4 L1761.8 1282.7 L1763.3 1293.7 L1764.8 1282.4 L1766.3 1293.1 L1767.8 1282 L1769.3 1292.6 L1770.8 1282.9 L1772.3 1293.2 L1773.8 1281.8 L1775.3 1293.5 L1776.8 1283.3 L1778.3 1293.1 L1779.8 1282.3 L1781.3 1294.1 L1782.9 1283.2 L1784.4 1294 L1785.9 1282.7 L1787.4 1293.6 L1788.9 1282.6 L1790.4 1293.4 L1791.9 1281.6 L1793.4 1294.3 L1794.9 1281.7 L1796.4 1294 L1797.9 1282.1 L1799.4 1292.8 L1800.9 1283.4 L1802.4 1294.1 L1803.9 1282.2 L1805.4 1293.8 L1807 1282.8 L1808.5 1293.1 L1810 1281.7 L1811.5 1293.6 L1813 1283.4 L1814.5 1293.2 L1816 1282.8 L1817.5 1292.7 L1819 1281.6 L1820.5 1294.3 L1822 1281.9 L1823.5 1292.6 L1825 1282.6 L1826.5 1292.8 L1828 1282.1 L1829.5 1294.1 L1831.1 1281.9 L1832.6 1294.1 L1834.1 1283.2 L1835.6 1292.6 L1837.1 1283.2 L1838.6 1294.2 L1840.1 1281.9 L1841.6 1293.6 L1843.1 1283 L1844.6 1294.2 L1846.1 1283.2 L1847.6 1293.2 L1849.1 1283.4 L1850.6 1294.4 L1852.1 1282.6 L1853.6 1294 L1855.2 1281.9 L1856.7 1293.7 L1858.2 1281.6 L1859.7 1294 L1861.2 1281.7 L1862.7 1294.4 L1864.2 1283.3 L1865.7 1294 L1867.2 1283 L1868.7 1293.2 L1870.2 1282.8 L1871.7 1294.4 L1873.2 1283.3 L1874.7 1293.4 L1876.2 1283.2 L1877.7 1294.5 L1879.3 1282.5 L1880.8 1293.9 L1882.3 1282.4 L1883.8 1294 L1885.3 1282.8 L1886.8 1293.4 L1888.3 1282 L1889.8 1293.9 L1891.3 1281.7 L1892.8 1293.2 L1894.3 1281.8 L1895.8 1294 L1897.3 1282.3 L1898.8 1293.3 L1900.3 1282.4 L1901.8 1292.7 L1903.4 1283.2 L1904.9 1293.2 L1906.4 1283.2 L1907.9 1292.7 L1909.4 1282.1 L1910.9 1294 L1912.4 1282.3 L1913.9 1293 L1915.4 1282.1 L1916.9 1294.1 L1918.4 1282.3 L1919.9 1293 L1921.4 1282.4 L1922.9 1293.3 L1924.4 1282.9 L1925.9 1292.9 L1927.5 1281.8 L1929 1293.8 L1930.5 1281.7 L1932 1292.9 L1933.5 1282.9 L1935 1293.5 L1936.5 1283.3 L1938 1293.2 L1939.5 1282.4 L1941 1293.5 L1942.5 1281.7 L1944 1293.7 L1945.5 1282.2 L1947 1293.7 L1948.5 1281.9 L1950 1293.3 L1951.6 1283.4 L1953.1 1294.4 L1954.6 1281.9 L1956.1 1292.8 L1957.6 1283.2 L1959.1 1293 L1960.6 1282.2 L1962.1 1292.8 L1963.6 1283.4 L1965.1 1293.5 L1966.6 1283.4 L1968.1 1293.1 L1969.6 1282.7 L1971.1 1293 L1972.6 1283.4 L1974.1 1293.1 L1975.7 1283 L1977.2 1293.2 L1978.7 1282.6 L1980.2 1293.3 L1981.7 1282.8 L1983.2 1292.6 L1984.7 1281.8 L1986.2 1294 L1987.7 1282.5 L1989.2 1292.6 L1990.7 1283 L1992.2 1294.3 L1993.7 1282.6 L1995.2 1293 L1996.7 1281.9 L1998.2 1294.3 L1999.8 1283.2 L2001.3 1293.5 L2002.8 1282.4 L2004.3 1292.8 L2005.8 1282.8 L2007.3 1293.7 L2008.8 1282.2 L2010.3 1293.8 L2011.8 1282.3 L2013.3 1293.3 L2014.8 1283.3 L2016.3 1292.6 L2017.8 1281.8 L2019.3 1294.2 L2020.8 1281.7 L2022.4 1292.7 L2023.9 1282 L2025.4 1292.9 L2026.9 1282.8 L2028.4 1293 L2029.9 1281.8 L2031.4 1294.1 L2032.9 1281.9 L2034.4 1293.3 L2035.9 1281.7 L2037.4 1293.1 L2038.9 1282.3 L2040.4 1293.8 L2041.9 1283 L2043.4 1293.3 L2044.9 1283.2 L2044.9 1288 L2045.3 1640.1" fill="none" stroke="#0072bd" stroke-width="6.2" stroke-linejoin="round" stroke-linecap="butt" clip-path="url(#c4)"/>
<path d="M181.3 1560 L183.8 1480 L186.6 1495.2 L186.6 1498.4 L188.1 1492.6 L189.6 1497.8 L191.1 1492.5 L192.6 1498.3 L194.1 1492.1 L195.6 1498.2 L197.1 1491.9 L198.6 1498.4 L200.1 1492.6 L201.6 1498.2 L203.1 1492.6 L204.6 1497.9 L206.1 1492.6 L207.6 1497.7 L209.1 1492.4 L210.6 1498.5 L212.1 1492.1 L213.6 1497.7 L215.1 1492.5 L216.6 1498.2 L218.1 1492.2 L219.6 1497.7 L221.1 1492.7 L222.6 1498.2 L224.1 1492.2 L225.6 1497.7 L227.1 1492 L228.6 1497.9 L230.1 1492.2 L231.6 1498.2 L233.1 1492.4 L234.6 1498.6 L236.1 1492.4 L237.6 1498.1 L239.1 1492.2 L240.7 1498.5 L242.2 1491.8 L243.7 1498.4 L245.2 1492.2 L246.7 1498.4 L248.2 1492.1 L249.7 1498.6 L251.2 1491.8 L252.7 1498.4 L254.2 1492.5 L255.7 1498.2 L257.2 1492.3 L258.7 1497.9 L260.2 1492 L261.7 1497.9 L263.2 1492.1 L264.7 1498.1 L266.2 1492.3 L267.7 1498.3 L269.2 1492 L270.7 1498.6 L272.2 1491.8 L273.7 1498.4 L275.2 1492.5 L276.7 1498.3 L278.2 1492.3 L279.7 1498.6 L281.2 1492.3 L282.7 1498 L284.2 1492.7 L285.7 1498.1 L287.2 1492.2 L288.7 1497.9 L290.2 1492.7 L291.7 1498.1 L293.2 1492.7 L294.7 1497.8 L296.2 1492.3 L297.7 1498 L299.2 1492.3 L300.7 1498.2 L302.2 1492.4 L303.7 1497.8 L305.2 1492.7 L306.7 1498.2 L308.2 1491.8 L309.8 1497.9 L311.3 1492.4 L312.8 1498 L314.3 1492 L315.8 1498.1 L317.3 1492 L318.8 1497.6 L320.3 1492.6 L321.8 1497.8 L323.3 1492.4 L324.8 1498 L326.3 1492.4 L327.8 1498.6 L329.3 1492.3 L330.8 1498.2 L332.3 1491.8 L333.8 1498.3 L335.3 1492.2 L336.8 1498.5 L338.3 1492.4 L339.8 1497.7 L341.3 1491.8 L342.8 1498.2 L344.3 1492.2 L345.8 1497.7 L347.3 1492 L348.8 1498 L350.3 1492.1 L351.8 1497.9 L353.3 1491.8 L354.8 1498 L356.3 1492.5 L357.8 1498.5 L359.3 1492.5 L360.8 1497.9 L362.3 1492.3 L363.8 1498.6 L365.3 1492.6 L366.8 1497.8 L368.3 1492 L369.8 1497.7 L371.3 1492.3 L372.8 1498.4 L374.3 1492 L375.8 1498.4 L377.3 1492.6 L378.9 1498.5 L380.4 1492.4 L381.9 1498.5 L383.4 1492.3 L384.9 1498.5 L386.4 1492.3 L387.9 1497.9 L389.4 1492.6 L390.9 1498.1 L392.4 1492.7 L393.9 1497.8 L395.4 1491.9 L396.9 1498.2 L398.4 1491.9 L399.9 1497.8 L401.4 1492.3 L402.9 1498.1 L404.4 1492.7 L405.9 1497.9 L407.4 1491.8 L408.9 1498.4 L410.4 1492.3 L411.9 1498.2 L413.4 1491.9 L414.9 1498.6 L416.4 1492.2 L417.9 1497.7 L419.4 1491.9 L420.9 1497.8 L422.4 1492.5 L423.9 1497.8 L425.4 1492.3 L426.9 1498.2 L428.4 1492.3 L429.9 1498.1 L431.4 1492.6 L432.9 1498.4 L434.4 1492.2 L435.9 1497.9 L437.4 1491.9 L438.9 1498.6 L440.4 1491.8 L441.9 1498.6 L443.4 1492.7 L444.9 1498 L446.4 1492.3 L448 1497.9 L449.5 1492 L451 1498.5 L452.5 1492.6 L454 1498.1 L455.5 1491.8 L457 1498.5 L458.5 1492.3 L460 1497.7 L461.5 1492.3 L463 1498.2 L464.5 1492 L466 1497.8 L467.5 1492.5 L469 1498.6 L470.5 1492.8 L472 1498.2 L473.5 1492.7 L475 1498.4 L476.5 1492.3 L478 1498.6 L479.5 1492.5 L481 1498.5 L482.5 1492.5 L484 1497.7 L485.5 1492.7 L487 1497.7 L488.5 1492.4 L490 1498.6 L491.5 1492.4 L493 1498.4 L494.5 1492.7 L496 1498.2 L497.5 1492.2 L499 1497.7 L500.5 1492.2 L502 1498.1 L503.5 1492.4 L505 1498.5 L506.5 1492.1 L508 1497.8 L509.5 1492.7 L511 1497.7 L512.5 1492.5 L514 1498.3 L515.5 1491.8 L517.1 1498.6 L518.6 1491.9 L520.1 1497.8 L521.6 1492 L523.1 1498.4 L524.6 1492.3 L526.1 1498.6 L527.6 1492.2 L529.1 1497.8 L530.6 1492.5 L532.1 1497.8 L533.6 1492.2 L535.1 1498.3 L536.6 1491.9 L538.1 1497.6 L539.6 1492.8 L541.1 1498.6 L542.6 1492.5 L544.1 1497.9 L545.6 1491.9 L547.1 1497.7 L548.6 1492 L550.1 1498.5 L551.6 1492.2 L553.1 1498.2 L554.6 1492.8 L556.1 1498.2 L557.6 1492.1 L559.1 1498.4 L560.6 1492.2 L562.1 1497.8 L563.6 1492.5 L565.1 1498.3 L566.6 1492.7 L568.1 1497.7 L569.6 1492.5 L571.1 1498.4 L572.6 1492.2 L574.1 1498 L575.6 1491.8 L577.1 1498.2 L578.6 1492.5 L580.1 1498.2 L581.6 1491.9 L583.1 1498 L584.6 1492.3 L586.2 1498.2 L587.7 1491.8 L589.2 1498.3 L590.7 1492.6 L592.2 1498.2 L593.7 1492.4 L595.2 1498.1 L596.7 1492 L598.2 1497.7 L599.7 1492.3 L601.2 1498 L602.7 1492.2 L604.2 1498.5 L605.7 1492.3 L607.2 1498.3 L608.7 1492.5 L610.2 1497.9 L611.7 1492.3 L613.2 1498.2 L614.7 1492.5 L616.2 1498.4 L617.7 1492.3 L619.2 1498 L620.7 1492.5 L622.2 1498.5 L623.7 1491.9 L625.2 1498.6 L626.7 1492.5 L628.2 1497.7 L629.7 1492.1 L631.2 1497.7 L632.7 1491.9 L634.2 1498.3 L635.7 1492.4 L637.2 1498.1 L638.7 1492.1 L640.2 1497.8 L641.7 1492.4 L643.2 1498.4 L644.7 1492.1 L646.2 1498.2 L647.7 1492.7 L649.2 1497.9 L650.7 1492.5 L652.2 1497.7 L653.7 1492.1 L655.3 1498.2 L656.8 1491.8 L658.3 1498.2 L659.8 1491.8 L661.3 1498.1 L661.3 1495.2 L665.5 1531.4 L665.5 1534.4 L667 1528.7 L668.5 1534.3 L670 1528 L671.5 1534.3 L673 1529 L674.5 1534.2 L676 1528.8 L677.5 1534.5 L679 1528.5 L680.5 1534.3 L682 1528 L683.5 1534.6 L685 1528.9 L686.5 1533.9 L688 1528.3 L689.5 1534.4 L691 1528.3 L692.5 1534.3 L694 1528.9 L695.5 1534.3 L697 1528.1 L698.5 1534.4 L700 1528.9 L701.5 1534 L703 1528.1 L704.5 1534.4 L706 1528.8 L707.5 1534.5 L709 1528 L710.5 1534.7 L712 1528.3 L713.5 1534.6 L715 1528.9 L716.5 1534.3 L718 1528.2 L719.5 1534.2 L721 1528.8 L722.5 1534.7 L724 1528.3 L725.5 1533.8 L727 1528.9 L728.5 1534.4 L730 1528 L731.5 1534.5 L733 1528.1 L734.5 1533.9 L736 1528.4 L737.5 1534 L739 1528.6 L740.5 1534 L742 1528.5 L743.5 1533.9 L745 1528.3 L746.5 1534.5 L748 1528.1 L749.5 1534.6 L751 1528.9 L752.5 1534.7 L754 1528.4 L755.5 1534.8 L757 1528.5 L758.5 1533.9 L760 1528.3 L761.5 1534 L763 1528 L764.5 1534.4 L766 1528.1 L767.5 1534.3 L769 1528.6 L770.5 1534.5 L772 1528.3 L773.5 1534.3 L775 1528.7 L776.5 1534.3 L778 1528.2 L779.5 1534.1 L781 1528.8 L782.5 1534.3 L784 1528.3 L785.5 1533.9 L787 1528.7 L788.5 1534.8 L790 1528.7 L791.5 1534.6 L793 1528.7 L794.5 1533.9 L796 1528.5 L797.5 1534.7 L799 1528.2 L800.5 1533.9 L802 1528.3 L803.5 1534.5 L805 1528.5 L806.5 1534.5 L808 1528.4 L809.5 1534 L811 1528.3 L812.5 1534 L814 1528.7 L815.5 1534.7 L817 1528.4 L818.5 1534.3 L820 1528.3 L821.5 1534.3 L823 1528.6 L824.5 1534.4 L826 1528.9 L827.5 1534.2 L829 1528.9 L830.5 1534.8 L832 1528.1 L833.5 1534.5 L835 1528.8 L836.5 1534.7 L838 1528.7 L839.5 1534.6 L841 1528.3 L842.5 1534.4 L844 1528.2 L845.5 1534.1 L847 1528.1 L848.5 1534.4 L850 1528.2 L851.5 1534.7 L853 1528.7 L854.5 1534.2 L856 1528.6 L857.5 1533.9 L859 1528.1 L860.5 1534.5 L862 1528.5 L863.5 1534.4 L865 1528.1 L866.5 1533.9 L868 1528.6 L869.5 1534.5 L871 1528.4 L872.5 1534.3 L874 1528.7 L875.5 1534.1 L877 1528.3 L878.5 1534.2 L880 1528 L881.5 1534.7 L883 1528 L884.5 1534.1 L886 1528.4 L887.5 1533.9 L889 1528.6 L890.5 1533.9 L892 1528.5 L893.5 1534.8 L895 1528.2 L896.5 1534.2 L898 1528.7 L899.5 1534.8 L901 1528.9 L902.5 1534.7 L904 1528.1 L905.5 1533.9 L907 1528 L908.5 1534.5 L910 1528.6 L911.5 1534.3 L913 1528.4 L914.5 1534.4 L916 1528.1 L917.5 1534.7 L919 1528.6 L920.5 1533.8 L922 1528.2 L923.5 1534.5 L925 1528.3 L926.5 1533.9 L928 1528.9 L929.5 1534.7 L931 1528.6 L932.5 1534.3 L934 1528 L935.5 1534 L937 1528.3 L938.5 1533.9 L940 1528.4 L941.5 1534.6 L943 1528.8 L944.5 1534.6 L946 1528 L947.5 1534.7 L949 1528.2 L950.5 1534.8 L952 1528.2 L953.5 1534.4 L955 1528.1 L956.5 1534.6 L958 1528.3 L959.5 1534.5 L961 1528.8 L962.5 1534.2 L964 1528.6 L965.5 1534.7 L967 1528.2 L968.5 1534.1 L970 1528 L971.5 1533.9 L973 1528.9 L974.5 1534.2 L976 1528.9 L977.5 1534.8 L979 1528.6 L980.5 1534.2 L982 1528.1 L983.5 1534.4 L985 1528.3 L986.5 1534.3 L988 1528.5 L989.5 1534.8 L991 1528.7 L992.5 1534.4 L994 1528.5 L995.5 1534 L997 1528.8 L998.5 1534.3 L1000 1528.2 L1001.5 1534.3 L1003 1528.9 L1004.5 1534.8 L1006 1528.8 L1007.5 1534.7 L1009 1528.9 L1010.5 1534.5 L1012 1528.8 L1013.5 1534.1 L1015 1528.5 L1016.5 1534.6 L1018 1528.5 L1019.5 1534.3 L1021 1528.6 L1022.5 1534.4 L1024 1528.7 L1025.5 1534.8 L1027 1528.8 L1028.5 1534 L1030 1528.4 L1031.5 1534.2 L1033 1528.2 L1034.5 1533.9 L1036 1528.3 L1037.5 1534.2 L1039 1528 L1040.5 1534.1 L1042 1528.5 L1043.5 1534.2 L1045 1528.4 L1046.5 1534.1 L1048 1528.3 L1049.5 1534.2 L1051 1528.3 L1052.5 1534.1 L1054 1528.5 L1055.5 1534.4 L1057 1528.2 L1058.5 1534.5 L1060 1528.5 L1061.5 1533.9 L1063 1528.9 L1064.5 1534 L1066 1528.8 L1067.5 1534 L1069 1528.3 L1070.5 1534.2 L1072 1528.1 L1072 1531.4 L1076.3 1567.8 L1076.3 1570.5 L1077.8 1565.1 L1079.3 1570.4 L1080.8 1565.2 L1082.3 1570.9 L1083.8 1564.8 L1085.3 1570.5 L1086.8 1564.6 L1088.3 1570.9 L1089.8 1564.9 L1091.3 1570.8 L1092.8 1564.7 L1094.3 1570.7 L1095.8 1565.3 L1097.3 1570.6 L1098.8 1564.4 L1100.3 1570.6 L1101.8 1564.7 L1103.3 1570.3 L1104.8 1564.6 L1106.3 1571.1 L1107.8 1565 L1109.3 1570.6 L1110.8 1564.8 L1112.3 1570.5 L1113.8 1565.2 L1115.3 1570.4 L1116.8 1564.7 L1118.3 1570.7 L1119.8 1564.4 L1121.3 1571.2 L1122.8 1564.5 L1124.3 1571.2 L1125.8 1564.5 L1127.3 1570.3 L1128.8 1565.2 L1130.3 1571.2 L1131.8 1564.5 L1133.3 1570.9 L1134.8 1564.7 L1136.3 1570.7 L1137.8 1564.9 L1139.4 1570.4 L1140.9 1564.8 L1142.4 1570.5 L1143.9 1565.2 L1145.4 1571.1 L1146.9 1564.8 L1148.4 1571.1 L1149.9 1565.1 L1151.4 1570.8 L1152.9 1565.1 L1154.4 1571.1 L1155.9 1565.2 L1157.4 1570.9 L1158.9 1564.8 L1160.4 1570.6 L1161.9 1565.3 L1163.4 1570.7 L1164.9 1564.8 L1166.4 1571.1 L1167.9 1565.2 L1169.4 1570.4 L1170.9 1565.1 L1172.4 1571 L1173.9 1565.1 L1175.4 1570.9 L1176.9 1565.3 L1178.4 1570.3 L1179.9 1564.7 L1181.4 1570.7 L1182.9 1565.2 L1184.4 1570.7 L1185.9 1564.4 L1187.4 1570.6 L1188.9 1564.8 L1190.4 1570.7 L1191.9 1564.9 L1193.4 1570.3 L1194.9 1564.5 L1196.4 1570.8 L1197.9 1565 L1199.4 1570.5 L1200.9 1565.2 L1202.4 1571.2 L1203.9 1564.5 L1205.4 1570.6 L1206.9 1564.8 L1208.5 1570.8 L1210 1565.2 L1211.5 1570.3 L1213 1564.6 L1214.5 1570.4 L1216 1564.8 L1217.5 1570.3 L1219 1565.3 L1220.5 1570.4 L1222 1564.7 L1223.5 1570.9 L1225 1564.4 L1226.5 1570.9 L1228 1564.8 L1229.5 1570.3 L1231 1564.4 L1232.5 1570.7 L1234 1564.5 L1235.5 1570.3 L1237 1564.5 L1238.5 1570.7 L1240 1565.1 L1241.5 1570.6 L1243 1565.3 L1244.5 1570.8 L1246 1565.1 L1247.5 1570.9 L1249 1565.2 L1250.5 1570.9 L1252 1564.7 L1253.5 1570.9 L1255 1564.4 L1256.5 1570.5 L1258 1564.7 L1259.5 1570.6 L1261 1564.5 L1262.5 1571.1 L1264 1564.6 L1265.5 1570.8 L1267 1565.1 L1268.5 1571.1 L1270 1564.4 L1271.5 1571.2 L1273 1565 L1274.5 1571.1 L1276 1564.7 L1277.6 1571.1 L1279.1 1564.6 L1280.6 1570.7 L1282.1 1565 L1283.6 1571 L1285.1 1564.7 L1286.6 1570.8 L1288.1 1564.5 L1289.6 1570.3 L1291.1 1565.3 L1292.6 1570.7 L1294.1 1565.3 L1295.6 1571.1 L1297.1 1565.3 L1298.6 1571.1 L1300.1 1565.1 L1301.6 1570.4 L1303.1 1564.6 L1304.6 1570.9 L1306.1 1565 L1307.6 1570.8 L1309.1 1564.8 L1310.6 1571.2 L1312.1 1564.9 L1313.6 1570.8 L1315.1 1564.9 L1316.6 1570.6 L1318.1 1564.7 L1319.6 1570.3 L1321.1 1564.7 L1322.6 1571.2 L1324.1 1564.6 L1325.6 1570.8 L1327.1 1565 L1328.6 1570.3 L1330.1 1565.3 L1331.6 1570.8 L1333.1 1564.5 L1334.6 1571.1 L1336.1 1565.2 L1337.6 1571 L1339.1 1564.6 L1340.6 1570.7 L1342.1 1564.5 L1343.6 1570.4 L1345.1 1565 L1346.7 1570.8 L1348.2 1564.6 L1349.7 1570.7 L1351.2 1565.1 L1352.7 1571.1 L1354.2 1565 L1355.7 1570.7 L1357.2 1565.1 L1358.7 1570.7 L1360.2 1564.7 L1361.7 1570.6 L1363.2 1564.7 L1364.7 1570.7 L1366.2 1565.4 L1367.7 1571.2 L1369.2 1565.1 L1370.7 1570.8 L1372.2 1564.4 L1373.7 1570.4 L1375.2 1565.3 L1376.7 1570.4 L1378.2 1565.2 L1379.7 1571.1 L1381.2 1564.8 L1382.7 1570.3 L1384.2 1565.1 L1385.7 1570.7 L1387.2 1565.2 L1388.7 1570.5 L1390.2 1564.5 L1391.7 1570.7 L1393.2 1565.1 L1394.7 1570.8 L1396.2 1565.2 L1397.7 1570.8 L1399.2 1564.7 L1400.7 1570.3 L1402.2 1564.8 L1403.7 1570.5 L1405.2 1564.6 L1406.7 1570.9 L1408.2 1564.5 L1409.7 1570.8 L1411.2 1565.2 L1412.7 1570.4 L1414.2 1564.7 L1415.8 1571 L1417.3 1565.3 L1418.8 1570.7 L1420.3 1565.1 L1421.8 1570.7 L1423.3 1564.5 L1424.8 1570.8 L1426.3 1564.6 L1427.8 1571 L1429.3 1565.1 L1430.8 1570.9 L1432.3 1565 L1432.3 1567.8 L1436.5 1603.5 L1436.5 1606.4 L1438 1600.5 L1439.5 1606.6 L1441 1600.9 L1442.5 1606.8 L1444 1600.9 L1445.5 1606.3 L1447 1600.2 L1448.5 1606.9 L1450 1600.7 L1451.5 1606.9 L1453 1601 L1454.6 1606.9 L1456.1 1600.9 L1457.6 1606 L1459.1 1600.3 L1460.6 1606.1 L1462.1 1600.3 L1463.6 1605.9 L1465.1 1600.9 L1466.6 1606.3 L1468.1 1601 L1469.6 1606.4 L1471.1 1600.7 L1472.6 1606.7 L1474.1 1600.6 L1475.6 1606.9 L1477.1 1600.2 L1478.6 1606.1 L1480.1 1600.1 L1481.6 1606.8 L1483.1 1600.5 L1484.7 1606.5 L1486.2 1600.9 L1487.7 1606.3 L1489.2 1600.8 L1490.7 1606.1 L1492.2 1600.4 L1493.7 1606.3 L1495.2 1600.3 L1496.7 1606.5 L1498.2 1600.2 L1499.7 1606 L1501.2 1600.2 L1502.7 1606.4 L1504.2 1600.4 L1505.7 1606.2 L1507.2 1600.4 L1508.7 1606.3 L1510.2 1600.3 L1511.7 1606.5 L1513.3 1600.9 L1514.8 1606.2 L1516.3 1600.3 L1517.8 1606 L1519.3 1600.4 L1520.8 1606.5 L1522.3 1600.3 L1523.8 1606.3 L1525.3 1600.6 L1526.8 1606.4 L1528.3 1600.3 L1529.8 1606 L1531.3 1600.6 L1532.8 1606.2 L1534.3 1600.5 L1535.8 1606.2 L1537.3 1600.9 L1538.8 1606.2 L1540.3 1600.2 L1541.9 1606.3 L1543.4 1600.2 L1544.9 1606.7 L1546.4 1600.8 L1547.9 1606.5 L1549.4 1601.1 L1550.9 1606.9 L1552.4 1600.4 L1553.9 1606.1 L1555.4 1600.5 L1556.9 1606.4 L1558.4 1600.4 L1559.9 1606.2 L1561.4 1600.2 L1562.9 1606.6 L1564.4 1601 L1565.9 1606.8 L1567.4 1600.2 L1568.9 1606.2 L1570.5 1600.4 L1572 1606.8 L1573.5 1600.2 L1575 1606 L1576.5 1600.2 L1578 1606.2 L1579.5 1600.3 L1581 1606.6 L1582.5 1600.6 L1584 1606.8 L1585.5 1600.3 L1587 1606.9 L1588.5 1600.1 L1590 1606.5 L1591.5 1600.3 L1593 1606.6 L1594.5 1600.7 L1596 1606.4 L1597.5 1600.6 L1599 1606.2 L1600.6 1600.8 L1602.1 1606.8 L1603.6 1600.2 L1605.1 1606.6 L1606.6 1600.4 L1608.1 1606.4 L1609.6 1600.5 L1611.1 1606.6 L1612.6 1601.1 L1614.1 1606.4 L1615.6 1600.1 L1617.1 1606.1 L1618.6 1600.6 L1620.1 1606 L1621.6 1600.8 L1623.1 1606.8 L1624.6 1601 L1626.1 1606.7 L1627.6 1600.3 L1629.2 1606.8 L1630.7 1600.8 L1632.2 1606.9 L1633.7 1600.7 L1635.2 1606.4 L1636.7 1600.1 L1638.2 1606.5 L1639.7 1600.4 L1641.2 1606 L1642.7 1601.1 L1644.2 1606.2 L1645.7 1601 L1647.2 1606.8 L1648.7 1600.8 L1650.2 1606.9 L1651.7 1600.4 L1653.2 1606.1 L1654.7 1600.4 L1656.2 1606.3 L1657.8 1600.5 L1659.3 1606 L1660.8 1600.2 L1662.3 1606.7 L1663.8 1600.5 L1665.3 1606.6 L1666.8 1600.7 L1668.3 1606.1 L1669.8 1600.7 L1671.3 1606.7 L1672.8 1600.5 L1674.3 1606.1 L1675.8 1600.8 L1677.3 1606.4 L1678.8 1601 L1680.3 1606 L1681.8 1600.6 L1683.3 1606.1 L1684.8 1600.2 L1686.4 1606.1 L1687.9 1600.3 L1689.4 1606.7 L1690.9 1600.7 L1692.4 1606.5 L1693.9 1600.1 L1695.4 1606.6 L1696.9 1600.7 L1698.4 1606.9 L1699.9 1600.8 L1701.4 1606.9 L1702.9 1600.8 L1704.4 1606.4 L1705.9 1600.7 L1707.4 1606.6 L1708.9 1600.2 L1710.4 1606.6 L1711.9 1600.9 L1713.4 1606.9 L1714.9 1600.3 L1716.5 1606.4 L1718 1600.2 L1719.5 1606 L1721 1600.5 L1722.5 1606.7 L1724 1600.3 L1725.5 1606.6 L1727 1601 L1728.5 1606.4 L1730 1600.8 L1731.5 1606.5 L1733 1600.7 L1734.5 1606.4 L1736 1600.5 L1737.5 1606.5 L1739 1600.2 L1740.5 1606.2 L1742 1600.8 L1743.5 1606.1 L1745.1 1600.9 L1746.6 1606.8 L1748.1 1600.1 L1749.6 1606.1 L1751.1 1600.7 L1751.1 1603.5 L1755.3 1636 L1757.7 1638.3" fill="none" stroke="#d95319" stroke-width="6.2" stroke-linejoin="round" stroke-linecap="butt" clip-path="url(#c4)"/>
<path d="M1757 1638.6 L1773.5 1638.6" fill="none" stroke="#d95319" stroke-width="5" stroke-linejoin="round" stroke-linecap="butt"/>
<path d="M2044.1 1640.1 L2044.1 1287" fill="none" stroke="#d95319" stroke-width="6.2" stroke-linejoin="round" stroke-linecap="butt" clip-path="url(#c4)"/>
<path d="M2044.1 1292.7 L2045.6 1281.3 L2047.2 1292.9 L2048.7 1281.1 L2050.2 1291.7 L2051.7 1282.7 L2053.3 1291.6 L2054.8 1281.9 L2056.3 1291.2 L2057.8 1282.4 L2059.4 1292 L2060.9 1281.6 L2062.4 1291.5 L2064 1282.6 L2065.5 1291.8 L2067 1282.7 L2068.5 1291.4 L2070.1 1282.6 L2071.6 1292.6 L2073.1 1281.3 L2074.6 1291.3 L2076.2 1281.4 L2077.7 1292.6" fill="none" stroke="#d95319" stroke-width="6.2" stroke-linejoin="round" stroke-linecap="butt" clip-path="url(#c4)"/>
<path d="M180.4 1640 L180.4 1261.8" fill="none" stroke="#d95319" stroke-width="6.8" stroke-linejoin="round" stroke-linecap="butt"/>
<rect x="1454.8" y="1334.8" width="594.4" height="247.2" fill="#fff" stroke="#262626" stroke-width="3.1"/>
<line x1="1473.8" y1="1371.2" x2="1661.5" y2="1371.2" stroke="#4dbeee" stroke-width="6.2"/>
<text x="1675.2" y="1387.3" font-size="43.8" text-anchor="start" fill="#000">SC, without droop</text>
<line x1="1473.8" y1="1429.3" x2="1661.5" y2="1429.3" stroke="#a2142f" stroke-width="6.2"/>
<text x="1675.2" y="1445.5" font-size="43.8" text-anchor="start" fill="#000">Bat, without droop</text>
<line x1="1473.8" y1="1487.1" x2="1661.5" y2="1487.1" stroke="#0072bd" stroke-width="6.2"/>
<text x="1675.2" y="1503.3" font-size="43.8" text-anchor="start" fill="#000">SC, with droop</text>
<line x1="1473.8" y1="1545.6" x2="1661.5" y2="1545.6" stroke="#d95319" stroke-width="6.2"/>
<text x="1675.2" y="1561.5" font-size="43.8" text-anchor="start" fill="#000">Bat, with droop</text>
<line x1="355.1" y1="1770.3" x2="355.1" y2="2353.7" stroke="rgba(0,0,0,0.105)" stroke-width="3.3"/>
<line x1="530.7" y1="1770.3" x2="530.7" y2="2353.7" stroke="rgba(0,0,0,0.105)" stroke-width="3.3"/>
<line x1="706.2" y1="1770.3" x2="706.2" y2="2353.7" stroke="rgba(0,0,0,0.105)" stroke-width="3.3"/>
<line x1="881.8" y1="1770.3" x2="881.8" y2="2353.7" stroke="rgba(0,0,0,0.105)" stroke-width="3.3"/>
<line x1="1057.3" y1="1770.3" x2="1057.3" y2="2353.7" stroke="rgba(0,0,0,0.105)" stroke-width="3.3"/>
<line x1="1232.8" y1="1770.3" x2="1232.8" y2="2353.7" stroke="rgba(0,0,0,0.105)" stroke-width="3.3"/>
<line x1="1408.4" y1="1770.3" x2="1408.4" y2="2353.7" stroke="rgba(0,0,0,0.105)" stroke-width="3.3"/>
<line x1="1584" y1="1770.3" x2="1584" y2="2353.7" stroke="rgba(0,0,0,0.105)" stroke-width="3.3"/>
<line x1="1759.5" y1="1770.3" x2="1759.5" y2="2353.7" stroke="rgba(0,0,0,0.105)" stroke-width="3.3"/>
<line x1="1935" y1="1770.3" x2="1935" y2="2353.7" stroke="rgba(0,0,0,0.105)" stroke-width="3.3"/>
<line x1="179.6" y1="2159.2" x2="2075.5" y2="2159.2" stroke="rgba(0,0,0,0.105)" stroke-width="3.3"/>
<line x1="179.6" y1="1964.8" x2="2075.5" y2="1964.8" stroke="rgba(0,0,0,0.105)" stroke-width="3.3"/>
<rect x="179.6" y="1770.3" width="1896" height="583.4" fill="none" stroke="#262626" stroke-width="3.1"/>
<line x1="355.1" y1="2353.7" x2="355.1" y2="2333.1" stroke="#262626" stroke-width="3.1"/>
<line x1="355.1" y1="1770.3" x2="355.1" y2="1790.9" stroke="#262626" stroke-width="3.1"/>
<line x1="530.7" y1="2353.7" x2="530.7" y2="2333.1" stroke="#262626" stroke-width="3.1"/>
<line x1="530.7" y1="1770.3" x2="530.7" y2="1790.9" stroke="#262626" stroke-width="3.1"/>
<line x1="706.2" y1="2353.7" x2="706.2" y2="2333.1" stroke="#262626" stroke-width="3.1"/>
<line x1="706.2" y1="1770.3" x2="706.2" y2="1790.9" stroke="#262626" stroke-width="3.1"/>
<line x1="881.8" y1="2353.7" x2="881.8" y2="2333.1" stroke="#262626" stroke-width="3.1"/>
<line x1="881.8" y1="1770.3" x2="881.8" y2="1790.9" stroke="#262626" stroke-width="3.1"/>
<line x1="1057.3" y1="2353.7" x2="1057.3" y2="2333.1" stroke="#262626" stroke-width="3.1"/>
<line x1="1057.3" y1="1770.3" x2="1057.3" y2="1790.9" stroke="#262626" stroke-width="3.1"/>
<line x1="1232.8" y1="2353.7" x2="1232.8" y2="2333.1" stroke="#262626" stroke-width="3.1"/>
<line x1="1232.8" y1="1770.3" x2="1232.8" y2="1790.9" stroke="#262626" stroke-width="3.1"/>
<line x1="1408.4" y1="2353.7" x2="1408.4" y2="2333.1" stroke="#262626" stroke-width="3.1"/>
<line x1="1408.4" y1="1770.3" x2="1408.4" y2="1790.9" stroke="#262626" stroke-width="3.1"/>
<line x1="1584" y1="2353.7" x2="1584" y2="2333.1" stroke="#262626" stroke-width="3.1"/>
<line x1="1584" y1="1770.3" x2="1584" y2="1790.9" stroke="#262626" stroke-width="3.1"/>
<line x1="1759.5" y1="2353.7" x2="1759.5" y2="2333.1" stroke="#262626" stroke-width="3.1"/>
<line x1="1759.5" y1="1770.3" x2="1759.5" y2="1790.9" stroke="#262626" stroke-width="3.1"/>
<line x1="1935" y1="2353.7" x2="1935" y2="2333.1" stroke="#262626" stroke-width="3.1"/>
<line x1="1935" y1="1770.3" x2="1935" y2="1790.9" stroke="#262626" stroke-width="3.1"/>
<line x1="179.6" y1="2159.2" x2="200.2" y2="2159.2" stroke="#262626" stroke-width="3.1"/>
<line x1="2075.5" y1="2159.2" x2="2054.9" y2="2159.2" stroke="#262626" stroke-width="3.1"/>
<line x1="179.6" y1="1964.8" x2="200.2" y2="1964.8" stroke="#262626" stroke-width="3.1"/>
<line x1="2075.5" y1="1964.8" x2="2054.9" y2="1964.8" stroke="#262626" stroke-width="3.1"/>
<text x="168.1" y="2374.7" font-size="50" text-anchor="end" fill="#262626">0</text>
<text x="168.1" y="2180.2" font-size="50" text-anchor="end" fill="#262626">20</text>
<text x="168.1" y="1985.8" font-size="50" text-anchor="end" fill="#262626">40</text>
<text x="168.1" y="1791.3" font-size="50" text-anchor="end" fill="#262626">60</text>
<text x="177.2" y="2416.2" font-size="50" text-anchor="middle" fill="#262626">0</text>
<text x="354.3" y="2416.2" font-size="50" text-anchor="middle" fill="#262626">50</text>
<text x="528.9" y="2416.2" font-size="50" text-anchor="middle" fill="#262626">100</text>
<text x="704.4" y="2416.2" font-size="50" text-anchor="middle" fill="#262626">150</text>
<text x="880" y="2416.2" font-size="50" text-anchor="middle" fill="#262626">200</text>
<text x="1055.5" y="2416.2" font-size="50" text-anchor="middle" fill="#262626">250</text>
<text x="1231" y="2416.2" font-size="50" text-anchor="middle" fill="#262626">300</text>
<text x="1406.6" y="2416.2" font-size="50" text-anchor="middle" fill="#262626">350</text>
<text x="1582.2" y="2416.2" font-size="50" text-anchor="middle" fill="#262626">400</text>
<text x="1757.7" y="2416.2" font-size="50" text-anchor="middle" fill="#262626">450</text>
<text x="1933.2" y="2416.2" font-size="50" text-anchor="middle" fill="#262626">500</text>
<text x="1126.7" y="1746.3" font-size="56.7" text-anchor="middle" fill="#000">SC and battery losses (J)</text>
<text transform="translate(90 2062) rotate(-90)" font-size="55.8" text-anchor="middle" fill="#262626">Energy (J)</text>
<text x="1126" y="2484.1" font-size="55.8" text-anchor="middle" fill="#262626">time (sec)</text>
<path d="M179.6 2353.7 L214.7 2334.3 L267.3 2307 L355.1 2265.5 L442.9 2228.3 L530.7 2195.7 L618.4 2166 L706.2 2139.8 L794 2115.5 L881.8 2094.1 L969.5 2074.6 L1057.3 2056.2 L1145.1 2038.5 L1232.8 2021.6 L1320.6 2005.6 L1408.4 1990.5 L1496.2 1976.4 L1584 1964.8 L1636.6 1956.5 L1641.9 1955 L2075.5 1955" fill="none" stroke="#a2142f" stroke-width="6.2" stroke-linejoin="round" stroke-linecap="butt" clip-path="url(#c5)"/>
<path d="M179.6 2353.7 L1637.7 2353.7 L2075.5 2237.5" fill="none" stroke="#0072bd" stroke-width="6.2" stroke-linejoin="round" stroke-linecap="butt" clip-path="url(#c5)"/>
<path d="M179.6 2353.7 L214.7 2334.3 L267.3 2307 L355.1 2265.5 L442.9 2228.3 L530.7 2195.7 L618.4 2166 L706.2 2139.8 L794 2115.5 L881.8 2094.1 L969.5 2074.6 L1057.3 2056.2 L1145.1 2038.5 L1232.8 2021.6 L1320.6 2005.6 L1408.4 1990.5 L1496.2 1976.4 L1584 1964.8 L1636.6 1956.5 L1640.1 1955 L1671.7 1945.3 L1759.5 1922 L1935 1876.3 L2075.5 1839.3" fill="none" stroke="#000" stroke-width="6.2" stroke-linejoin="round" stroke-linecap="butt" stroke-dasharray="37.6 22.57" clip-path="url(#c5)"/>
<path d="M179.6 2353.7 L355.1 2320.6 L530.7 2290.5 L664.1 2270.1 L706.2 2263.8 L881.8 2235.1 L1074.9 2204.9 L1232.8 2179.7 L1433 2149.5 L1584 2124.2 L1752.5 2099.9 L1935 2069.8 L2042.8 2053.3 L2075.5 2054.2" fill="none" stroke="#edb120" stroke-width="6.2" stroke-linejoin="round" stroke-linecap="butt" clip-path="url(#c5)"/>
<path d="M179.6 2353.7 L355.1 2344.5 L530.7 2337 L706.2 2330.7 L881.8 2325.8 L1057.3 2322.1 L1232.8 2319.7 L1408.4 2318 L1584 2317 L1752.5 2316.8 L2043.9 2316.8 L2075.5 2309.5" fill="none" stroke="#7e2f8e" stroke-width="6.2" stroke-linejoin="round" stroke-linecap="butt" clip-path="url(#c5)"/>
<path d="M179.6 2353.7 L355.1 2311.4 L530.7 2274 L706.2 2240.9 L881.8 2207.9 L1057.3 2173.8 L1232.8 2147.6 L1408.4 2116.5 L1584 2089.7 L1759.5 2063 L1935 2033.8 L2043.9 2016.3 L2075.5 2008.5" fill="none" stroke="#77ac30" stroke-width="6.2" stroke-linejoin="round" stroke-linecap="butt" stroke-dasharray="37.6 22.57" clip-path="url(#c5)"/>
<rect x="198.3" y="1793.3" width="899.2" height="391.2" fill="#fff" stroke="#262626" stroke-width="3.1"/>
<line x1="217" y1="1832.6" x2="405.4" y2="1832.6" stroke="#a2142f" stroke-width="6.2"/>
<text x="419.4" y="1850.8" font-size="45.2" text-anchor="start" fill="#000">SC, without droop</text>
<line x1="217" y1="1895.4" x2="405.4" y2="1895.4" stroke="#0072bd" stroke-width="6.2"/>
<text x="419.4" y="1913.6" font-size="45.2" text-anchor="start" fill="#000">Bat,without droop</text>
<line x1="217" y1="1957.8" x2="405.4" y2="1957.8" stroke="#000" stroke-width="6.2" stroke-dasharray="37.6 22.57"/>
<text x="419.4" y="1976" font-size="45.2" text-anchor="start" fill="#000">HESS total losses, without droop</text>
<line x1="217" y1="2020.3" x2="405.4" y2="2020.3" stroke="#edb120" stroke-width="6.2"/>
<text x="419.4" y="2038.5" font-size="45.2" text-anchor="start" fill="#000">SC, with droop</text>
<line x1="217" y1="2082.9" x2="405.4" y2="2082.9" stroke="#7e2f8e" stroke-width="6.2"/>
<text x="419.4" y="2101.1" font-size="45.2" text-anchor="start" fill="#000">Bat, with droop</text>
<line x1="217" y1="2144.9" x2="405.4" y2="2144.9" stroke="#77ac30" stroke-width="6.2" stroke-dasharray="37.6 22.57"/>
<text x="419.4" y="2163.1" font-size="45.2" text-anchor="start" fill="#000">HESS total losses, with droop</text>
</svg>
</body></html>
